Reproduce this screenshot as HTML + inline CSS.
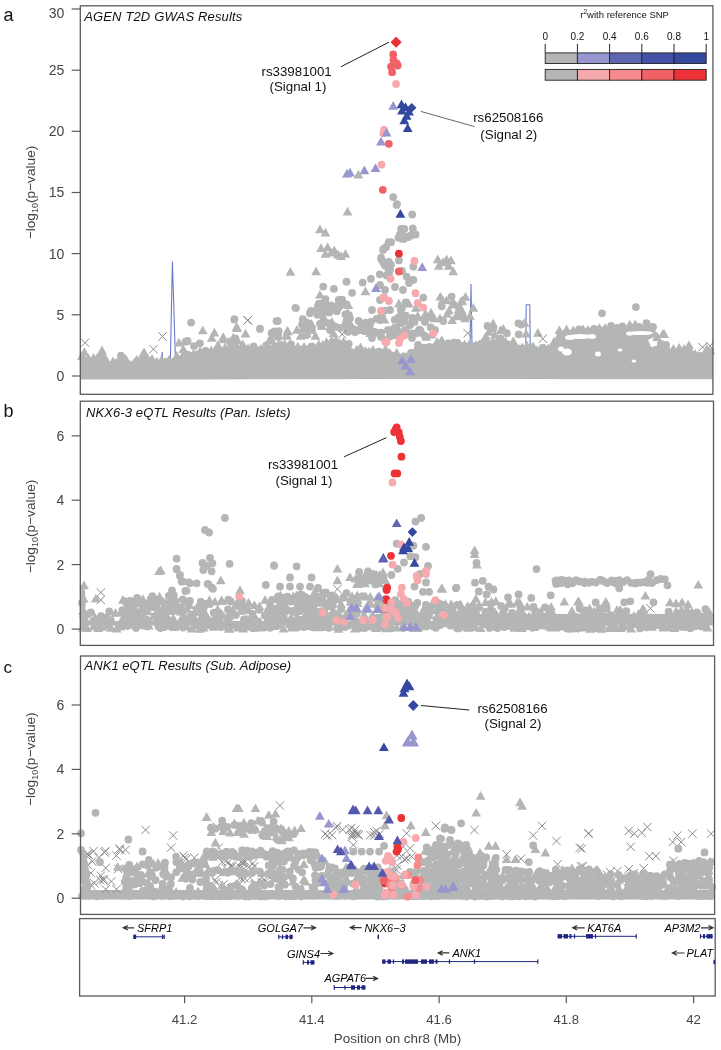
<!DOCTYPE html><html><head><meta charset="utf-8"><style>html,body{margin:0;padding:0;background:#fff;width:721px;height:1050px;overflow:hidden}svg{display:block;will-change:transform}text{font-family:"Liberation Sans",sans-serif}.tk{font-size:14px;fill:#444}.ti{font-size:13px;font-style:italic;fill:#111}.an{font-size:13.3px;fill:#111}.gn{font-size:11px;font-style:italic;fill:#000}</style></head><body><svg width="721" height="1050" viewBox="0 0 721 1050"><path d="M160.0 378.0L162.2 352.0L163.5 378.0M170.0 378.0L172.4 261.5L176.0 378.0M469.5 378.0L471.0 284.0L472.5 378.0M525.5 378.0L526.2 304.7L529.8 304.7L530.5 378.0" fill="none" stroke="#6b7bcc" stroke-width="1.1"/>
<path d="M80.8 357.0L84.4 355.0L88.0 360.0L91.0 360.5L97.0 358.0L102.0 355.0L107.7 362.0L113.3 360.5L119.0 357.0L124.4 359.6L131.0 363.0L134.4 358.0L139.0 359.0L144.4 355.0L151.0 357.4L157.7 360.0L165.0 358.0L172.0 358.5L183.0 355.5L194.4 351.0L207.7 348.8L216.6 349.5L238.8 345.5L261.0 346.5L283.0 344.5L305.3 345.5L318.8 344.5L341.0 340.5L354.0 349.5L363.0 348.5L385.0 349.5L402.0 354.5L440.0 341.0L470.0 343.0L500.0 339.0L520.0 345.0L540.0 348.0L552.5 344.5L558.0 331.5L581.6 328.7L606.6 326.2L640.0 325.9L648.3 324.5L656.0 331.5L660.0 335.5L652.0 338.0L648.0 340.0L651.2 347.0L658.3 345.5L666.6 345.0L672.5 350.5L679.5 348.0L685.4 347.0L697.2 354.0L707.8 350.0L712.5 348.0L712.5 379.2L600.0 379.2L500.0 379.0L400.0 379.0L300.0 379.2L200.0 379.4L80.8 379.6ZM327.0 307.5a3.9 3.9 0 1 1 7.8 0a3.9 3.9 0 1 1 -7.8 0M327.5 306.6a3.9 3.9 0 1 1 7.8 0a3.9 3.9 0 1 1 -7.8 0M318.2 306.7a3.9 3.9 0 1 1 7.8 0a3.9 3.9 0 1 1 -7.8 0M338.3 299.6a3.9 3.9 0 1 1 7.8 0a3.9 3.9 0 1 1 -7.8 0M315.1 311.8a3.9 3.9 0 1 1 7.8 0a3.9 3.9 0 1 1 -7.8 0M313.5 314.7a3.9 3.9 0 1 1 7.8 0a3.9 3.9 0 1 1 -7.8 0M333.7 308.5a3.9 3.9 0 1 1 7.8 0a3.9 3.9 0 1 1 -7.8 0M316.5 302.6l4.9 8.7h-9.8zM322.3 297.8l4.9 8.7h-9.8zM327.4 305.5a3.9 3.9 0 1 1 7.8 0a3.9 3.9 0 1 1 -7.8 0M329.2 308.9a3.9 3.9 0 1 1 7.8 0a3.9 3.9 0 1 1 -7.8 0M334.0 305.8a3.9 3.9 0 1 1 7.8 0a3.9 3.9 0 1 1 -7.8 0M345.0 314.9a3.9 3.9 0 1 1 7.8 0a3.9 3.9 0 1 1 -7.8 0M335.5 303.4a3.9 3.9 0 1 1 7.8 0a3.9 3.9 0 1 1 -7.8 0M321.6 299.2a3.9 3.9 0 1 1 7.8 0a3.9 3.9 0 1 1 -7.8 0M325.3 312.4a3.9 3.9 0 1 1 7.8 0a3.9 3.9 0 1 1 -7.8 0M347.6 308.1l4.9 8.7h-9.8zM319.0 313.5a3.9 3.9 0 1 1 7.8 0a3.9 3.9 0 1 1 -7.8 0M348.4 300.4l4.9 8.7h-9.8zM332.9 311.2a3.9 3.9 0 1 1 7.8 0a3.9 3.9 0 1 1 -7.8 0M315.0 303.7a3.9 3.9 0 1 1 7.8 0a3.9 3.9 0 1 1 -7.8 0M337.1 300.0a3.9 3.9 0 1 1 7.8 0a3.9 3.9 0 1 1 -7.8 0M298.9 319.1a3.9 3.9 0 1 1 7.8 0a3.9 3.9 0 1 1 -7.8 0M301.9 328.1a3.9 3.9 0 1 1 7.8 0a3.9 3.9 0 1 1 -7.8 0M306.2 326.8l4.9 8.7h-9.8zM319.6 320.1a3.9 3.9 0 1 1 7.8 0a3.9 3.9 0 1 1 -7.8 0M303.2 322.9a3.9 3.9 0 1 1 7.8 0a3.9 3.9 0 1 1 -7.8 0M325.6 323.5a3.9 3.9 0 1 1 7.8 0a3.9 3.9 0 1 1 -7.8 0M303.1 325.1a3.9 3.9 0 1 1 7.8 0a3.9 3.9 0 1 1 -7.8 0M319.5 319.8a3.9 3.9 0 1 1 7.8 0a3.9 3.9 0 1 1 -7.8 0M303.2 322.6a3.9 3.9 0 1 1 7.8 0a3.9 3.9 0 1 1 -7.8 0M311.5 319.0l4.9 8.7h-9.8zM302.4 324.1l4.9 8.7h-9.8zM317.9 324.7a3.9 3.9 0 1 1 7.8 0a3.9 3.9 0 1 1 -7.8 0M331.5 326.7a3.9 3.9 0 1 1 7.8 0a3.9 3.9 0 1 1 -7.8 0M331.9 316.9l4.9 8.7h-9.8zM333.5 328.4l4.9 8.7h-9.8zM302.3 331.3a3.9 3.9 0 1 1 7.8 0a3.9 3.9 0 1 1 -7.8 0M302.6 335.1a3.9 3.9 0 1 1 7.8 0a3.9 3.9 0 1 1 -7.8 0M321.9 321.2l4.9 8.7h-9.8zM300.5 331.0l4.9 8.7h-9.8zM321.9 322.6a3.9 3.9 0 1 1 7.8 0a3.9 3.9 0 1 1 -7.8 0M366.5 320.2l4.9 8.7h-9.8zM367.0 321.8a3.9 3.9 0 1 1 7.8 0a3.9 3.9 0 1 1 -7.8 0M361.2 331.2a3.9 3.9 0 1 1 7.8 0a3.9 3.9 0 1 1 -7.8 0M351.2 332.0a3.9 3.9 0 1 1 7.8 0a3.9 3.9 0 1 1 -7.8 0M341.7 324.2a3.9 3.9 0 1 1 7.8 0a3.9 3.9 0 1 1 -7.8 0M343.3 323.1a3.9 3.9 0 1 1 7.8 0a3.9 3.9 0 1 1 -7.8 0M361.7 322.6a3.9 3.9 0 1 1 7.8 0a3.9 3.9 0 1 1 -7.8 0M373.2 332.8a3.9 3.9 0 1 1 7.8 0a3.9 3.9 0 1 1 -7.8 0M369.9 323.7l4.9 8.7h-9.8zM342.4 321.2a3.9 3.9 0 1 1 7.8 0a3.9 3.9 0 1 1 -7.8 0M370.2 328.2l4.9 8.7h-9.8zM364.0 326.8a3.9 3.9 0 1 1 7.8 0a3.9 3.9 0 1 1 -7.8 0M388.1 331.6l4.9 8.7h-9.8zM393.5 330.5a3.9 3.9 0 1 1 7.8 0a3.9 3.9 0 1 1 -7.8 0M401.3 329.8a3.9 3.9 0 1 1 7.8 0a3.9 3.9 0 1 1 -7.8 0M408.6 322.4a3.9 3.9 0 1 1 7.8 0a3.9 3.9 0 1 1 -7.8 0M408.0 333.3a3.9 3.9 0 1 1 7.8 0a3.9 3.9 0 1 1 -7.8 0M403.5 333.1a3.9 3.9 0 1 1 7.8 0a3.9 3.9 0 1 1 -7.8 0M396.7 323.0a3.9 3.9 0 1 1 7.8 0a3.9 3.9 0 1 1 -7.8 0M396.1 316.7a3.9 3.9 0 1 1 7.8 0a3.9 3.9 0 1 1 -7.8 0M411.8 333.5a3.9 3.9 0 1 1 7.8 0a3.9 3.9 0 1 1 -7.8 0M387.0 330.4a3.9 3.9 0 1 1 7.8 0a3.9 3.9 0 1 1 -7.8 0M393.1 328.3l4.9 8.7h-9.8zM401.9 315.6a3.9 3.9 0 1 1 7.8 0a3.9 3.9 0 1 1 -7.8 0M390.8 319.8a3.9 3.9 0 1 1 7.8 0a3.9 3.9 0 1 1 -7.8 0M391.5 327.9a3.9 3.9 0 1 1 7.8 0a3.9 3.9 0 1 1 -7.8 0M415.9 303.0l4.9 8.7h-9.8zM425.6 308.9l4.9 8.7h-9.8zM426.9 327.5a3.9 3.9 0 1 1 7.8 0a3.9 3.9 0 1 1 -7.8 0M426.6 317.1a3.9 3.9 0 1 1 7.8 0a3.9 3.9 0 1 1 -7.8 0M410.7 320.4a3.9 3.9 0 1 1 7.8 0a3.9 3.9 0 1 1 -7.8 0M431.0 329.9l4.9 8.7h-9.8zM423.4 312.5l4.9 8.7h-9.8zM417.5 332.9a3.9 3.9 0 1 1 7.8 0a3.9 3.9 0 1 1 -7.8 0M426.4 332.1l4.9 8.7h-9.8zM413.9 316.6l4.9 8.7h-9.8zM437.9 306.3a3.9 3.9 0 1 1 7.8 0a3.9 3.9 0 1 1 -7.8 0M449.3 303.9a3.9 3.9 0 1 1 7.8 0a3.9 3.9 0 1 1 -7.8 0M473.3 303.0l4.9 8.7h-9.8zM434.3 313.5l4.9 8.7h-9.8zM462.1 305.9l4.9 8.7h-9.8zM465.5 292.1l4.9 8.7h-9.8zM447.7 296.6a3.9 3.9 0 1 1 7.8 0a3.9 3.9 0 1 1 -7.8 0M442.7 295.2l4.9 8.7h-9.8zM454.9 307.2a3.9 3.9 0 1 1 7.8 0a3.9 3.9 0 1 1 -7.8 0M456.0 316.2a3.9 3.9 0 1 1 7.8 0a3.9 3.9 0 1 1 -7.8 0M461.1 296.6l4.9 8.7h-9.8zM440.3 291.9l4.9 8.7h-9.8zM462.3 296.1l4.9 8.7h-9.8zM447.2 309.1l4.9 8.7h-9.8zM381.5 265.7a3.9 3.9 0 1 1 7.8 0a3.9 3.9 0 1 1 -7.8 0M388.5 266.5l4.9 8.7h-9.8zM387.0 264.6a3.9 3.9 0 1 1 7.8 0a3.9 3.9 0 1 1 -7.8 0M378.8 261.3a3.9 3.9 0 1 1 7.8 0a3.9 3.9 0 1 1 -7.8 0M377.5 259.3a3.9 3.9 0 1 1 7.8 0a3.9 3.9 0 1 1 -7.8 0M384.6 272.1a3.9 3.9 0 1 1 7.8 0a3.9 3.9 0 1 1 -7.8 0M382.2 247.0a3.9 3.9 0 1 1 7.8 0a3.9 3.9 0 1 1 -7.8 0M385.0 261.8a3.9 3.9 0 1 1 7.8 0a3.9 3.9 0 1 1 -7.8 0M397.9 238.8a3.9 3.9 0 1 1 7.8 0a3.9 3.9 0 1 1 -7.8 0M411.7 234.4a3.9 3.9 0 1 1 7.8 0a3.9 3.9 0 1 1 -7.8 0M399.9 238.9a3.9 3.9 0 1 1 7.8 0a3.9 3.9 0 1 1 -7.8 0M400.4 229.0a3.9 3.9 0 1 1 7.8 0a3.9 3.9 0 1 1 -7.8 0M404.0 237.2a3.9 3.9 0 1 1 7.8 0a3.9 3.9 0 1 1 -7.8 0M394.6 237.7a3.9 3.9 0 1 1 7.8 0a3.9 3.9 0 1 1 -7.8 0M288.0 326.6l4.9 8.7h-9.8zM287.3 326.0l4.9 8.7h-9.8zM267.1 340.3a3.9 3.9 0 1 1 7.8 0a3.9 3.9 0 1 1 -7.8 0M281.4 339.7l4.9 8.7h-9.8zM296.9 325.1l4.9 8.7h-9.8zM267.7 332.9a3.9 3.9 0 1 1 7.8 0a3.9 3.9 0 1 1 -7.8 0M274.4 336.9a3.9 3.9 0 1 1 7.8 0a3.9 3.9 0 1 1 -7.8 0M273.6 328.9l4.9 8.7h-9.8zM290.7 339.0l4.9 8.7h-9.8zM287.1 344.5a3.9 3.9 0 1 1 7.8 0a3.9 3.9 0 1 1 -7.8 0M270.5 331.4a3.9 3.9 0 1 1 7.8 0a3.9 3.9 0 1 1 -7.8 0M270.2 333.9l4.9 8.7h-9.8zM537.9 328.0l4.9 8.7h-9.8zM526.1 328.9l4.9 8.7h-9.8zM514.5 323.3a3.9 3.9 0 1 1 7.8 0a3.9 3.9 0 1 1 -7.8 0M495.1 341.1a3.9 3.9 0 1 1 7.8 0a3.9 3.9 0 1 1 -7.8 0M488.8 327.1l4.9 8.7h-9.8zM496.5 338.3a3.9 3.9 0 1 1 7.8 0a3.9 3.9 0 1 1 -7.8 0M503.4 324.0l4.9 8.7h-9.8zM513.3 336.2l4.9 8.7h-9.8zM524.6 318.1l4.9 8.7h-9.8zM485.9 331.4l4.9 8.7h-9.8zM494.9 330.0l4.9 8.7h-9.8zM517.3 324.5a3.9 3.9 0 1 1 7.8 0a3.9 3.9 0 1 1 -7.8 0M483.6 326.0a3.9 3.9 0 1 1 7.8 0a3.9 3.9 0 1 1 -7.8 0M500.6 325.2l4.9 8.7h-9.8zM211.8 333.0l4.9 8.7h-9.8zM217.9 340.2l4.9 8.7h-9.8zM227.2 344.2a3.9 3.9 0 1 1 7.8 0a3.9 3.9 0 1 1 -7.8 0M190.1 346.1a3.9 3.9 0 1 1 7.8 0a3.9 3.9 0 1 1 -7.8 0M234.2 335.4l4.9 8.7h-9.8zM231.5 338.3a3.9 3.9 0 1 1 7.8 0a3.9 3.9 0 1 1 -7.8 0M233.3 332.7l4.9 8.7h-9.8zM223.6 334.5l4.9 8.7h-9.8zM226.0 341.3a3.9 3.9 0 1 1 7.8 0a3.9 3.9 0 1 1 -7.8 0M183.7 341.0a3.9 3.9 0 1 1 7.8 0a3.9 3.9 0 1 1 -7.8 0M357.7 327.2a3.9 3.9 0 1 1 7.8 0a3.9 3.9 0 1 1 -7.8 0M346.1 318.2a3.9 3.9 0 1 1 7.8 0a3.9 3.9 0 1 1 -7.8 0M350.7 329.3a3.9 3.9 0 1 1 7.8 0a3.9 3.9 0 1 1 -7.8 0M362.2 325.8a3.9 3.9 0 1 1 7.8 0a3.9 3.9 0 1 1 -7.8 0M350.1 319.8l4.9 8.7h-9.8zM372.8 318.8a3.9 3.9 0 1 1 7.8 0a3.9 3.9 0 1 1 -7.8 0M343.7 327.6a3.9 3.9 0 1 1 7.8 0a3.9 3.9 0 1 1 -7.8 0M359.2 325.4l4.9 8.7h-9.8zM343.2 330.8a3.9 3.9 0 1 1 7.8 0a3.9 3.9 0 1 1 -7.8 0M344.3 331.8a3.9 3.9 0 1 1 7.8 0a3.9 3.9 0 1 1 -7.8 0M384.5 314.7l4.9 8.7h-9.8zM392.5 323.6l4.9 8.7h-9.8zM407.9 298.0l4.9 8.7h-9.8zM408.7 318.0a3.9 3.9 0 1 1 7.8 0a3.9 3.9 0 1 1 -7.8 0M399.9 321.5a3.9 3.9 0 1 1 7.8 0a3.9 3.9 0 1 1 -7.8 0M377.3 332.7a3.9 3.9 0 1 1 7.8 0a3.9 3.9 0 1 1 -7.8 0M415.2 329.9a3.9 3.9 0 1 1 7.8 0a3.9 3.9 0 1 1 -7.8 0M390.6 331.1a3.9 3.9 0 1 1 7.8 0a3.9 3.9 0 1 1 -7.8 0M380.7 310.6a3.9 3.9 0 1 1 7.8 0a3.9 3.9 0 1 1 -7.8 0M396.6 336.5a3.9 3.9 0 1 1 7.8 0a3.9 3.9 0 1 1 -7.8 0M377.2 337.0a3.9 3.9 0 1 1 7.8 0a3.9 3.9 0 1 1 -7.8 0M396.9 310.0a3.9 3.9 0 1 1 7.8 0a3.9 3.9 0 1 1 -7.8 0M395.5 330.4l4.9 8.7h-9.8zM398.1 308.0a3.9 3.9 0 1 1 7.8 0a3.9 3.9 0 1 1 -7.8 0M381.5 308.1l4.9 8.7h-9.8zM401.6 302.3a3.9 3.9 0 1 1 7.8 0a3.9 3.9 0 1 1 -7.8 0M80.8 621.0L712.8 621.0L712.8 625.5L80.8 625.5ZM440.0 614.0L712.8 614.0L712.8 622.0L440.0 622.0ZM80.8 585.0L85.0 590.0L86.0 628.0L80.8 628.0ZM80.8 890.0L714.0 890.0L714.0 899.6L80.8 899.6Z" fill="#b4b6b5"/>
<path d="M568.0 336.5a12 2.5 0 1 1 24.0 0a12 2.5 0 1 1 -24.0 0M565.0 337.5a5 2.5 0 1 1 10.0 0a5 2.5 0 1 1 -10.0 0M588.0 336.5a4 2.5 0 1 1 8.0 0a4 2.5 0 1 1 -8.0 0M629.0 333.0a12 2 0 1 1 24.0 0a12 2 0 1 1 -24.0 0M626.0 333.5a4 2 0 1 1 8.0 0a4 2 0 1 1 -8.0 0M562.0 352.0a5 3.5 0 1 1 10.0 0a5 3.5 0 1 1 -10.0 0M558.0 349.0a3 2.5 0 1 1 6.0 0a3 2.5 0 1 1 -6.0 0M595.0 354.0a3 2.5 0 1 1 6.0 0a3 2.5 0 1 1 -6.0 0M631.5 361.0a2.5 1.5 0 1 1 5.0 0a2.5 1.5 0 1 1 -5.0 0M617.5 350.0a2.5 1.5 0 1 1 5.0 0a2.5 1.5 0 1 1 -5.0 0" fill="#ffffff"/>
<path d="M80.8 338.5l8.4 8.4M80.8 346.9l8.4 -8.4M149.3 345.0l8.4 8.4M149.3 353.4l8.4 -8.4M158.3 332.3l8.4 8.4M158.3 340.7l8.4 -8.4M243.6 316.1l8.4 8.4M243.6 324.5l8.4 -8.4M243.4 316.2l8.4 8.4M243.4 324.6l8.4 -8.4M337.9 330.1l8.4 8.4M337.9 338.5l8.4 -8.4M463.5 329.0l8.4 8.4M463.5 337.4l8.4 -8.4M538.6 334.5l8.4 8.4M538.6 342.9l8.4 -8.4M698.3 343.0l8.4 8.4M698.3 351.4l8.4 -8.4M705.8 341.6l8.4 8.4M705.8 350.0l8.4 -8.4M96.6 588.3l8.4 8.4M96.6 596.7l8.4 -8.4M96.6 595.8l8.4 8.4M96.6 604.2l8.4 -8.4M333.2 584.9l8.4 8.4M333.2 593.3l8.4 -8.4M289.1 594.1l8.4 8.4M289.1 602.5l8.4 -8.4M225.8 620.8l8.4 8.4M225.8 629.2l8.4 -8.4M646.3 604.2l8.4 8.4M646.3 612.6l8.4 -8.4M569.8 624.3l8.4 8.4M569.8 632.7l8.4 -8.4M141.3 825.8l8.4 8.4M141.3 834.2l8.4 -8.4M169.0 831.3l8.4 8.4M169.0 839.7l8.4 -8.4M166.8 843.5l8.4 8.4M166.8 851.9l8.4 -8.4M121.3 845.7l8.4 8.4M121.3 854.1l8.4 -8.4M101.3 846.8l8.4 8.4M101.3 855.2l8.4 -8.4M94.7 853.5l8.4 8.4M94.7 861.9l8.4 -8.4M182.3 854.6l8.4 8.4M182.3 863.0l8.4 -8.4M190.1 853.5l8.4 8.4M190.1 861.9l8.4 -8.4M212.3 822.4l8.4 8.4M212.3 830.8l8.4 -8.4M214.5 843.5l8.4 8.4M214.5 851.9l8.4 -8.4M275.7 801.3l8.4 8.4M275.7 809.7l8.4 -8.4M431.6 821.6l8.4 8.4M431.6 830.0l8.4 -8.4M402.4 829.1l8.4 8.4M402.4 837.5l8.4 -8.4M349.1 840.8l8.4 8.4M349.1 849.2l8.4 -8.4M405.8 844.1l8.4 8.4M405.8 852.5l8.4 -8.4M402.4 854.1l8.4 8.4M402.4 862.5l8.4 -8.4M407.4 852.4l8.4 8.4M407.4 860.8l8.4 -8.4M392.4 865.8l8.4 8.4M392.4 874.2l8.4 -8.4M395.8 872.4l8.4 8.4M395.8 880.8l8.4 -8.4M444.1 867.4l8.4 8.4M444.1 875.8l8.4 -8.4M537.9 821.7l8.4 8.4M537.9 830.1l8.4 -8.4M529.0 831.3l8.4 8.4M529.0 839.7l8.4 -8.4M552.3 836.8l8.4 8.4M552.3 845.2l8.4 -8.4M584.5 829.0l8.4 8.4M584.5 837.4l8.4 -8.4M575.6 843.5l8.4 8.4M575.6 851.9l8.4 -8.4M553.4 860.1l8.4 8.4M553.4 868.5l8.4 -8.4M576.8 862.3l8.4 8.4M576.8 870.7l8.4 -8.4M489.1 861.2l8.4 8.4M489.1 869.6l8.4 -8.4M502.4 850.1l8.4 8.4M502.4 858.5l8.4 -8.4M516.8 854.6l8.4 8.4M516.8 863.0l8.4 -8.4M470.2 825.8l8.4 8.4M470.2 834.2l8.4 -8.4M584.2 829.5l8.4 8.4M584.2 837.9l8.4 -8.4M624.5 826.7l8.4 8.4M624.5 835.1l8.4 -8.4M630.1 829.5l8.4 8.4M630.1 837.9l8.4 -8.4M637.6 828.5l8.4 8.4M637.6 836.9l8.4 -8.4M643.2 822.9l8.4 8.4M643.2 831.3l8.4 -8.4M626.4 842.6l8.4 8.4M626.4 851.0l8.4 -8.4M577.7 844.5l8.4 8.4M577.7 852.9l8.4 -8.4M673.2 831.3l8.4 8.4M673.2 839.7l8.4 -8.4M668.5 837.9l8.4 8.4M668.5 846.3l8.4 -8.4M676.9 837.9l8.4 8.4M676.9 846.3l8.4 -8.4M688.2 829.5l8.4 8.4M688.2 837.9l8.4 -8.4M706.9 829.5l8.4 8.4M706.9 837.9l8.4 -8.4M645.1 851.9l8.4 8.4M645.1 860.3l8.4 -8.4M651.6 851.9l8.4 8.4M651.6 860.3l8.4 -8.4M669.4 856.6l8.4 8.4M669.4 865.0l8.4 -8.4M683.5 859.4l8.4 8.4M683.5 867.8l8.4 -8.4M578.6 862.2l8.4 8.4M578.6 870.6l8.4 -8.4M605.8 867.9l8.4 8.4M605.8 876.3l8.4 -8.4M613.3 866.9l8.4 8.4M613.3 875.3l8.4 -8.4M624.5 865.1l8.4 8.4M624.5 873.5l8.4 -8.4M639.5 864.1l8.4 8.4M639.5 872.5l8.4 -8.4M113.9 864.8l8.4 8.4M113.9 873.2l8.4 -8.4M101.5 885.1l8.4 8.4M101.5 893.5l8.4 -8.4M90.1 879.0l8.4 8.4M90.1 887.4l8.4 -8.4M83.5 849.8l8.4 8.4M83.5 858.2l8.4 -8.4M88.1 857.2l8.4 8.4M88.1 865.6l8.4 -8.4M86.7 868.8l8.4 8.4M86.7 877.2l8.4 -8.4M112.3 885.0l8.4 8.4M112.3 893.4l8.4 -8.4M100.3 848.2l8.4 8.4M100.3 856.6l8.4 -8.4M112.2 851.4l8.4 8.4M112.2 859.8l8.4 -8.4M101.5 863.8l8.4 8.4M101.5 872.2l8.4 -8.4M96.2 876.0l8.4 8.4M96.2 884.4l8.4 -8.4M83.4 860.7l8.4 8.4M83.4 869.1l8.4 -8.4M116.0 845.7l8.4 8.4M116.0 854.1l8.4 -8.4M96.7 871.5l8.4 8.4M96.7 879.9l8.4 -8.4M115.4 844.4l8.4 8.4M115.4 852.8l8.4 -8.4M99.2 876.2l8.4 8.4M99.2 884.6l8.4 -8.4M99.3 874.8l8.4 8.4M99.3 883.2l8.4 -8.4M83.1 850.0l8.4 8.4M83.1 858.4l8.4 -8.4M86.5 881.0l8.4 8.4M86.5 889.4l8.4 -8.4M107.0 877.3l8.4 8.4M107.0 885.7l8.4 -8.4M84.8 850.9l8.4 8.4M84.8 859.3l8.4 -8.4M89.4 846.9l8.4 8.4M89.4 855.3l8.4 -8.4M232.9 863.6l8.4 8.4M232.9 872.0l8.4 -8.4M237.2 857.4l8.4 8.4M237.2 865.8l8.4 -8.4M236.5 863.4l8.4 8.4M236.5 871.8l8.4 -8.4M238.7 856.4l8.4 8.4M238.7 864.8l8.4 -8.4M250.0 862.2l8.4 8.4M250.0 870.6l8.4 -8.4M226.5 861.6l8.4 8.4M226.5 870.0l8.4 -8.4M224.3 857.9l8.4 8.4M224.3 866.3l8.4 -8.4M244.5 863.1l8.4 8.4M244.5 871.5l8.4 -8.4M217.9 857.9l8.4 8.4M217.9 866.3l8.4 -8.4M248.7 859.2l8.4 8.4M248.7 867.6l8.4 -8.4M239.8 864.5l8.4 8.4M239.8 872.9l8.4 -8.4M221.4 857.1l8.4 8.4M221.4 865.5l8.4 -8.4M241.0 857.1l8.4 8.4M241.0 865.5l8.4 -8.4M228.1 862.0l8.4 8.4M228.1 870.4l8.4 -8.4M238.3 859.0l8.4 8.4M238.3 867.4l8.4 -8.4M223.2 865.5l8.4 8.4M223.2 873.9l8.4 -8.4M259.8 878.6l8.4 8.4M259.8 887.0l8.4 -8.4M251.3 880.0l8.4 8.4M251.3 888.4l8.4 -8.4M219.3 880.3l8.4 8.4M219.3 888.7l8.4 -8.4M235.3 879.8l8.4 8.4M235.3 888.2l8.4 -8.4M257.5 878.4l8.4 8.4M257.5 886.8l8.4 -8.4M257.5 872.9l8.4 8.4M257.5 881.3l8.4 -8.4M240.7 874.2l8.4 8.4M240.7 882.6l8.4 -8.4M236.2 873.5l8.4 8.4M236.2 881.9l8.4 -8.4M211.0 875.8l8.4 8.4M211.0 884.2l8.4 -8.4M211.8 878.1l8.4 8.4M211.8 886.5l8.4 -8.4M245.9 873.4l8.4 8.4M245.9 881.8l8.4 -8.4M259.8 875.6l8.4 8.4M259.8 884.0l8.4 -8.4M250.1 880.6l8.4 8.4M250.1 889.0l8.4 -8.4M237.6 875.0l8.4 8.4M237.6 883.4l8.4 -8.4M327.9 831.0l8.4 8.4M327.9 839.4l8.4 -8.4M345.5 825.5l8.4 8.4M345.5 833.9l8.4 -8.4M347.6 832.7l8.4 8.4M347.6 841.1l8.4 -8.4M320.9 829.7l8.4 8.4M320.9 838.1l8.4 -8.4M332.9 821.9l8.4 8.4M332.9 830.3l8.4 -8.4M347.2 823.7l8.4 8.4M347.2 832.1l8.4 -8.4M338.6 825.4l8.4 8.4M338.6 833.8l8.4 -8.4M323.2 831.5l8.4 8.4M323.2 839.9l8.4 -8.4M331.8 823.5l8.4 8.4M331.8 831.9l8.4 -8.4M352.3 829.9l8.4 8.4M352.3 838.3l8.4 -8.4M372.4 826.7l8.4 8.4M372.4 835.1l8.4 -8.4M370.1 828.1l8.4 8.4M370.1 836.5l8.4 -8.4M347.6 830.3l8.4 8.4M347.6 838.7l8.4 -8.4M375.5 829.7l8.4 8.4M375.5 838.1l8.4 -8.4M369.8 831.4l8.4 8.4M369.8 839.8l8.4 -8.4M349.2 829.8l8.4 8.4M349.2 838.2l8.4 -8.4M353.3 829.9l8.4 8.4M353.3 838.3l8.4 -8.4M366.2 830.8l8.4 8.4M366.2 839.2l8.4 -8.4M354.6 831.0l8.4 8.4M354.6 839.4l8.4 -8.4M350.9 825.6l8.4 8.4M350.9 834.0l8.4 -8.4M607.0 877.2l8.4 8.4M607.0 885.6l8.4 -8.4M602.6 870.3l8.4 8.4M602.6 878.7l8.4 -8.4M572.2 872.4l8.4 8.4M572.2 880.8l8.4 -8.4M585.6 873.3l8.4 8.4M585.6 881.7l8.4 -8.4M556.1 878.8l8.4 8.4M556.1 887.2l8.4 -8.4M566.2 880.2l8.4 8.4M566.2 888.6l8.4 -8.4M582.9 877.7l8.4 8.4M582.9 886.1l8.4 -8.4M602.8 876.1l8.4 8.4M602.8 884.5l8.4 -8.4M675.3 869.8l8.4 8.4M675.3 878.2l8.4 -8.4M636.5 874.0l8.4 8.4M636.5 882.4l8.4 -8.4M648.7 874.7l8.4 8.4M648.7 883.1l8.4 -8.4M680.2 868.1l8.4 8.4M680.2 876.5l8.4 -8.4M691.5 871.3l8.4 8.4M691.5 879.7l8.4 -8.4M643.3 874.9l8.4 8.4M643.3 883.3l8.4 -8.4M651.9 874.6l8.4 8.4M651.9 883.0l8.4 -8.4M629.5 869.0l8.4 8.4M629.5 877.4l8.4 -8.4M399.0 842.4l8.4 8.4M399.0 850.8l8.4 -8.4M392.8 851.3l8.4 8.4M392.8 859.7l8.4 -8.4M393.4 861.5l8.4 8.4M393.4 869.9l8.4 -8.4M388.1 859.9l8.4 8.4M388.1 868.3l8.4 -8.4M400.2 855.2l8.4 8.4M400.2 863.6l8.4 -8.4M397.3 852.1l8.4 8.4M397.3 860.5l8.4 -8.4M181.7 863.0l8.4 8.4M181.7 871.4l8.4 -8.4M183.1 864.8l8.4 8.4M183.1 873.2l8.4 -8.4M179.2 851.5l8.4 8.4M179.2 859.9l8.4 -8.4M180.6 853.5l8.4 8.4M180.6 861.9l8.4 -8.4M191.8 864.4l8.4 8.4M191.8 872.8l8.4 -8.4" fill="none" stroke="#858585" stroke-width="0.95"/>
<path d="M82.0 351.1l4.9 8.7h-9.8zM88.4 353.6l4.9 8.7h-9.8zM93.6 352.9l4.9 8.7h-9.8zM97.2 353.2l4.9 8.7h-9.8zM97.3 355.1a3.9 3.9 0 1 1 7.8 0a3.9 3.9 0 1 1 -7.8 0M105.2 353.2l4.9 8.7h-9.8zM113.0 356.6l4.9 8.7h-9.8zM117.0 355.6a3.9 3.9 0 1 1 7.8 0a3.9 3.9 0 1 1 -7.8 0M125.7 354.1l4.9 8.7h-9.8zM130.6 360.0l4.9 8.7h-9.8zM136.7 354.8l4.9 8.7h-9.8zM142.6 349.8l4.9 8.7h-9.8zM147.1 352.5l4.9 8.7h-9.8zM152.0 353.9l4.9 8.7h-9.8zM156.8 356.8l4.9 8.7h-9.8zM161.4 355.0l4.9 8.7h-9.8zM168.9 355.1l4.9 8.7h-9.8zM176.8 350.9l4.9 8.7h-9.8zM183.7 349.1l4.9 8.7h-9.8zM183.5 354.6a3.9 3.9 0 1 1 7.8 0a3.9 3.9 0 1 1 -7.8 0M193.4 348.9l4.9 8.7h-9.8zM200.1 346.2l4.9 8.7h-9.8zM201.7 350.8a3.9 3.9 0 1 1 7.8 0a3.9 3.9 0 1 1 -7.8 0M211.3 345.6l4.9 8.7h-9.8zM214.0 350.0a3.9 3.9 0 1 1 7.8 0a3.9 3.9 0 1 1 -7.8 0M225.1 342.5l4.9 8.7h-9.8zM231.6 340.1l4.9 8.7h-9.8zM235.9 339.8l4.9 8.7h-9.8zM242.8 339.5l4.9 8.7h-9.8zM248.1 343.4l4.9 8.7h-9.8zM249.7 346.4a3.9 3.9 0 1 1 7.8 0a3.9 3.9 0 1 1 -7.8 0M260.8 344.0l4.9 8.7h-9.8zM262.3 345.3a3.9 3.9 0 1 1 7.8 0a3.9 3.9 0 1 1 -7.8 0M274.0 339.2l4.9 8.7h-9.8zM278.5 339.2l4.9 8.7h-9.8zM284.7 339.0l4.9 8.7h-9.8zM290.1 339.8l4.9 8.7h-9.8zM297.8 341.8l4.9 8.7h-9.8zM304.1 342.0l4.9 8.7h-9.8zM307.8 346.4a3.9 3.9 0 1 1 7.8 0a3.9 3.9 0 1 1 -7.8 0M318.8 339.6l4.9 8.7h-9.8zM322.7 340.1l4.9 8.7h-9.8zM326.5 337.3l4.9 8.7h-9.8zM331.6 335.6l4.9 8.7h-9.8zM335.7 335.1l4.9 8.7h-9.8zM339.4 338.3l4.9 8.7h-9.8zM343.5 336.7l4.9 8.7h-9.8zM344.8 343.9a3.9 3.9 0 1 1 7.8 0a3.9 3.9 0 1 1 -7.8 0M356.6 344.7l4.9 8.7h-9.8zM360.5 342.4l4.9 8.7h-9.8zM365.2 345.9l4.9 8.7h-9.8zM368.8 346.7l4.9 8.7h-9.8zM373.0 344.8l4.9 8.7h-9.8zM375.0 351.6a3.9 3.9 0 1 1 7.8 0a3.9 3.9 0 1 1 -7.8 0M385.5 344.1l4.9 8.7h-9.8zM389.7 347.9l4.9 8.7h-9.8zM396.7 347.8l4.9 8.7h-9.8zM400.0 356.3a3.9 3.9 0 1 1 7.8 0a3.9 3.9 0 1 1 -7.8 0M407.1 352.9a3.9 3.9 0 1 1 7.8 0a3.9 3.9 0 1 1 -7.8 0M415.5 345.4l4.9 8.7h-9.8zM419.2 341.7l4.9 8.7h-9.8zM419.9 347.7a3.9 3.9 0 1 1 7.8 0a3.9 3.9 0 1 1 -7.8 0M425.5 347.0a3.9 3.9 0 1 1 7.8 0a3.9 3.9 0 1 1 -7.8 0M437.1 337.0l4.9 8.7h-9.8zM441.7 335.2l4.9 8.7h-9.8zM444.1 343.5a3.9 3.9 0 1 1 7.8 0a3.9 3.9 0 1 1 -7.8 0M449.7 342.7a3.9 3.9 0 1 1 7.8 0a3.9 3.9 0 1 1 -7.8 0M453.6 343.0a3.9 3.9 0 1 1 7.8 0a3.9 3.9 0 1 1 -7.8 0M464.5 339.5l4.9 8.7h-9.8zM468.8 340.0l4.9 8.7h-9.8zM475.9 340.2l4.9 8.7h-9.8zM477.4 343.7a3.9 3.9 0 1 1 7.8 0a3.9 3.9 0 1 1 -7.8 0M485.5 334.7l4.9 8.7h-9.8zM493.1 337.1l4.9 8.7h-9.8zM500.3 337.1l4.9 8.7h-9.8zM505.4 336.5l4.9 8.7h-9.8zM508.9 339.7l4.9 8.7h-9.8zM514.8 341.3l4.9 8.7h-9.8zM522.2 342.6l4.9 8.7h-9.8zM526.9 340.6l4.9 8.7h-9.8zM533.0 341.4l4.9 8.7h-9.8zM537.1 345.3l4.9 8.7h-9.8zM538.8 347.7a3.9 3.9 0 1 1 7.8 0a3.9 3.9 0 1 1 -7.8 0M548.1 343.5l4.9 8.7h-9.8zM554.0 336.8l4.9 8.7h-9.8zM559.4 325.4l4.9 8.7h-9.8zM566.5 324.5l4.9 8.7h-9.8zM573.3 325.6l4.9 8.7h-9.8zM575.2 329.3a3.9 3.9 0 1 1 7.8 0a3.9 3.9 0 1 1 -7.8 0M583.1 324.5l4.9 8.7h-9.8zM587.8 325.1l4.9 8.7h-9.8zM590.0 328.8a3.9 3.9 0 1 1 7.8 0a3.9 3.9 0 1 1 -7.8 0M599.4 323.1l4.9 8.7h-9.8zM605.2 323.0l4.9 8.7h-9.8zM607.2 326.0a3.9 3.9 0 1 1 7.8 0a3.9 3.9 0 1 1 -7.8 0M613.8 328.0a3.9 3.9 0 1 1 7.8 0a3.9 3.9 0 1 1 -7.8 0M618.5 326.4a3.9 3.9 0 1 1 7.8 0a3.9 3.9 0 1 1 -7.8 0M629.7 319.8l4.9 8.7h-9.8zM635.2 319.5l4.9 8.7h-9.8zM635.1 326.8a3.9 3.9 0 1 1 7.8 0a3.9 3.9 0 1 1 -7.8 0M642.6 323.1a3.9 3.9 0 1 1 7.8 0a3.9 3.9 0 1 1 -7.8 0M649.1 327.0a3.9 3.9 0 1 1 7.8 0a3.9 3.9 0 1 1 -7.8 0M656.9 343.9a3.9 3.9 0 1 1 7.8 0a3.9 3.9 0 1 1 -7.8 0M662.2 345.0a3.9 3.9 0 1 1 7.8 0a3.9 3.9 0 1 1 -7.8 0M673.4 344.1l4.9 8.7h-9.8zM679.2 342.9l4.9 8.7h-9.8zM684.1 344.0l4.9 8.7h-9.8zM690.1 345.2l4.9 8.7h-9.8zM695.1 349.0l4.9 8.7h-9.8zM695.0 355.8a3.9 3.9 0 1 1 7.8 0a3.9 3.9 0 1 1 -7.8 0M706.8 344.1l4.9 8.7h-9.8zM710.5 345.9l4.9 8.7h-9.8zM347.6 206.8l4.9 8.7h-9.8zM319.9 224.6l4.9 8.7h-9.8zM325.4 227.8l4.9 8.7h-9.8zM321.0 243.3l4.9 8.7h-9.8zM327.6 242.2l4.9 8.7h-9.8zM334.3 245.6l4.9 8.7h-9.8zM341.0 251.2l4.9 8.7h-9.8zM345.4 249.0l4.9 8.7h-9.8zM325.4 249.0l4.9 8.7h-9.8zM331.0 247.7l4.9 8.7h-9.8zM338.0 249.7l4.9 8.7h-9.8zM290.4 267.1l4.9 8.7h-9.8zM316.1 266.6l4.9 8.7h-9.8zM319.9 289.9l4.9 8.7h-9.8zM365.4 286.6l4.9 8.7h-9.8zM236.7 322.1l4.9 8.7h-9.8zM245.5 328.8l4.9 8.7h-9.8zM286.6 329.9l4.9 8.7h-9.8zM306.6 328.8l4.9 8.7h-9.8zM315.4 331.0l4.9 8.7h-9.8zM437.7 254.5l4.9 8.7h-9.8zM446.6 254.5l4.9 8.7h-9.8zM451.0 255.5l4.9 8.7h-9.8zM438.8 261.1l4.9 8.7h-9.8zM453.2 266.6l4.9 8.7h-9.8zM448.8 261.1l4.9 8.7h-9.8zM443.0 257.6l4.9 8.7h-9.8zM398.9 298.8l4.9 8.7h-9.8zM408.9 298.8l4.9 8.7h-9.8zM431.0 307.8l4.9 8.7h-9.8zM446.6 295.5l4.9 8.7h-9.8zM453.2 299.9l4.9 8.7h-9.8zM458.8 304.3l4.9 8.7h-9.8zM469.9 311.0l4.9 8.7h-9.8zM452.1 315.4l4.9 8.7h-9.8zM493.2 318.8l4.9 8.7h-9.8zM462.0 307.6l4.9 8.7h-9.8zM449.0 305.6l4.9 8.7h-9.8zM456.0 311.6l4.9 8.7h-9.8zM440.0 313.6l4.9 8.7h-9.8zM465.0 313.6l4.9 8.7h-9.8zM404.4 312.1l4.9 8.7h-9.8zM417.7 311.0l4.9 8.7h-9.8zM202.8 325.6l4.9 8.7h-9.8zM214.4 327.8l4.9 8.7h-9.8zM223.2 332.2l4.9 8.7h-9.8zM237.0 323.3l4.9 8.7h-9.8zM245.4 328.9l4.9 8.7h-9.8zM237.7 335.6l4.9 8.7h-9.8zM178.9 337.8l4.9 8.7h-9.8zM183.3 344.4l4.9 8.7h-9.8zM286.5 331.1l4.9 8.7h-9.8zM305.3 328.9l4.9 8.7h-9.8zM662.7 329.2l4.9 8.7h-9.8zM664.2 329.2l4.9 8.7h-9.8zM657.1 332.2l4.9 8.7h-9.8zM689.0 340.4l4.9 8.7h-9.8zM84.4 347.2l4.9 8.7h-9.8zM102.0 345.6l4.9 8.7h-9.8zM144.0 347.6l4.9 8.7h-9.8zM319.3 286.6a3.9 3.9 0 1 1 7.8 0a3.9 3.9 0 1 1 -7.8 0M330.0 288.8a3.9 3.9 0 1 1 7.8 0a3.9 3.9 0 1 1 -7.8 0M342.6 281.7a3.9 3.9 0 1 1 7.8 0a3.9 3.9 0 1 1 -7.8 0M348.2 292.8a3.9 3.9 0 1 1 7.8 0a3.9 3.9 0 1 1 -7.8 0M358.8 282.6a3.9 3.9 0 1 1 7.8 0a3.9 3.9 0 1 1 -7.8 0M367.0 278.8a3.9 3.9 0 1 1 7.8 0a3.9 3.9 0 1 1 -7.8 0M375.9 274.3a3.9 3.9 0 1 1 7.8 0a3.9 3.9 0 1 1 -7.8 0M379.2 249.9a3.9 3.9 0 1 1 7.8 0a3.9 3.9 0 1 1 -7.8 0M384.8 242.2a3.9 3.9 0 1 1 7.8 0a3.9 3.9 0 1 1 -7.8 0M321.5 304.3a3.9 3.9 0 1 1 7.8 0a3.9 3.9 0 1 1 -7.8 0M334.8 299.9a3.9 3.9 0 1 1 7.8 0a3.9 3.9 0 1 1 -7.8 0M342.6 304.3a3.9 3.9 0 1 1 7.8 0a3.9 3.9 0 1 1 -7.8 0M307.1 311.0a3.9 3.9 0 1 1 7.8 0a3.9 3.9 0 1 1 -7.8 0M318.2 308.7a3.9 3.9 0 1 1 7.8 0a3.9 3.9 0 1 1 -7.8 0M330.4 308.7a3.9 3.9 0 1 1 7.8 0a3.9 3.9 0 1 1 -7.8 0M341.5 314.3a3.9 3.9 0 1 1 7.8 0a3.9 3.9 0 1 1 -7.8 0M292.0 308.1a3.9 3.9 0 1 1 7.8 0a3.9 3.9 0 1 1 -7.8 0M326.1 306.0a3.9 3.9 0 1 1 7.8 0a3.9 3.9 0 1 1 -7.8 0M314.1 306.0a3.9 3.9 0 1 1 7.8 0a3.9 3.9 0 1 1 -7.8 0M336.1 306.0a3.9 3.9 0 1 1 7.8 0a3.9 3.9 0 1 1 -7.8 0M324.1 311.0a3.9 3.9 0 1 1 7.8 0a3.9 3.9 0 1 1 -7.8 0M230.5 319.2a3.9 3.9 0 1 1 7.8 0a3.9 3.9 0 1 1 -7.8 0M273.8 321.0a3.9 3.9 0 1 1 7.8 0a3.9 3.9 0 1 1 -7.8 0M256.1 328.7a3.9 3.9 0 1 1 7.8 0a3.9 3.9 0 1 1 -7.8 0M298.2 324.3a3.9 3.9 0 1 1 7.8 0a3.9 3.9 0 1 1 -7.8 0M306.0 313.2a3.9 3.9 0 1 1 7.8 0a3.9 3.9 0 1 1 -7.8 0M354.8 321.0a3.9 3.9 0 1 1 7.8 0a3.9 3.9 0 1 1 -7.8 0M365.9 326.5a3.9 3.9 0 1 1 7.8 0a3.9 3.9 0 1 1 -7.8 0M346.1 326.0a3.9 3.9 0 1 1 7.8 0a3.9 3.9 0 1 1 -7.8 0M359.1 330.0a3.9 3.9 0 1 1 7.8 0a3.9 3.9 0 1 1 -7.8 0M371.1 332.0a3.9 3.9 0 1 1 7.8 0a3.9 3.9 0 1 1 -7.8 0M336.1 328.0a3.9 3.9 0 1 1 7.8 0a3.9 3.9 0 1 1 -7.8 0M316.1 324.0a3.9 3.9 0 1 1 7.8 0a3.9 3.9 0 1 1 -7.8 0M326.1 330.0a3.9 3.9 0 1 1 7.8 0a3.9 3.9 0 1 1 -7.8 0M308.1 330.0a3.9 3.9 0 1 1 7.8 0a3.9 3.9 0 1 1 -7.8 0M392.7 204.9a3.9 3.9 0 1 1 7.8 0a3.9 3.9 0 1 1 -7.8 0M408.3 214.4a3.9 3.9 0 1 1 7.8 0a3.9 3.9 0 1 1 -7.8 0M397.2 228.9a3.9 3.9 0 1 1 7.8 0a3.9 3.9 0 1 1 -7.8 0M408.9 228.4a3.9 3.9 0 1 1 7.8 0a3.9 3.9 0 1 1 -7.8 0M402.7 236.6a3.9 3.9 0 1 1 7.8 0a3.9 3.9 0 1 1 -7.8 0M396.1 234.4a3.9 3.9 0 1 1 7.8 0a3.9 3.9 0 1 1 -7.8 0M407.1 235.5a3.9 3.9 0 1 1 7.8 0a3.9 3.9 0 1 1 -7.8 0M387.2 242.2a3.9 3.9 0 1 1 7.8 0a3.9 3.9 0 1 1 -7.8 0M379.4 248.8a3.9 3.9 0 1 1 7.8 0a3.9 3.9 0 1 1 -7.8 0M377.2 257.7a3.9 3.9 0 1 1 7.8 0a3.9 3.9 0 1 1 -7.8 0M395.0 260.4a3.9 3.9 0 1 1 7.8 0a3.9 3.9 0 1 1 -7.8 0M409.4 266.6a3.9 3.9 0 1 1 7.8 0a3.9 3.9 0 1 1 -7.8 0M380.5 264.4a3.9 3.9 0 1 1 7.8 0a3.9 3.9 0 1 1 -7.8 0M382.8 275.5a3.9 3.9 0 1 1 7.8 0a3.9 3.9 0 1 1 -7.8 0M402.7 276.6a3.9 3.9 0 1 1 7.8 0a3.9 3.9 0 1 1 -7.8 0M409.4 279.9a3.9 3.9 0 1 1 7.8 0a3.9 3.9 0 1 1 -7.8 0M386.1 270.0a3.9 3.9 0 1 1 7.8 0a3.9 3.9 0 1 1 -7.8 0M398.1 271.0a3.9 3.9 0 1 1 7.8 0a3.9 3.9 0 1 1 -7.8 0M405.1 283.0a3.9 3.9 0 1 1 7.8 0a3.9 3.9 0 1 1 -7.8 0M376.1 285.0a3.9 3.9 0 1 1 7.8 0a3.9 3.9 0 1 1 -7.8 0M381.1 290.0a3.9 3.9 0 1 1 7.8 0a3.9 3.9 0 1 1 -7.8 0M391.1 287.0a3.9 3.9 0 1 1 7.8 0a3.9 3.9 0 1 1 -7.8 0M399.1 290.0a3.9 3.9 0 1 1 7.8 0a3.9 3.9 0 1 1 -7.8 0M419.4 297.6a3.9 3.9 0 1 1 7.8 0a3.9 3.9 0 1 1 -7.8 0M439.3 321.0a3.9 3.9 0 1 1 7.8 0a3.9 3.9 0 1 1 -7.8 0M489.3 328.7a3.9 3.9 0 1 1 7.8 0a3.9 3.9 0 1 1 -7.8 0M503.0 333.2a3.9 3.9 0 1 1 7.8 0a3.9 3.9 0 1 1 -7.8 0M514.8 334.3a3.9 3.9 0 1 1 7.8 0a3.9 3.9 0 1 1 -7.8 0M187.2 322.6a3.9 3.9 0 1 1 7.8 0a3.9 3.9 0 1 1 -7.8 0M181.6 341.7a3.9 3.9 0 1 1 7.8 0a3.9 3.9 0 1 1 -7.8 0M196.0 343.3a3.9 3.9 0 1 1 7.8 0a3.9 3.9 0 1 1 -7.8 0M230.4 319.5a3.9 3.9 0 1 1 7.8 0a3.9 3.9 0 1 1 -7.8 0M256.0 328.9a3.9 3.9 0 1 1 7.8 0a3.9 3.9 0 1 1 -7.8 0M291.5 307.8a3.9 3.9 0 1 1 7.8 0a3.9 3.9 0 1 1 -7.8 0M272.6 321.1a3.9 3.9 0 1 1 7.8 0a3.9 3.9 0 1 1 -7.8 0M274.8 331.1a3.9 3.9 0 1 1 7.8 0a3.9 3.9 0 1 1 -7.8 0M298.1 324.4a3.9 3.9 0 1 1 7.8 0a3.9 3.9 0 1 1 -7.8 0M598.1 313.3a3.9 3.9 0 1 1 7.8 0a3.9 3.9 0 1 1 -7.8 0M632.0 307.1a3.9 3.9 0 1 1 7.8 0a3.9 3.9 0 1 1 -7.8 0M389.3 197.1a3.9 3.9 0 1 1 7.8 0a3.9 3.9 0 1 1 -7.8 0M393.1 204.2a3.9 3.9 0 1 1 7.8 0a3.9 3.9 0 1 1 -7.8 0M386.1 310.0a3.9 3.9 0 1 1 7.8 0a3.9 3.9 0 1 1 -7.8 0M394.1 318.0a3.9 3.9 0 1 1 7.8 0a3.9 3.9 0 1 1 -7.8 0M406.1 325.0a3.9 3.9 0 1 1 7.8 0a3.9 3.9 0 1 1 -7.8 0M416.1 330.0a3.9 3.9 0 1 1 7.8 0a3.9 3.9 0 1 1 -7.8 0M376.1 320.0a3.9 3.9 0 1 1 7.8 0a3.9 3.9 0 1 1 -7.8 0M384.1 330.0a3.9 3.9 0 1 1 7.8 0a3.9 3.9 0 1 1 -7.8 0M396.1 334.0a3.9 3.9 0 1 1 7.8 0a3.9 3.9 0 1 1 -7.8 0M408.1 338.0a3.9 3.9 0 1 1 7.8 0a3.9 3.9 0 1 1 -7.8 0M421.1 336.0a3.9 3.9 0 1 1 7.8 0a3.9 3.9 0 1 1 -7.8 0M431.1 330.0a3.9 3.9 0 1 1 7.8 0a3.9 3.9 0 1 1 -7.8 0M421.1 322.0a3.9 3.9 0 1 1 7.8 0a3.9 3.9 0 1 1 -7.8 0M414.1 345.0a3.9 3.9 0 1 1 7.8 0a3.9 3.9 0 1 1 -7.8 0M368.1 338.0a3.9 3.9 0 1 1 7.8 0a3.9 3.9 0 1 1 -7.8 0M376.1 300.0a3.9 3.9 0 1 1 7.8 0a3.9 3.9 0 1 1 -7.8 0M368.1 310.0a3.9 3.9 0 1 1 7.8 0a3.9 3.9 0 1 1 -7.8 0M82.8 622.7l4.9 8.7h-9.8zM85.9 622.2l4.9 8.7h-9.8zM87.1 623.3l4.9 8.7h-9.8zM93.5 621.5l4.9 8.7h-9.8zM98.2 623.4l4.9 8.7h-9.8zM102.3 622.1l4.9 8.7h-9.8zM104.3 625.3a3.9 3.9 0 1 1 7.8 0a3.9 3.9 0 1 1 -7.8 0M111.1 623.1l4.9 8.7h-9.8zM116.5 623.7l4.9 8.7h-9.8zM120.1 621.7l4.9 8.7h-9.8zM122.2 625.4a3.9 3.9 0 1 1 7.8 0a3.9 3.9 0 1 1 -7.8 0M123.2 625.9a3.9 3.9 0 1 1 7.8 0a3.9 3.9 0 1 1 -7.8 0M126.4 624.8a3.9 3.9 0 1 1 7.8 0a3.9 3.9 0 1 1 -7.8 0M132.1 628.1a3.9 3.9 0 1 1 7.8 0a3.9 3.9 0 1 1 -7.8 0M139.0 625.5a3.9 3.9 0 1 1 7.8 0a3.9 3.9 0 1 1 -7.8 0M143.4 626.4a3.9 3.9 0 1 1 7.8 0a3.9 3.9 0 1 1 -7.8 0M148.7 620.8l4.9 8.7h-9.8zM154.5 626.6a3.9 3.9 0 1 1 7.8 0a3.9 3.9 0 1 1 -7.8 0M156.6 628.0a3.9 3.9 0 1 1 7.8 0a3.9 3.9 0 1 1 -7.8 0M161.9 622.3l4.9 8.7h-9.8zM163.4 624.6a3.9 3.9 0 1 1 7.8 0a3.9 3.9 0 1 1 -7.8 0M164.3 626.1a3.9 3.9 0 1 1 7.8 0a3.9 3.9 0 1 1 -7.8 0M170.2 620.3l4.9 8.7h-9.8zM174.3 622.3l4.9 8.7h-9.8zM173.5 626.0a3.9 3.9 0 1 1 7.8 0a3.9 3.9 0 1 1 -7.8 0M179.2 627.6a3.9 3.9 0 1 1 7.8 0a3.9 3.9 0 1 1 -7.8 0M182.0 625.2a3.9 3.9 0 1 1 7.8 0a3.9 3.9 0 1 1 -7.8 0M186.4 621.7l4.9 8.7h-9.8zM191.7 623.9l4.9 8.7h-9.8zM193.0 625.7a3.9 3.9 0 1 1 7.8 0a3.9 3.9 0 1 1 -7.8 0M199.7 624.1l4.9 8.7h-9.8zM196.7 624.8a3.9 3.9 0 1 1 7.8 0a3.9 3.9 0 1 1 -7.8 0M203.6 622.7l4.9 8.7h-9.8zM207.7 620.3l4.9 8.7h-9.8zM213.6 622.0l4.9 8.7h-9.8zM218.0 620.5l4.9 8.7h-9.8zM217.0 627.0a3.9 3.9 0 1 1 7.8 0a3.9 3.9 0 1 1 -7.8 0M220.5 625.5a3.9 3.9 0 1 1 7.8 0a3.9 3.9 0 1 1 -7.8 0M229.2 624.1l4.9 8.7h-9.8zM228.7 622.4l4.9 8.7h-9.8zM230.3 624.9a3.9 3.9 0 1 1 7.8 0a3.9 3.9 0 1 1 -7.8 0M237.8 622.9l4.9 8.7h-9.8zM237.9 625.1a3.9 3.9 0 1 1 7.8 0a3.9 3.9 0 1 1 -7.8 0M243.3 623.9l4.9 8.7h-9.8zM245.9 621.7l4.9 8.7h-9.8zM249.0 628.2a3.9 3.9 0 1 1 7.8 0a3.9 3.9 0 1 1 -7.8 0M255.3 623.0l4.9 8.7h-9.8zM253.5 626.3a3.9 3.9 0 1 1 7.8 0a3.9 3.9 0 1 1 -7.8 0M262.4 622.3l4.9 8.7h-9.8zM259.1 627.7a3.9 3.9 0 1 1 7.8 0a3.9 3.9 0 1 1 -7.8 0M264.7 624.8a3.9 3.9 0 1 1 7.8 0a3.9 3.9 0 1 1 -7.8 0M266.2 627.8a3.9 3.9 0 1 1 7.8 0a3.9 3.9 0 1 1 -7.8 0M274.6 621.2l4.9 8.7h-9.8zM277.0 620.4l4.9 8.7h-9.8zM279.8 620.3l4.9 8.7h-9.8zM283.6 623.9l4.9 8.7h-9.8zM285.3 624.8a3.9 3.9 0 1 1 7.8 0a3.9 3.9 0 1 1 -7.8 0M291.8 622.7l4.9 8.7h-9.8zM292.6 627.7a3.9 3.9 0 1 1 7.8 0a3.9 3.9 0 1 1 -7.8 0M295.7 626.6a3.9 3.9 0 1 1 7.8 0a3.9 3.9 0 1 1 -7.8 0M300.3 627.0a3.9 3.9 0 1 1 7.8 0a3.9 3.9 0 1 1 -7.8 0M306.5 626.6a3.9 3.9 0 1 1 7.8 0a3.9 3.9 0 1 1 -7.8 0M310.0 627.5a3.9 3.9 0 1 1 7.8 0a3.9 3.9 0 1 1 -7.8 0M310.0 626.7a3.9 3.9 0 1 1 7.8 0a3.9 3.9 0 1 1 -7.8 0M317.8 622.5l4.9 8.7h-9.8zM319.0 626.6a3.9 3.9 0 1 1 7.8 0a3.9 3.9 0 1 1 -7.8 0M319.5 627.1a3.9 3.9 0 1 1 7.8 0a3.9 3.9 0 1 1 -7.8 0M327.0 621.7l4.9 8.7h-9.8zM324.8 627.8a3.9 3.9 0 1 1 7.8 0a3.9 3.9 0 1 1 -7.8 0M336.7 621.7l4.9 8.7h-9.8zM338.5 624.1l4.9 8.7h-9.8zM341.8 620.4l4.9 8.7h-9.8zM340.9 627.0a3.9 3.9 0 1 1 7.8 0a3.9 3.9 0 1 1 -7.8 0M344.8 625.5a3.9 3.9 0 1 1 7.8 0a3.9 3.9 0 1 1 -7.8 0M354.8 623.7l4.9 8.7h-9.8zM354.4 625.6a3.9 3.9 0 1 1 7.8 0a3.9 3.9 0 1 1 -7.8 0M359.8 623.0l4.9 8.7h-9.8zM362.3 620.9l4.9 8.7h-9.8zM361.0 628.0a3.9 3.9 0 1 1 7.8 0a3.9 3.9 0 1 1 -7.8 0M366.1 626.5a3.9 3.9 0 1 1 7.8 0a3.9 3.9 0 1 1 -7.8 0M369.4 625.9a3.9 3.9 0 1 1 7.8 0a3.9 3.9 0 1 1 -7.8 0M375.9 623.3l4.9 8.7h-9.8zM380.8 622.5l4.9 8.7h-9.8zM382.5 621.5l4.9 8.7h-9.8zM386.6 623.5l4.9 8.7h-9.8zM389.1 623.2l4.9 8.7h-9.8zM391.8 622.5l4.9 8.7h-9.8zM396.5 622.8l4.9 8.7h-9.8zM399.4 628.1a3.9 3.9 0 1 1 7.8 0a3.9 3.9 0 1 1 -7.8 0M411.2 622.3l4.9 8.7h-9.8zM413.4 623.4l4.9 8.7h-9.8zM417.9 623.2l4.9 8.7h-9.8zM419.0 621.1l4.9 8.7h-9.8zM419.2 626.4a3.9 3.9 0 1 1 7.8 0a3.9 3.9 0 1 1 -7.8 0M424.5 621.5l4.9 8.7h-9.8zM422.6 625.4a3.9 3.9 0 1 1 7.8 0a3.9 3.9 0 1 1 -7.8 0M429.0 626.3a3.9 3.9 0 1 1 7.8 0a3.9 3.9 0 1 1 -7.8 0M431.9 627.8a3.9 3.9 0 1 1 7.8 0a3.9 3.9 0 1 1 -7.8 0M436.1 625.1a3.9 3.9 0 1 1 7.8 0a3.9 3.9 0 1 1 -7.8 0M446.5 625.6a3.9 3.9 0 1 1 7.8 0a3.9 3.9 0 1 1 -7.8 0M452.9 628.1a3.9 3.9 0 1 1 7.8 0a3.9 3.9 0 1 1 -7.8 0M454.7 628.4a3.9 3.9 0 1 1 7.8 0a3.9 3.9 0 1 1 -7.8 0M460.5 621.7l4.9 8.7h-9.8zM462.1 624.7a3.9 3.9 0 1 1 7.8 0a3.9 3.9 0 1 1 -7.8 0M468.0 623.0l4.9 8.7h-9.8zM467.4 627.3a3.9 3.9 0 1 1 7.8 0a3.9 3.9 0 1 1 -7.8 0M470.2 627.3a3.9 3.9 0 1 1 7.8 0a3.9 3.9 0 1 1 -7.8 0M480.6 623.3l4.9 8.7h-9.8zM479.2 624.6a3.9 3.9 0 1 1 7.8 0a3.9 3.9 0 1 1 -7.8 0M485.5 627.9a3.9 3.9 0 1 1 7.8 0a3.9 3.9 0 1 1 -7.8 0M493.6 621.4l4.9 8.7h-9.8zM492.5 627.5a3.9 3.9 0 1 1 7.8 0a3.9 3.9 0 1 1 -7.8 0M493.7 628.0a3.9 3.9 0 1 1 7.8 0a3.9 3.9 0 1 1 -7.8 0M500.5 627.0a3.9 3.9 0 1 1 7.8 0a3.9 3.9 0 1 1 -7.8 0M506.8 626.4a3.9 3.9 0 1 1 7.8 0a3.9 3.9 0 1 1 -7.8 0M514.6 623.0l4.9 8.7h-9.8zM512.7 624.8a3.9 3.9 0 1 1 7.8 0a3.9 3.9 0 1 1 -7.8 0M518.7 622.6l4.9 8.7h-9.8zM522.1 623.2l4.9 8.7h-9.8zM526.7 621.4l4.9 8.7h-9.8zM530.7 620.4l4.9 8.7h-9.8zM528.6 627.8a3.9 3.9 0 1 1 7.8 0a3.9 3.9 0 1 1 -7.8 0M532.5 627.0a3.9 3.9 0 1 1 7.8 0a3.9 3.9 0 1 1 -7.8 0M539.0 625.6a3.9 3.9 0 1 1 7.8 0a3.9 3.9 0 1 1 -7.8 0M549.3 621.8l4.9 8.7h-9.8zM551.8 622.7l4.9 8.7h-9.8zM555.4 622.9l4.9 8.7h-9.8zM558.3 621.9l4.9 8.7h-9.8zM563.9 621.9l4.9 8.7h-9.8zM563.1 628.5a3.9 3.9 0 1 1 7.8 0a3.9 3.9 0 1 1 -7.8 0M570.6 623.7l4.9 8.7h-9.8zM569.1 624.7a3.9 3.9 0 1 1 7.8 0a3.9 3.9 0 1 1 -7.8 0M575.5 623.3l4.9 8.7h-9.8zM580.0 622.8l4.9 8.7h-9.8zM584.6 622.6l4.9 8.7h-9.8zM584.9 620.8l4.9 8.7h-9.8zM590.1 624.0l4.9 8.7h-9.8zM592.0 620.6l4.9 8.7h-9.8zM596.7 623.3l4.9 8.7h-9.8zM601.4 624.1l4.9 8.7h-9.8zM602.6 620.6l4.9 8.7h-9.8zM609.0 623.4l4.9 8.7h-9.8zM610.8 621.2l4.9 8.7h-9.8zM611.1 628.2a3.9 3.9 0 1 1 7.8 0a3.9 3.9 0 1 1 -7.8 0M621.0 623.2l4.9 8.7h-9.8zM618.9 627.2a3.9 3.9 0 1 1 7.8 0a3.9 3.9 0 1 1 -7.8 0M629.2 621.5l4.9 8.7h-9.8zM631.2 623.9l4.9 8.7h-9.8zM636.1 628.4a3.9 3.9 0 1 1 7.8 0a3.9 3.9 0 1 1 -7.8 0M642.7 621.0l4.9 8.7h-9.8zM642.8 627.4a3.9 3.9 0 1 1 7.8 0a3.9 3.9 0 1 1 -7.8 0M645.8 625.6a3.9 3.9 0 1 1 7.8 0a3.9 3.9 0 1 1 -7.8 0M651.9 622.1l4.9 8.7h-9.8zM656.8 620.3l4.9 8.7h-9.8zM656.8 625.8a3.9 3.9 0 1 1 7.8 0a3.9 3.9 0 1 1 -7.8 0M663.3 622.7l4.9 8.7h-9.8zM665.7 622.5l4.9 8.7h-9.8zM665.9 626.6a3.9 3.9 0 1 1 7.8 0a3.9 3.9 0 1 1 -7.8 0M674.5 623.3l4.9 8.7h-9.8zM673.1 627.0a3.9 3.9 0 1 1 7.8 0a3.9 3.9 0 1 1 -7.8 0M675.3 626.4a3.9 3.9 0 1 1 7.8 0a3.9 3.9 0 1 1 -7.8 0M685.0 622.1l4.9 8.7h-9.8zM681.7 627.1a3.9 3.9 0 1 1 7.8 0a3.9 3.9 0 1 1 -7.8 0M686.5 628.3a3.9 3.9 0 1 1 7.8 0a3.9 3.9 0 1 1 -7.8 0M691.1 626.2a3.9 3.9 0 1 1 7.8 0a3.9 3.9 0 1 1 -7.8 0M696.3 625.2a3.9 3.9 0 1 1 7.8 0a3.9 3.9 0 1 1 -7.8 0M697.4 626.6a3.9 3.9 0 1 1 7.8 0a3.9 3.9 0 1 1 -7.8 0M704.7 620.8l4.9 8.7h-9.8zM707.5 622.8l4.9 8.7h-9.8zM83.7 593.7l4.9 8.7h-9.8zM78.1 602.8a3.9 3.9 0 1 1 7.8 0a3.9 3.9 0 1 1 -7.8 0M83.0 606.0l4.9 8.7h-9.8zM83.9 608.6l4.9 8.7h-9.8zM81.0 620.7a3.9 3.9 0 1 1 7.8 0a3.9 3.9 0 1 1 -7.8 0M87.0 612.3a3.9 3.9 0 1 1 7.8 0a3.9 3.9 0 1 1 -7.8 0M84.4 614.0a3.9 3.9 0 1 1 7.8 0a3.9 3.9 0 1 1 -7.8 0M89.5 620.7a3.9 3.9 0 1 1 7.8 0a3.9 3.9 0 1 1 -7.8 0M94.9 612.6l4.9 8.7h-9.8zM94.2 619.2a3.9 3.9 0 1 1 7.8 0a3.9 3.9 0 1 1 -7.8 0M97.1 616.2a3.9 3.9 0 1 1 7.8 0a3.9 3.9 0 1 1 -7.8 0M98.7 617.6l4.9 8.7h-9.8zM101.3 617.9a3.9 3.9 0 1 1 7.8 0a3.9 3.9 0 1 1 -7.8 0M105.3 611.5a3.9 3.9 0 1 1 7.8 0a3.9 3.9 0 1 1 -7.8 0M107.2 611.4l4.9 8.7h-9.8zM108.9 616.9l4.9 8.7h-9.8zM106.9 620.5a3.9 3.9 0 1 1 7.8 0a3.9 3.9 0 1 1 -7.8 0M115.5 608.1l4.9 8.7h-9.8zM118.5 610.2a3.9 3.9 0 1 1 7.8 0a3.9 3.9 0 1 1 -7.8 0M121.9 615.0l4.9 8.7h-9.8zM128.6 596.8l4.9 8.7h-9.8zM123.2 603.2a3.9 3.9 0 1 1 7.8 0a3.9 3.9 0 1 1 -7.8 0M125.9 604.1l4.9 8.7h-9.8zM126.2 610.5l4.9 8.7h-9.8zM124.9 613.6l4.9 8.7h-9.8zM126.4 620.2l4.9 8.7h-9.8zM126.6 600.8a3.9 3.9 0 1 1 7.8 0a3.9 3.9 0 1 1 -7.8 0M126.2 615.9a3.9 3.9 0 1 1 7.8 0a3.9 3.9 0 1 1 -7.8 0M124.8 618.3a3.9 3.9 0 1 1 7.8 0a3.9 3.9 0 1 1 -7.8 0M135.8 594.7l4.9 8.7h-9.8zM131.1 604.4a3.9 3.9 0 1 1 7.8 0a3.9 3.9 0 1 1 -7.8 0M128.4 611.0a3.9 3.9 0 1 1 7.8 0a3.9 3.9 0 1 1 -7.8 0M130.2 616.2a3.9 3.9 0 1 1 7.8 0a3.9 3.9 0 1 1 -7.8 0M131.1 622.9a3.9 3.9 0 1 1 7.8 0a3.9 3.9 0 1 1 -7.8 0M133.2 597.8a3.9 3.9 0 1 1 7.8 0a3.9 3.9 0 1 1 -7.8 0M136.9 603.8a3.9 3.9 0 1 1 7.8 0a3.9 3.9 0 1 1 -7.8 0M139.0 610.8l4.9 8.7h-9.8zM138.1 614.2l4.9 8.7h-9.8zM142.9 594.2l4.9 8.7h-9.8zM138.5 610.8a3.9 3.9 0 1 1 7.8 0a3.9 3.9 0 1 1 -7.8 0M142.3 614.4l4.9 8.7h-9.8zM146.8 602.1l4.9 8.7h-9.8zM146.5 606.5l4.9 8.7h-9.8zM145.0 613.1l4.9 8.7h-9.8zM143.1 619.9a3.9 3.9 0 1 1 7.8 0a3.9 3.9 0 1 1 -7.8 0M148.5 596.2a3.9 3.9 0 1 1 7.8 0a3.9 3.9 0 1 1 -7.8 0M150.7 598.5l4.9 8.7h-9.8zM145.5 605.0a3.9 3.9 0 1 1 7.8 0a3.9 3.9 0 1 1 -7.8 0M150.3 616.6l4.9 8.7h-9.8zM152.9 599.8a3.9 3.9 0 1 1 7.8 0a3.9 3.9 0 1 1 -7.8 0M148.9 607.0a3.9 3.9 0 1 1 7.8 0a3.9 3.9 0 1 1 -7.8 0M155.1 610.1l4.9 8.7h-9.8zM155.4 616.4l4.9 8.7h-9.8zM152.6 607.5a3.9 3.9 0 1 1 7.8 0a3.9 3.9 0 1 1 -7.8 0M155.8 613.3a3.9 3.9 0 1 1 7.8 0a3.9 3.9 0 1 1 -7.8 0M153.2 617.3a3.9 3.9 0 1 1 7.8 0a3.9 3.9 0 1 1 -7.8 0M159.5 591.7l4.9 8.7h-9.8zM157.2 615.0a3.9 3.9 0 1 1 7.8 0a3.9 3.9 0 1 1 -7.8 0M158.9 616.3a3.9 3.9 0 1 1 7.8 0a3.9 3.9 0 1 1 -7.8 0M165.5 598.5l4.9 8.7h-9.8zM164.0 612.8l4.9 8.7h-9.8zM165.5 617.5l4.9 8.7h-9.8zM166.6 619.1l4.9 8.7h-9.8zM164.9 595.9a3.9 3.9 0 1 1 7.8 0a3.9 3.9 0 1 1 -7.8 0M171.3 596.7l4.9 8.7h-9.8zM168.9 597.7l4.9 8.7h-9.8zM170.6 606.3l4.9 8.7h-9.8zM167.0 620.6a3.9 3.9 0 1 1 7.8 0a3.9 3.9 0 1 1 -7.8 0M170.0 595.3a3.9 3.9 0 1 1 7.8 0a3.9 3.9 0 1 1 -7.8 0M171.6 601.2a3.9 3.9 0 1 1 7.8 0a3.9 3.9 0 1 1 -7.8 0M174.9 601.0l4.9 8.7h-9.8zM171.8 610.2a3.9 3.9 0 1 1 7.8 0a3.9 3.9 0 1 1 -7.8 0M177.2 600.5l4.9 8.7h-9.8zM177.1 607.2a3.9 3.9 0 1 1 7.8 0a3.9 3.9 0 1 1 -7.8 0M181.0 615.1l4.9 8.7h-9.8zM178.8 599.5a3.9 3.9 0 1 1 7.8 0a3.9 3.9 0 1 1 -7.8 0M182.8 605.6l4.9 8.7h-9.8zM182.4 611.9l4.9 8.7h-9.8zM179.5 617.9a3.9 3.9 0 1 1 7.8 0a3.9 3.9 0 1 1 -7.8 0M187.2 597.2l4.9 8.7h-9.8zM187.0 603.9l4.9 8.7h-9.8zM189.6 610.2l4.9 8.7h-9.8zM186.0 600.9a3.9 3.9 0 1 1 7.8 0a3.9 3.9 0 1 1 -7.8 0M189.7 600.3l4.9 8.7h-9.8zM191.3 612.5l4.9 8.7h-9.8zM192.9 609.1a3.9 3.9 0 1 1 7.8 0a3.9 3.9 0 1 1 -7.8 0M189.5 614.2a3.9 3.9 0 1 1 7.8 0a3.9 3.9 0 1 1 -7.8 0M189.9 620.0a3.9 3.9 0 1 1 7.8 0a3.9 3.9 0 1 1 -7.8 0M196.9 601.7a3.9 3.9 0 1 1 7.8 0a3.9 3.9 0 1 1 -7.8 0M195.3 606.4a3.9 3.9 0 1 1 7.8 0a3.9 3.9 0 1 1 -7.8 0M201.0 612.3l4.9 8.7h-9.8zM199.8 608.3a3.9 3.9 0 1 1 7.8 0a3.9 3.9 0 1 1 -7.8 0M196.8 613.1a3.9 3.9 0 1 1 7.8 0a3.9 3.9 0 1 1 -7.8 0M200.2 603.6a3.9 3.9 0 1 1 7.8 0a3.9 3.9 0 1 1 -7.8 0M204.0 606.3l4.9 8.7h-9.8zM206.2 610.1l4.9 8.7h-9.8zM203.7 619.4a3.9 3.9 0 1 1 7.8 0a3.9 3.9 0 1 1 -7.8 0M209.4 595.3l4.9 8.7h-9.8zM206.0 604.0a3.9 3.9 0 1 1 7.8 0a3.9 3.9 0 1 1 -7.8 0M211.5 617.4l4.9 8.7h-9.8zM214.9 596.8l4.9 8.7h-9.8zM209.9 612.7a3.9 3.9 0 1 1 7.8 0a3.9 3.9 0 1 1 -7.8 0M211.9 618.6a3.9 3.9 0 1 1 7.8 0a3.9 3.9 0 1 1 -7.8 0M212.4 618.9l4.9 8.7h-9.8zM217.6 604.5l4.9 8.7h-9.8zM219.8 607.8l4.9 8.7h-9.8zM215.3 615.5a3.9 3.9 0 1 1 7.8 0a3.9 3.9 0 1 1 -7.8 0M216.5 622.4a3.9 3.9 0 1 1 7.8 0a3.9 3.9 0 1 1 -7.8 0M221.5 595.4l4.9 8.7h-9.8zM222.2 596.4l4.9 8.7h-9.8zM221.7 609.1l4.9 8.7h-9.8zM217.5 615.4a3.9 3.9 0 1 1 7.8 0a3.9 3.9 0 1 1 -7.8 0M224.5 599.7a3.9 3.9 0 1 1 7.8 0a3.9 3.9 0 1 1 -7.8 0M224.1 609.5a3.9 3.9 0 1 1 7.8 0a3.9 3.9 0 1 1 -7.8 0M228.6 609.2l4.9 8.7h-9.8zM229.3 611.6l4.9 8.7h-9.8zM223.9 619.3a3.9 3.9 0 1 1 7.8 0a3.9 3.9 0 1 1 -7.8 0M226.8 601.5a3.9 3.9 0 1 1 7.8 0a3.9 3.9 0 1 1 -7.8 0M233.6 606.5l4.9 8.7h-9.8zM229.1 614.1a3.9 3.9 0 1 1 7.8 0a3.9 3.9 0 1 1 -7.8 0M235.3 600.7l4.9 8.7h-9.8zM232.0 615.1a3.9 3.9 0 1 1 7.8 0a3.9 3.9 0 1 1 -7.8 0M235.1 602.7a3.9 3.9 0 1 1 7.8 0a3.9 3.9 0 1 1 -7.8 0M241.4 601.7l4.9 8.7h-9.8zM238.0 601.0a3.9 3.9 0 1 1 7.8 0a3.9 3.9 0 1 1 -7.8 0M239.4 607.6a3.9 3.9 0 1 1 7.8 0a3.9 3.9 0 1 1 -7.8 0M241.3 606.0l4.9 8.7h-9.8zM240.1 619.5a3.9 3.9 0 1 1 7.8 0a3.9 3.9 0 1 1 -7.8 0M248.5 597.7l4.9 8.7h-9.8zM246.8 614.3l4.9 8.7h-9.8zM248.6 605.1l4.9 8.7h-9.8zM248.5 613.8a3.9 3.9 0 1 1 7.8 0a3.9 3.9 0 1 1 -7.8 0M248.0 619.8a3.9 3.9 0 1 1 7.8 0a3.9 3.9 0 1 1 -7.8 0M250.7 619.7l4.9 8.7h-9.8zM254.4 600.2l4.9 8.7h-9.8zM255.8 613.4l4.9 8.7h-9.8zM248.1 618.3a3.9 3.9 0 1 1 7.8 0a3.9 3.9 0 1 1 -7.8 0M248.9 624.6a3.9 3.9 0 1 1 7.8 0a3.9 3.9 0 1 1 -7.8 0M259.5 601.5l4.9 8.7h-9.8zM255.3 609.7a3.9 3.9 0 1 1 7.8 0a3.9 3.9 0 1 1 -7.8 0M257.0 615.4l4.9 8.7h-9.8zM257.5 620.7l4.9 8.7h-9.8zM260.0 616.7l4.9 8.7h-9.8zM265.1 595.0l4.9 8.7h-9.8zM264.1 611.2a3.9 3.9 0 1 1 7.8 0a3.9 3.9 0 1 1 -7.8 0M261.0 615.4a3.9 3.9 0 1 1 7.8 0a3.9 3.9 0 1 1 -7.8 0M263.7 618.0a3.9 3.9 0 1 1 7.8 0a3.9 3.9 0 1 1 -7.8 0M268.1 599.9a3.9 3.9 0 1 1 7.8 0a3.9 3.9 0 1 1 -7.8 0M272.7 602.5l4.9 8.7h-9.8zM271.5 608.4l4.9 8.7h-9.8zM268.7 618.9a3.9 3.9 0 1 1 7.8 0a3.9 3.9 0 1 1 -7.8 0M268.7 624.2a3.9 3.9 0 1 1 7.8 0a3.9 3.9 0 1 1 -7.8 0M278.3 594.2l4.9 8.7h-9.8zM275.6 604.2l4.9 8.7h-9.8zM272.6 617.7a3.9 3.9 0 1 1 7.8 0a3.9 3.9 0 1 1 -7.8 0M274.3 623.2a3.9 3.9 0 1 1 7.8 0a3.9 3.9 0 1 1 -7.8 0M276.3 599.6a3.9 3.9 0 1 1 7.8 0a3.9 3.9 0 1 1 -7.8 0M279.1 604.9a3.9 3.9 0 1 1 7.8 0a3.9 3.9 0 1 1 -7.8 0M275.4 609.8a3.9 3.9 0 1 1 7.8 0a3.9 3.9 0 1 1 -7.8 0M279.3 612.6a3.9 3.9 0 1 1 7.8 0a3.9 3.9 0 1 1 -7.8 0M279.8 603.6a3.9 3.9 0 1 1 7.8 0a3.9 3.9 0 1 1 -7.8 0M285.1 601.0l4.9 8.7h-9.8zM283.5 606.6l4.9 8.7h-9.8zM285.1 612.9l4.9 8.7h-9.8zM293.2 591.5l4.9 8.7h-9.8zM290.9 596.6l4.9 8.7h-9.8zM289.1 610.8a3.9 3.9 0 1 1 7.8 0a3.9 3.9 0 1 1 -7.8 0M292.2 616.1l4.9 8.7h-9.8zM296.5 590.5l4.9 8.7h-9.8zM296.7 601.5l4.9 8.7h-9.8zM292.1 612.7a3.9 3.9 0 1 1 7.8 0a3.9 3.9 0 1 1 -7.8 0M297.9 613.5l4.9 8.7h-9.8zM293.9 619.7a3.9 3.9 0 1 1 7.8 0a3.9 3.9 0 1 1 -7.8 0M297.1 594.4a3.9 3.9 0 1 1 7.8 0a3.9 3.9 0 1 1 -7.8 0M299.1 596.9l4.9 8.7h-9.8zM295.7 611.2a3.9 3.9 0 1 1 7.8 0a3.9 3.9 0 1 1 -7.8 0M299.0 598.9a3.9 3.9 0 1 1 7.8 0a3.9 3.9 0 1 1 -7.8 0M303.2 599.7l4.9 8.7h-9.8zM301.3 609.3a3.9 3.9 0 1 1 7.8 0a3.9 3.9 0 1 1 -7.8 0M305.7 609.3l4.9 8.7h-9.8zM298.9 619.4a3.9 3.9 0 1 1 7.8 0a3.9 3.9 0 1 1 -7.8 0M298.9 623.9a3.9 3.9 0 1 1 7.8 0a3.9 3.9 0 1 1 -7.8 0M307.1 593.4l4.9 8.7h-9.8zM305.7 604.2a3.9 3.9 0 1 1 7.8 0a3.9 3.9 0 1 1 -7.8 0M305.1 607.4a3.9 3.9 0 1 1 7.8 0a3.9 3.9 0 1 1 -7.8 0M304.2 609.6a3.9 3.9 0 1 1 7.8 0a3.9 3.9 0 1 1 -7.8 0M305.9 617.5a3.9 3.9 0 1 1 7.8 0a3.9 3.9 0 1 1 -7.8 0M308.2 616.7l4.9 8.7h-9.8zM314.3 587.7l4.9 8.7h-9.8zM309.6 605.0a3.9 3.9 0 1 1 7.8 0a3.9 3.9 0 1 1 -7.8 0M306.7 615.6a3.9 3.9 0 1 1 7.8 0a3.9 3.9 0 1 1 -7.8 0M310.9 620.8a3.9 3.9 0 1 1 7.8 0a3.9 3.9 0 1 1 -7.8 0M311.9 599.1a3.9 3.9 0 1 1 7.8 0a3.9 3.9 0 1 1 -7.8 0M312.0 602.8a3.9 3.9 0 1 1 7.8 0a3.9 3.9 0 1 1 -7.8 0M314.3 615.9a3.9 3.9 0 1 1 7.8 0a3.9 3.9 0 1 1 -7.8 0M318.9 594.8a3.9 3.9 0 1 1 7.8 0a3.9 3.9 0 1 1 -7.8 0M319.7 592.6l4.9 8.7h-9.8zM315.6 601.9a3.9 3.9 0 1 1 7.8 0a3.9 3.9 0 1 1 -7.8 0M317.7 611.2a3.9 3.9 0 1 1 7.8 0a3.9 3.9 0 1 1 -7.8 0M317.3 614.0a3.9 3.9 0 1 1 7.8 0a3.9 3.9 0 1 1 -7.8 0M319.2 613.0l4.9 8.7h-9.8zM319.6 592.9a3.9 3.9 0 1 1 7.8 0a3.9 3.9 0 1 1 -7.8 0M324.9 596.7l4.9 8.7h-9.8zM323.4 598.0l4.9 8.7h-9.8zM320.6 612.2a3.9 3.9 0 1 1 7.8 0a3.9 3.9 0 1 1 -7.8 0M319.8 618.4a3.9 3.9 0 1 1 7.8 0a3.9 3.9 0 1 1 -7.8 0M323.5 617.7l4.9 8.7h-9.8zM322.0 592.3a3.9 3.9 0 1 1 7.8 0a3.9 3.9 0 1 1 -7.8 0M325.8 602.3a3.9 3.9 0 1 1 7.8 0a3.9 3.9 0 1 1 -7.8 0M322.7 605.8a3.9 3.9 0 1 1 7.8 0a3.9 3.9 0 1 1 -7.8 0M328.3 618.7l4.9 8.7h-9.8zM329.5 596.0a3.9 3.9 0 1 1 7.8 0a3.9 3.9 0 1 1 -7.8 0M328.2 600.9a3.9 3.9 0 1 1 7.8 0a3.9 3.9 0 1 1 -7.8 0M329.0 604.8a3.9 3.9 0 1 1 7.8 0a3.9 3.9 0 1 1 -7.8 0M333.0 606.1l4.9 8.7h-9.8zM333.2 610.2l4.9 8.7h-9.8zM331.1 615.2l4.9 8.7h-9.8zM337.7 594.3l4.9 8.7h-9.8zM336.0 609.0l4.9 8.7h-9.8zM332.5 616.3a3.9 3.9 0 1 1 7.8 0a3.9 3.9 0 1 1 -7.8 0M333.6 623.4a3.9 3.9 0 1 1 7.8 0a3.9 3.9 0 1 1 -7.8 0M342.8 592.6l4.9 8.7h-9.8zM341.0 599.3l4.9 8.7h-9.8zM337.3 608.9a3.9 3.9 0 1 1 7.8 0a3.9 3.9 0 1 1 -7.8 0M340.5 612.2l4.9 8.7h-9.8zM336.5 620.3a3.9 3.9 0 1 1 7.8 0a3.9 3.9 0 1 1 -7.8 0M342.6 593.1a3.9 3.9 0 1 1 7.8 0a3.9 3.9 0 1 1 -7.8 0M345.9 609.5l4.9 8.7h-9.8zM346.6 601.1a3.9 3.9 0 1 1 7.8 0a3.9 3.9 0 1 1 -7.8 0M350.5 597.0l4.9 8.7h-9.8zM350.3 611.2l4.9 8.7h-9.8zM352.1 591.4l4.9 8.7h-9.8zM351.5 593.4l4.9 8.7h-9.8zM348.8 607.5a3.9 3.9 0 1 1 7.8 0a3.9 3.9 0 1 1 -7.8 0M350.5 618.0a3.9 3.9 0 1 1 7.8 0a3.9 3.9 0 1 1 -7.8 0M354.7 619.4l4.9 8.7h-9.8zM357.3 590.4l4.9 8.7h-9.8zM357.7 594.9l4.9 8.7h-9.8zM357.7 598.4l4.9 8.7h-9.8zM352.9 613.5a3.9 3.9 0 1 1 7.8 0a3.9 3.9 0 1 1 -7.8 0M353.6 622.4a3.9 3.9 0 1 1 7.8 0a3.9 3.9 0 1 1 -7.8 0M358.6 596.1a3.9 3.9 0 1 1 7.8 0a3.9 3.9 0 1 1 -7.8 0M365.1 604.5l4.9 8.7h-9.8zM364.0 609.9l4.9 8.7h-9.8zM362.6 614.1l4.9 8.7h-9.8zM365.9 591.7l4.9 8.7h-9.8zM369.1 597.7l4.9 8.7h-9.8zM366.7 602.8l4.9 8.7h-9.8zM367.1 616.8l4.9 8.7h-9.8zM370.2 591.9l4.9 8.7h-9.8zM370.8 599.0l4.9 8.7h-9.8zM372.5 610.1l4.9 8.7h-9.8zM369.2 621.6a3.9 3.9 0 1 1 7.8 0a3.9 3.9 0 1 1 -7.8 0M376.9 593.3l4.9 8.7h-9.8zM373.5 617.6a3.9 3.9 0 1 1 7.8 0a3.9 3.9 0 1 1 -7.8 0M379.8 592.9l4.9 8.7h-9.8zM377.0 598.6l4.9 8.7h-9.8zM374.2 608.0a3.9 3.9 0 1 1 7.8 0a3.9 3.9 0 1 1 -7.8 0M380.4 612.7l4.9 8.7h-9.8zM378.3 618.5l4.9 8.7h-9.8zM383.1 595.2l4.9 8.7h-9.8zM382.5 602.1l4.9 8.7h-9.8zM380.0 613.2a3.9 3.9 0 1 1 7.8 0a3.9 3.9 0 1 1 -7.8 0M377.4 621.5a3.9 3.9 0 1 1 7.8 0a3.9 3.9 0 1 1 -7.8 0M384.0 602.0a3.9 3.9 0 1 1 7.8 0a3.9 3.9 0 1 1 -7.8 0M387.8 601.3l4.9 8.7h-9.8zM389.3 616.1l4.9 8.7h-9.8zM385.4 622.2a3.9 3.9 0 1 1 7.8 0a3.9 3.9 0 1 1 -7.8 0M389.8 605.5l4.9 8.7h-9.8zM387.1 616.8a3.9 3.9 0 1 1 7.8 0a3.9 3.9 0 1 1 -7.8 0M390.1 614.5l4.9 8.7h-9.8zM391.3 600.2a3.9 3.9 0 1 1 7.8 0a3.9 3.9 0 1 1 -7.8 0M391.9 615.6a3.9 3.9 0 1 1 7.8 0a3.9 3.9 0 1 1 -7.8 0M396.0 614.6l4.9 8.7h-9.8zM400.9 597.8l4.9 8.7h-9.8zM399.3 601.3l4.9 8.7h-9.8zM397.0 612.2a3.9 3.9 0 1 1 7.8 0a3.9 3.9 0 1 1 -7.8 0M397.9 621.0a3.9 3.9 0 1 1 7.8 0a3.9 3.9 0 1 1 -7.8 0M405.1 605.0l4.9 8.7h-9.8zM401.8 620.7a3.9 3.9 0 1 1 7.8 0a3.9 3.9 0 1 1 -7.8 0M404.4 601.7a3.9 3.9 0 1 1 7.8 0a3.9 3.9 0 1 1 -7.8 0M410.0 602.9l4.9 8.7h-9.8zM407.8 606.3l4.9 8.7h-9.8zM410.7 613.4l4.9 8.7h-9.8zM410.8 614.1l4.9 8.7h-9.8zM412.2 606.5l4.9 8.7h-9.8zM414.5 611.6l4.9 8.7h-9.8zM413.4 602.8a3.9 3.9 0 1 1 7.8 0a3.9 3.9 0 1 1 -7.8 0M410.0 607.1a3.9 3.9 0 1 1 7.8 0a3.9 3.9 0 1 1 -7.8 0M416.8 608.2l4.9 8.7h-9.8zM418.1 617.3l4.9 8.7h-9.8zM424.6 602.6l4.9 8.7h-9.8zM421.6 609.3l4.9 8.7h-9.8zM418.8 617.2a3.9 3.9 0 1 1 7.8 0a3.9 3.9 0 1 1 -7.8 0M418.9 622.9a3.9 3.9 0 1 1 7.8 0a3.9 3.9 0 1 1 -7.8 0M426.9 604.9l4.9 8.7h-9.8zM428.9 610.2l4.9 8.7h-9.8zM423.5 622.1a3.9 3.9 0 1 1 7.8 0a3.9 3.9 0 1 1 -7.8 0M433.0 597.6l4.9 8.7h-9.8zM426.5 611.0a3.9 3.9 0 1 1 7.8 0a3.9 3.9 0 1 1 -7.8 0M430.2 619.9l4.9 8.7h-9.8zM433.9 602.9a3.9 3.9 0 1 1 7.8 0a3.9 3.9 0 1 1 -7.8 0M437.4 611.0l4.9 8.7h-9.8zM432.5 619.1a3.9 3.9 0 1 1 7.8 0a3.9 3.9 0 1 1 -7.8 0M437.2 604.4a3.9 3.9 0 1 1 7.8 0a3.9 3.9 0 1 1 -7.8 0M439.5 603.8l4.9 8.7h-9.8zM440.1 615.2l4.9 8.7h-9.8zM442.1 618.5l4.9 8.7h-9.8zM443.3 603.5l4.9 8.7h-9.8zM444.5 616.2l4.9 8.7h-9.8zM448.9 609.2l4.9 8.7h-9.8zM445.4 622.1a3.9 3.9 0 1 1 7.8 0a3.9 3.9 0 1 1 -7.8 0M448.2 609.4a3.9 3.9 0 1 1 7.8 0a3.9 3.9 0 1 1 -7.8 0M454.4 606.2l4.9 8.7h-9.8zM452.6 615.9a3.9 3.9 0 1 1 7.8 0a3.9 3.9 0 1 1 -7.8 0M455.2 612.7l4.9 8.7h-9.8zM451.5 622.2a3.9 3.9 0 1 1 7.8 0a3.9 3.9 0 1 1 -7.8 0M460.5 599.5l4.9 8.7h-9.8zM457.6 609.4a3.9 3.9 0 1 1 7.8 0a3.9 3.9 0 1 1 -7.8 0M462.7 610.9a3.9 3.9 0 1 1 7.8 0a3.9 3.9 0 1 1 -7.8 0M467.6 601.3l4.9 8.7h-9.8zM469.6 604.9l4.9 8.7h-9.8zM470.7 610.1l4.9 8.7h-9.8zM470.6 612.9l4.9 8.7h-9.8zM469.0 606.0a3.9 3.9 0 1 1 7.8 0a3.9 3.9 0 1 1 -7.8 0M473.4 604.1l4.9 8.7h-9.8zM474.4 610.0l4.9 8.7h-9.8zM473.5 617.1l4.9 8.7h-9.8zM474.4 607.9a3.9 3.9 0 1 1 7.8 0a3.9 3.9 0 1 1 -7.8 0M476.1 606.4l4.9 8.7h-9.8zM477.6 613.6l4.9 8.7h-9.8zM479.2 600.4l4.9 8.7h-9.8zM478.8 614.5l4.9 8.7h-9.8zM485.5 597.2l4.9 8.7h-9.8zM481.7 612.0a3.9 3.9 0 1 1 7.8 0a3.9 3.9 0 1 1 -7.8 0M482.7 617.4a3.9 3.9 0 1 1 7.8 0a3.9 3.9 0 1 1 -7.8 0M480.5 622.0a3.9 3.9 0 1 1 7.8 0a3.9 3.9 0 1 1 -7.8 0M486.9 604.0a3.9 3.9 0 1 1 7.8 0a3.9 3.9 0 1 1 -7.8 0M486.3 610.4a3.9 3.9 0 1 1 7.8 0a3.9 3.9 0 1 1 -7.8 0M491.8 612.6l4.9 8.7h-9.8zM495.8 596.2l4.9 8.7h-9.8zM488.6 611.1a3.9 3.9 0 1 1 7.8 0a3.9 3.9 0 1 1 -7.8 0M492.4 617.9a3.9 3.9 0 1 1 7.8 0a3.9 3.9 0 1 1 -7.8 0M496.4 609.4l4.9 8.7h-9.8zM495.7 618.3a3.9 3.9 0 1 1 7.8 0a3.9 3.9 0 1 1 -7.8 0M499.3 616.8l4.9 8.7h-9.8zM497.1 606.0a3.9 3.9 0 1 1 7.8 0a3.9 3.9 0 1 1 -7.8 0M499.2 613.2a3.9 3.9 0 1 1 7.8 0a3.9 3.9 0 1 1 -7.8 0M500.5 617.1l4.9 8.7h-9.8zM500.8 608.6a3.9 3.9 0 1 1 7.8 0a3.9 3.9 0 1 1 -7.8 0M504.1 610.4l4.9 8.7h-9.8zM502.2 616.4a3.9 3.9 0 1 1 7.8 0a3.9 3.9 0 1 1 -7.8 0M505.9 617.8l4.9 8.7h-9.8zM510.6 599.0l4.9 8.7h-9.8zM508.3 612.8a3.9 3.9 0 1 1 7.8 0a3.9 3.9 0 1 1 -7.8 0M505.1 618.4a3.9 3.9 0 1 1 7.8 0a3.9 3.9 0 1 1 -7.8 0M517.1 597.6l4.9 8.7h-9.8zM514.8 610.3l4.9 8.7h-9.8zM514.4 617.2l4.9 8.7h-9.8zM516.7 607.6a3.9 3.9 0 1 1 7.8 0a3.9 3.9 0 1 1 -7.8 0M516.0 611.9a3.9 3.9 0 1 1 7.8 0a3.9 3.9 0 1 1 -7.8 0M521.8 618.3l4.9 8.7h-9.8zM527.3 601.9l4.9 8.7h-9.8zM524.3 610.4l4.9 8.7h-9.8zM527.4 617.3l4.9 8.7h-9.8zM529.2 611.6l4.9 8.7h-9.8zM529.6 606.8a3.9 3.9 0 1 1 7.8 0a3.9 3.9 0 1 1 -7.8 0M531.0 610.7a3.9 3.9 0 1 1 7.8 0a3.9 3.9 0 1 1 -7.8 0M531.2 617.2a3.9 3.9 0 1 1 7.8 0a3.9 3.9 0 1 1 -7.8 0M533.8 617.6l4.9 8.7h-9.8zM538.3 607.7l4.9 8.7h-9.8zM535.1 611.1l4.9 8.7h-9.8zM540.7 607.1l4.9 8.7h-9.8zM538.5 616.0l4.9 8.7h-9.8zM541.1 607.4a3.9 3.9 0 1 1 7.8 0a3.9 3.9 0 1 1 -7.8 0M544.8 611.9l4.9 8.7h-9.8zM538.6 622.3a3.9 3.9 0 1 1 7.8 0a3.9 3.9 0 1 1 -7.8 0M551.0 602.0l4.9 8.7h-9.8zM545.6 612.6a3.9 3.9 0 1 1 7.8 0a3.9 3.9 0 1 1 -7.8 0M543.2 620.6a3.9 3.9 0 1 1 7.8 0a3.9 3.9 0 1 1 -7.8 0M553.2 609.0l4.9 8.7h-9.8zM558.4 617.0l4.9 8.7h-9.8zM559.8 619.9a3.9 3.9 0 1 1 7.8 0a3.9 3.9 0 1 1 -7.8 0M563.9 619.5l4.9 8.7h-9.8zM566.6 616.9l4.9 8.7h-9.8zM567.0 618.6a3.9 3.9 0 1 1 7.8 0a3.9 3.9 0 1 1 -7.8 0M564.5 623.4a3.9 3.9 0 1 1 7.8 0a3.9 3.9 0 1 1 -7.8 0M571.9 606.0l4.9 8.7h-9.8zM573.5 611.1l4.9 8.7h-9.8zM575.3 612.5l4.9 8.7h-9.8zM574.5 616.5l4.9 8.7h-9.8zM575.6 608.3a3.9 3.9 0 1 1 7.8 0a3.9 3.9 0 1 1 -7.8 0M572.3 617.0a3.9 3.9 0 1 1 7.8 0a3.9 3.9 0 1 1 -7.8 0M578.4 610.0a3.9 3.9 0 1 1 7.8 0a3.9 3.9 0 1 1 -7.8 0M583.4 611.1l4.9 8.7h-9.8zM582.5 612.4l4.9 8.7h-9.8zM582.8 616.8l4.9 8.7h-9.8zM581.4 610.3a3.9 3.9 0 1 1 7.8 0a3.9 3.9 0 1 1 -7.8 0M581.7 613.7a3.9 3.9 0 1 1 7.8 0a3.9 3.9 0 1 1 -7.8 0M586.5 614.9l4.9 8.7h-9.8zM587.9 617.7l4.9 8.7h-9.8zM589.6 603.5l4.9 8.7h-9.8zM586.0 615.7a3.9 3.9 0 1 1 7.8 0a3.9 3.9 0 1 1 -7.8 0M588.1 618.3a3.9 3.9 0 1 1 7.8 0a3.9 3.9 0 1 1 -7.8 0M588.7 619.9l4.9 8.7h-9.8zM594.1 606.5l4.9 8.7h-9.8zM596.6 610.3l4.9 8.7h-9.8zM594.0 614.8l4.9 8.7h-9.8zM596.8 617.7l4.9 8.7h-9.8zM595.7 608.3a3.9 3.9 0 1 1 7.8 0a3.9 3.9 0 1 1 -7.8 0M596.3 615.4a3.9 3.9 0 1 1 7.8 0a3.9 3.9 0 1 1 -7.8 0M596.8 614.1l4.9 8.7h-9.8zM603.7 603.7l4.9 8.7h-9.8zM603.0 609.4l4.9 8.7h-9.8zM602.8 608.7a3.9 3.9 0 1 1 7.8 0a3.9 3.9 0 1 1 -7.8 0M609.2 611.7l4.9 8.7h-9.8zM603.0 616.9a3.9 3.9 0 1 1 7.8 0a3.9 3.9 0 1 1 -7.8 0M605.0 622.1a3.9 3.9 0 1 1 7.8 0a3.9 3.9 0 1 1 -7.8 0M606.8 615.2a3.9 3.9 0 1 1 7.8 0a3.9 3.9 0 1 1 -7.8 0M608.0 618.9a3.9 3.9 0 1 1 7.8 0a3.9 3.9 0 1 1 -7.8 0M617.0 605.0l4.9 8.7h-9.8zM620.2 605.1l4.9 8.7h-9.8zM618.0 609.5l4.9 8.7h-9.8zM621.9 607.4l4.9 8.7h-9.8zM618.1 612.6a3.9 3.9 0 1 1 7.8 0a3.9 3.9 0 1 1 -7.8 0M622.4 611.1a3.9 3.9 0 1 1 7.8 0a3.9 3.9 0 1 1 -7.8 0M624.0 620.1a3.9 3.9 0 1 1 7.8 0a3.9 3.9 0 1 1 -7.8 0M633.9 611.1l4.9 8.7h-9.8zM631.9 613.2l4.9 8.7h-9.8zM634.0 619.4l4.9 8.7h-9.8zM633.4 616.8a3.9 3.9 0 1 1 7.8 0a3.9 3.9 0 1 1 -7.8 0M633.4 620.0a3.9 3.9 0 1 1 7.8 0a3.9 3.9 0 1 1 -7.8 0M630.8 621.6a3.9 3.9 0 1 1 7.8 0a3.9 3.9 0 1 1 -7.8 0M642.9 603.8l4.9 8.7h-9.8zM636.6 613.5a3.9 3.9 0 1 1 7.8 0a3.9 3.9 0 1 1 -7.8 0M641.5 616.9l4.9 8.7h-9.8zM643.8 604.9l4.9 8.7h-9.8zM639.5 613.7a3.9 3.9 0 1 1 7.8 0a3.9 3.9 0 1 1 -7.8 0M645.5 615.6l4.9 8.7h-9.8zM639.3 625.7a3.9 3.9 0 1 1 7.8 0a3.9 3.9 0 1 1 -7.8 0M650.5 612.8l4.9 8.7h-9.8zM647.0 615.1l4.9 8.7h-9.8zM646.5 618.0l4.9 8.7h-9.8zM646.5 619.2a3.9 3.9 0 1 1 7.8 0a3.9 3.9 0 1 1 -7.8 0M654.6 619.7a3.9 3.9 0 1 1 7.8 0a3.9 3.9 0 1 1 -7.8 0M665.2 614.8l4.9 8.7h-9.8zM660.6 624.6a3.9 3.9 0 1 1 7.8 0a3.9 3.9 0 1 1 -7.8 0M664.7 611.7a3.9 3.9 0 1 1 7.8 0a3.9 3.9 0 1 1 -7.8 0M670.1 612.1l4.9 8.7h-9.8zM668.6 612.5l4.9 8.7h-9.8zM676.2 606.2l4.9 8.7h-9.8zM676.3 610.0l4.9 8.7h-9.8zM672.0 624.7a3.9 3.9 0 1 1 7.8 0a3.9 3.9 0 1 1 -7.8 0M678.7 610.3l4.9 8.7h-9.8zM679.3 615.6l4.9 8.7h-9.8zM674.9 621.1a3.9 3.9 0 1 1 7.8 0a3.9 3.9 0 1 1 -7.8 0M681.5 605.1l4.9 8.7h-9.8zM685.1 608.4l4.9 8.7h-9.8zM681.5 620.6l4.9 8.7h-9.8zM686.9 604.8l4.9 8.7h-9.8zM687.0 609.3l4.9 8.7h-9.8zM681.8 619.6a3.9 3.9 0 1 1 7.8 0a3.9 3.9 0 1 1 -7.8 0M688.7 621.4l4.9 8.7h-9.8zM691.9 607.0l4.9 8.7h-9.8zM693.1 612.3a3.9 3.9 0 1 1 7.8 0a3.9 3.9 0 1 1 -7.8 0M690.3 620.7a3.9 3.9 0 1 1 7.8 0a3.9 3.9 0 1 1 -7.8 0M699.9 610.4l4.9 8.7h-9.8zM694.9 621.7a3.9 3.9 0 1 1 7.8 0a3.9 3.9 0 1 1 -7.8 0M701.6 609.2a3.9 3.9 0 1 1 7.8 0a3.9 3.9 0 1 1 -7.8 0M701.9 611.9l4.9 8.7h-9.8zM701.5 616.0l4.9 8.7h-9.8zM706.4 607.7l4.9 8.7h-9.8zM709.5 607.8l4.9 8.7h-9.8zM122.9 595.1l4.9 8.7h-9.8zM120.6 607.8l4.9 8.7h-9.8zM121.3 601.4a3.9 3.9 0 1 1 7.8 0a3.9 3.9 0 1 1 -7.8 0M120.3 610.1a3.9 3.9 0 1 1 7.8 0a3.9 3.9 0 1 1 -7.8 0M123.4 614.7a3.9 3.9 0 1 1 7.8 0a3.9 3.9 0 1 1 -7.8 0M126.9 603.8a3.9 3.9 0 1 1 7.8 0a3.9 3.9 0 1 1 -7.8 0M124.2 614.0a3.9 3.9 0 1 1 7.8 0a3.9 3.9 0 1 1 -7.8 0M133.7 597.2l4.9 8.7h-9.8zM130.8 600.5l4.9 8.7h-9.8zM130.0 610.4a3.9 3.9 0 1 1 7.8 0a3.9 3.9 0 1 1 -7.8 0M128.0 614.6a3.9 3.9 0 1 1 7.8 0a3.9 3.9 0 1 1 -7.8 0M135.5 604.3l4.9 8.7h-9.8zM135.0 612.8a3.9 3.9 0 1 1 7.8 0a3.9 3.9 0 1 1 -7.8 0M132.3 617.3a3.9 3.9 0 1 1 7.8 0a3.9 3.9 0 1 1 -7.8 0M138.4 601.7a3.9 3.9 0 1 1 7.8 0a3.9 3.9 0 1 1 -7.8 0M141.1 598.6l4.9 8.7h-9.8zM140.4 605.2l4.9 8.7h-9.8zM141.7 607.0l4.9 8.7h-9.8zM147.2 599.5l4.9 8.7h-9.8zM147.4 605.6l4.9 8.7h-9.8zM139.7 612.4a3.9 3.9 0 1 1 7.8 0a3.9 3.9 0 1 1 -7.8 0M148.4 599.8l4.9 8.7h-9.8zM146.8 598.8a3.9 3.9 0 1 1 7.8 0a3.9 3.9 0 1 1 -7.8 0M154.1 600.5l4.9 8.7h-9.8zM150.7 616.2a3.9 3.9 0 1 1 7.8 0a3.9 3.9 0 1 1 -7.8 0M159.3 596.8l4.9 8.7h-9.8zM158.5 612.5l4.9 8.7h-9.8zM157.2 600.9a3.9 3.9 0 1 1 7.8 0a3.9 3.9 0 1 1 -7.8 0M163.0 602.6l4.9 8.7h-9.8zM157.1 618.8a3.9 3.9 0 1 1 7.8 0a3.9 3.9 0 1 1 -7.8 0M161.8 603.9a3.9 3.9 0 1 1 7.8 0a3.9 3.9 0 1 1 -7.8 0M166.9 602.5l4.9 8.7h-9.8zM161.4 614.3a3.9 3.9 0 1 1 7.8 0a3.9 3.9 0 1 1 -7.8 0M162.4 618.1a3.9 3.9 0 1 1 7.8 0a3.9 3.9 0 1 1 -7.8 0M169.1 608.7a3.9 3.9 0 1 1 7.8 0a3.9 3.9 0 1 1 -7.8 0M173.4 613.5l4.9 8.7h-9.8zM175.1 596.3l4.9 8.7h-9.8zM171.6 606.0a3.9 3.9 0 1 1 7.8 0a3.9 3.9 0 1 1 -7.8 0M174.5 604.9l4.9 8.7h-9.8zM180.5 604.3l4.9 8.7h-9.8zM180.8 606.8l4.9 8.7h-9.8zM266.1 605.4a3.9 3.9 0 1 1 7.8 0a3.9 3.9 0 1 1 -7.8 0M268.8 608.8l4.9 8.7h-9.8zM274.1 596.5a3.9 3.9 0 1 1 7.8 0a3.9 3.9 0 1 1 -7.8 0M272.9 598.6a3.9 3.9 0 1 1 7.8 0a3.9 3.9 0 1 1 -7.8 0M272.9 611.3a3.9 3.9 0 1 1 7.8 0a3.9 3.9 0 1 1 -7.8 0M272.7 618.3a3.9 3.9 0 1 1 7.8 0a3.9 3.9 0 1 1 -7.8 0M280.6 590.4l4.9 8.7h-9.8zM276.3 601.4a3.9 3.9 0 1 1 7.8 0a3.9 3.9 0 1 1 -7.8 0M276.2 604.5a3.9 3.9 0 1 1 7.8 0a3.9 3.9 0 1 1 -7.8 0M275.8 609.3a3.9 3.9 0 1 1 7.8 0a3.9 3.9 0 1 1 -7.8 0M282.9 614.1l4.9 8.7h-9.8zM281.2 597.6a3.9 3.9 0 1 1 7.8 0a3.9 3.9 0 1 1 -7.8 0M279.9 618.0a3.9 3.9 0 1 1 7.8 0a3.9 3.9 0 1 1 -7.8 0M283.6 596.7a3.9 3.9 0 1 1 7.8 0a3.9 3.9 0 1 1 -7.8 0M283.6 599.7a3.9 3.9 0 1 1 7.8 0a3.9 3.9 0 1 1 -7.8 0M288.9 605.5l4.9 8.7h-9.8zM288.9 599.3a3.9 3.9 0 1 1 7.8 0a3.9 3.9 0 1 1 -7.8 0M291.0 612.6l4.9 8.7h-9.8zM293.7 601.1a3.9 3.9 0 1 1 7.8 0a3.9 3.9 0 1 1 -7.8 0M297.1 616.3l4.9 8.7h-9.8zM295.1 595.4a3.9 3.9 0 1 1 7.8 0a3.9 3.9 0 1 1 -7.8 0M304.6 591.2l4.9 8.7h-9.8zM302.9 597.8l4.9 8.7h-9.8zM300.4 605.6a3.9 3.9 0 1 1 7.8 0a3.9 3.9 0 1 1 -7.8 0M301.2 596.9a3.9 3.9 0 1 1 7.8 0a3.9 3.9 0 1 1 -7.8 0M301.2 601.6a3.9 3.9 0 1 1 7.8 0a3.9 3.9 0 1 1 -7.8 0M306.1 609.5l4.9 8.7h-9.8zM305.8 598.9a3.9 3.9 0 1 1 7.8 0a3.9 3.9 0 1 1 -7.8 0M309.4 607.8a3.9 3.9 0 1 1 7.8 0a3.9 3.9 0 1 1 -7.8 0M307.9 614.3a3.9 3.9 0 1 1 7.8 0a3.9 3.9 0 1 1 -7.8 0M307.9 615.7a3.9 3.9 0 1 1 7.8 0a3.9 3.9 0 1 1 -7.8 0M311.0 597.8a3.9 3.9 0 1 1 7.8 0a3.9 3.9 0 1 1 -7.8 0M311.5 611.4a3.9 3.9 0 1 1 7.8 0a3.9 3.9 0 1 1 -7.8 0M312.6 614.5l4.9 8.7h-9.8zM318.0 591.6l4.9 8.7h-9.8zM315.0 602.8a3.9 3.9 0 1 1 7.8 0a3.9 3.9 0 1 1 -7.8 0M324.9 605.5l4.9 8.7h-9.8zM318.7 613.7a3.9 3.9 0 1 1 7.8 0a3.9 3.9 0 1 1 -7.8 0M321.2 617.7a3.9 3.9 0 1 1 7.8 0a3.9 3.9 0 1 1 -7.8 0M326.3 595.9a3.9 3.9 0 1 1 7.8 0a3.9 3.9 0 1 1 -7.8 0M325.1 606.2a3.9 3.9 0 1 1 7.8 0a3.9 3.9 0 1 1 -7.8 0M332.1 590.8l4.9 8.7h-9.8zM331.1 600.0l4.9 8.7h-9.8zM330.4 612.1l4.9 8.7h-9.8zM332.3 616.3a3.9 3.9 0 1 1 7.8 0a3.9 3.9 0 1 1 -7.8 0M336.7 614.0l4.9 8.7h-9.8zM338.5 608.4l4.9 8.7h-9.8zM339.7 597.5a3.9 3.9 0 1 1 7.8 0a3.9 3.9 0 1 1 -7.8 0M350.3 608.6l4.9 8.7h-9.8zM353.6 597.2l4.9 8.7h-9.8zM346.8 610.0a3.9 3.9 0 1 1 7.8 0a3.9 3.9 0 1 1 -7.8 0M352.6 608.6l4.9 8.7h-9.8zM347.0 616.9a3.9 3.9 0 1 1 7.8 0a3.9 3.9 0 1 1 -7.8 0M392.5 603.1l4.9 8.7h-9.8zM387.0 612.1a3.9 3.9 0 1 1 7.8 0a3.9 3.9 0 1 1 -7.8 0M388.3 617.3a3.9 3.9 0 1 1 7.8 0a3.9 3.9 0 1 1 -7.8 0M397.0 600.6l4.9 8.7h-9.8zM396.4 609.4l4.9 8.7h-9.8zM396.3 597.7l4.9 8.7h-9.8zM394.0 613.7a3.9 3.9 0 1 1 7.8 0a3.9 3.9 0 1 1 -7.8 0M393.6 619.6a3.9 3.9 0 1 1 7.8 0a3.9 3.9 0 1 1 -7.8 0M401.1 599.0l4.9 8.7h-9.8zM403.8 600.1l4.9 8.7h-9.8zM406.9 605.4l4.9 8.7h-9.8zM406.3 608.7l4.9 8.7h-9.8zM400.1 616.9a3.9 3.9 0 1 1 7.8 0a3.9 3.9 0 1 1 -7.8 0M411.0 611.2l4.9 8.7h-9.8zM412.1 601.1l4.9 8.7h-9.8zM414.5 612.6l4.9 8.7h-9.8zM412.9 619.4l4.9 8.7h-9.8zM422.0 604.9a3.9 3.9 0 1 1 7.8 0a3.9 3.9 0 1 1 -7.8 0M425.7 609.1l4.9 8.7h-9.8zM432.2 599.9l4.9 8.7h-9.8zM425.2 614.2a3.9 3.9 0 1 1 7.8 0a3.9 3.9 0 1 1 -7.8 0M436.4 605.5l4.9 8.7h-9.8zM438.4 604.6a3.9 3.9 0 1 1 7.8 0a3.9 3.9 0 1 1 -7.8 0M445.5 599.2l4.9 8.7h-9.8zM447.9 606.3l4.9 8.7h-9.8zM442.1 613.1a3.9 3.9 0 1 1 7.8 0a3.9 3.9 0 1 1 -7.8 0M451.1 599.2l4.9 8.7h-9.8zM444.1 614.3a3.9 3.9 0 1 1 7.8 0a3.9 3.9 0 1 1 -7.8 0M444.4 622.6a3.9 3.9 0 1 1 7.8 0a3.9 3.9 0 1 1 -7.8 0M453.2 604.9a3.9 3.9 0 1 1 7.8 0a3.9 3.9 0 1 1 -7.8 0M456.7 611.8l4.9 8.7h-9.8zM452.6 620.6a3.9 3.9 0 1 1 7.8 0a3.9 3.9 0 1 1 -7.8 0M460.2 607.0l4.9 8.7h-9.8zM464.1 615.7l4.9 8.7h-9.8zM355.5 573.9l4.9 8.7h-9.8zM357.0 579.1l4.9 8.7h-9.8zM355.2 572.0a3.9 3.9 0 1 1 7.8 0a3.9 3.9 0 1 1 -7.8 0M359.9 571.1l4.9 8.7h-9.8zM359.9 576.0l4.9 8.7h-9.8zM358.0 579.2l4.9 8.7h-9.8zM365.4 569.7l4.9 8.7h-9.8zM364.2 573.7l4.9 8.7h-9.8zM357.6 581.0a3.9 3.9 0 1 1 7.8 0a3.9 3.9 0 1 1 -7.8 0M364.1 571.5a3.9 3.9 0 1 1 7.8 0a3.9 3.9 0 1 1 -7.8 0M365.0 578.5l4.9 8.7h-9.8zM370.5 570.5l4.9 8.7h-9.8zM371.2 573.5l4.9 8.7h-9.8zM371.3 575.5l4.9 8.7h-9.8zM369.1 574.0a3.9 3.9 0 1 1 7.8 0a3.9 3.9 0 1 1 -7.8 0M373.4 572.8l4.9 8.7h-9.8zM374.3 575.9l4.9 8.7h-9.8zM371.5 584.4a3.9 3.9 0 1 1 7.8 0a3.9 3.9 0 1 1 -7.8 0M376.5 569.9l4.9 8.7h-9.8zM374.2 577.0a3.9 3.9 0 1 1 7.8 0a3.9 3.9 0 1 1 -7.8 0M376.4 577.7l4.9 8.7h-9.8zM379.7 569.9l4.9 8.7h-9.8zM381.8 571.0l4.9 8.7h-9.8zM376.3 579.9a3.9 3.9 0 1 1 7.8 0a3.9 3.9 0 1 1 -7.8 0M379.4 578.5l4.9 8.7h-9.8zM379.3 577.9a3.9 3.9 0 1 1 7.8 0a3.9 3.9 0 1 1 -7.8 0M385.3 575.2l4.9 8.7h-9.8zM386.5 580.6l4.9 8.7h-9.8zM552.7 580.5a3.9 3.9 0 1 1 7.8 0a3.9 3.9 0 1 1 -7.8 0M552.2 583.9a3.9 3.9 0 1 1 7.8 0a3.9 3.9 0 1 1 -7.8 0M556.4 581.8a3.9 3.9 0 1 1 7.8 0a3.9 3.9 0 1 1 -7.8 0M556.8 583.2a3.9 3.9 0 1 1 7.8 0a3.9 3.9 0 1 1 -7.8 0M560.8 580.7a3.9 3.9 0 1 1 7.8 0a3.9 3.9 0 1 1 -7.8 0M565.0 580.4a3.9 3.9 0 1 1 7.8 0a3.9 3.9 0 1 1 -7.8 0M563.7 584.3a3.9 3.9 0 1 1 7.8 0a3.9 3.9 0 1 1 -7.8 0M568.5 583.2a3.9 3.9 0 1 1 7.8 0a3.9 3.9 0 1 1 -7.8 0M567.9 582.6a3.9 3.9 0 1 1 7.8 0a3.9 3.9 0 1 1 -7.8 0M572.0 580.1a3.9 3.9 0 1 1 7.8 0a3.9 3.9 0 1 1 -7.8 0M575.3 581.5a3.9 3.9 0 1 1 7.8 0a3.9 3.9 0 1 1 -7.8 0M580.7 583.1a3.9 3.9 0 1 1 7.8 0a3.9 3.9 0 1 1 -7.8 0M580.8 581.6a3.9 3.9 0 1 1 7.8 0a3.9 3.9 0 1 1 -7.8 0M584.9 582.8a3.9 3.9 0 1 1 7.8 0a3.9 3.9 0 1 1 -7.8 0M583.9 582.7a3.9 3.9 0 1 1 7.8 0a3.9 3.9 0 1 1 -7.8 0M587.2 581.8a3.9 3.9 0 1 1 7.8 0a3.9 3.9 0 1 1 -7.8 0M588.2 581.9a3.9 3.9 0 1 1 7.8 0a3.9 3.9 0 1 1 -7.8 0M592.0 582.6a3.9 3.9 0 1 1 7.8 0a3.9 3.9 0 1 1 -7.8 0M591.7 582.3a3.9 3.9 0 1 1 7.8 0a3.9 3.9 0 1 1 -7.8 0M596.4 579.7a3.9 3.9 0 1 1 7.8 0a3.9 3.9 0 1 1 -7.8 0M599.1 580.9a3.9 3.9 0 1 1 7.8 0a3.9 3.9 0 1 1 -7.8 0M600.6 581.6a3.9 3.9 0 1 1 7.8 0a3.9 3.9 0 1 1 -7.8 0M603.2 583.0a3.9 3.9 0 1 1 7.8 0a3.9 3.9 0 1 1 -7.8 0M607.8 580.4a3.9 3.9 0 1 1 7.8 0a3.9 3.9 0 1 1 -7.8 0M609.0 582.0a3.9 3.9 0 1 1 7.8 0a3.9 3.9 0 1 1 -7.8 0M612.2 583.4a3.9 3.9 0 1 1 7.8 0a3.9 3.9 0 1 1 -7.8 0M612.0 581.0a3.9 3.9 0 1 1 7.8 0a3.9 3.9 0 1 1 -7.8 0M615.4 580.2a3.9 3.9 0 1 1 7.8 0a3.9 3.9 0 1 1 -7.8 0M619.2 582.0a3.9 3.9 0 1 1 7.8 0a3.9 3.9 0 1 1 -7.8 0M619.1 582.0a3.9 3.9 0 1 1 7.8 0a3.9 3.9 0 1 1 -7.8 0M623.2 580.1a3.9 3.9 0 1 1 7.8 0a3.9 3.9 0 1 1 -7.8 0M627.2 582.8a3.9 3.9 0 1 1 7.8 0a3.9 3.9 0 1 1 -7.8 0M632.5 582.7a3.9 3.9 0 1 1 7.8 0a3.9 3.9 0 1 1 -7.8 0M631.6 583.6a3.9 3.9 0 1 1 7.8 0a3.9 3.9 0 1 1 -7.8 0M636.1 582.7a3.9 3.9 0 1 1 7.8 0a3.9 3.9 0 1 1 -7.8 0M639.7 582.1a3.9 3.9 0 1 1 7.8 0a3.9 3.9 0 1 1 -7.8 0M641.1 582.0a3.9 3.9 0 1 1 7.8 0a3.9 3.9 0 1 1 -7.8 0M644.5 579.9a3.9 3.9 0 1 1 7.8 0a3.9 3.9 0 1 1 -7.8 0M643.3 582.8a3.9 3.9 0 1 1 7.8 0a3.9 3.9 0 1 1 -7.8 0M648.1 582.9a3.9 3.9 0 1 1 7.8 0a3.9 3.9 0 1 1 -7.8 0M652.9 580.1a3.9 3.9 0 1 1 7.8 0a3.9 3.9 0 1 1 -7.8 0M656.7 579.0a3.9 3.9 0 1 1 7.8 0a3.9 3.9 0 1 1 -7.8 0M661.0 579.3a3.9 3.9 0 1 1 7.8 0a3.9 3.9 0 1 1 -7.8 0M95.8 593.9l4.9 8.7h-9.8zM159.0 566.4l4.9 8.7h-9.8zM220.8 575.6l4.9 8.7h-9.8zM240.0 585.6l4.9 8.7h-9.8zM160.8 565.6l4.9 8.7h-9.8zM337.4 563.9l4.9 8.7h-9.8zM350.0 572.2l4.9 8.7h-9.8zM337.4 575.6l4.9 8.7h-9.8zM383.0 567.5l4.9 8.7h-9.8zM441.7 583.2l4.9 8.7h-9.8zM474.6 545.4l4.9 8.7h-9.8zM474.6 549.2l4.9 8.7h-9.8zM476.9 559.9l4.9 8.7h-9.8zM442.3 584.1l4.9 8.7h-9.8zM475.9 593.9l4.9 8.7h-9.8zM491.5 596.9l4.9 8.7h-9.8zM508.9 597.8l4.9 8.7h-9.8zM519.6 597.8l4.9 8.7h-9.8zM521.6 601.6l4.9 8.7h-9.8zM564.3 596.9l4.9 8.7h-9.8zM577.9 596.9l4.9 8.7h-9.8zM579.0 596.9l4.9 8.7h-9.8zM605.8 596.9l4.9 8.7h-9.8zM645.4 590.9l4.9 8.7h-9.8zM698.3 579.9l4.9 8.7h-9.8zM670.0 597.6l4.9 8.7h-9.8zM676.0 598.6l4.9 8.7h-9.8zM682.0 597.6l4.9 8.7h-9.8zM688.0 599.6l4.9 8.7h-9.8zM84.0 580.6l4.9 8.7h-9.8zM221.0 518.0a3.9 3.9 0 1 1 7.8 0a3.9 3.9 0 1 1 -7.8 0M201.1 530.0a3.9 3.9 0 1 1 7.8 0a3.9 3.9 0 1 1 -7.8 0M205.2 532.5a3.9 3.9 0 1 1 7.8 0a3.9 3.9 0 1 1 -7.8 0M172.7 558.6a3.9 3.9 0 1 1 7.8 0a3.9 3.9 0 1 1 -7.8 0M206.1 558.0a3.9 3.9 0 1 1 7.8 0a3.9 3.9 0 1 1 -7.8 0M198.6 563.0a3.9 3.9 0 1 1 7.8 0a3.9 3.9 0 1 1 -7.8 0M208.5 563.3a3.9 3.9 0 1 1 7.8 0a3.9 3.9 0 1 1 -7.8 0M199.4 570.0a3.9 3.9 0 1 1 7.8 0a3.9 3.9 0 1 1 -7.8 0M207.7 571.3a3.9 3.9 0 1 1 7.8 0a3.9 3.9 0 1 1 -7.8 0M202.7 565.8a3.9 3.9 0 1 1 7.8 0a3.9 3.9 0 1 1 -7.8 0M225.7 563.8a3.9 3.9 0 1 1 7.8 0a3.9 3.9 0 1 1 -7.8 0M270.1 565.5a3.9 3.9 0 1 1 7.8 0a3.9 3.9 0 1 1 -7.8 0M172.7 569.0a3.9 3.9 0 1 1 7.8 0a3.9 3.9 0 1 1 -7.8 0M176.1 575.0a3.9 3.9 0 1 1 7.8 0a3.9 3.9 0 1 1 -7.8 0M177.7 581.6a3.9 3.9 0 1 1 7.8 0a3.9 3.9 0 1 1 -7.8 0M185.2 582.5a3.9 3.9 0 1 1 7.8 0a3.9 3.9 0 1 1 -7.8 0M192.7 583.3a3.9 3.9 0 1 1 7.8 0a3.9 3.9 0 1 1 -7.8 0M204.4 584.1a3.9 3.9 0 1 1 7.8 0a3.9 3.9 0 1 1 -7.8 0M207.7 587.5a3.9 3.9 0 1 1 7.8 0a3.9 3.9 0 1 1 -7.8 0M261.9 585.0a3.9 3.9 0 1 1 7.8 0a3.9 3.9 0 1 1 -7.8 0M172.6 569.2a3.9 3.9 0 1 1 7.8 0a3.9 3.9 0 1 1 -7.8 0M176.0 575.8a3.9 3.9 0 1 1 7.8 0a3.9 3.9 0 1 1 -7.8 0M179.3 581.6a3.9 3.9 0 1 1 7.8 0a3.9 3.9 0 1 1 -7.8 0M186.0 583.3a3.9 3.9 0 1 1 7.8 0a3.9 3.9 0 1 1 -7.8 0M182.6 590.8a3.9 3.9 0 1 1 7.8 0a3.9 3.9 0 1 1 -7.8 0M146.7 601.0a3.9 3.9 0 1 1 7.8 0a3.9 3.9 0 1 1 -7.8 0M168.1 590.5a3.9 3.9 0 1 1 7.8 0a3.9 3.9 0 1 1 -7.8 0M181.5 591.0a3.9 3.9 0 1 1 7.8 0a3.9 3.9 0 1 1 -7.8 0M209.1 588.8a3.9 3.9 0 1 1 7.8 0a3.9 3.9 0 1 1 -7.8 0M203.7 583.9a3.9 3.9 0 1 1 7.8 0a3.9 3.9 0 1 1 -7.8 0M270.3 565.8a3.9 3.9 0 1 1 7.8 0a3.9 3.9 0 1 1 -7.8 0M292.7 566.3a3.9 3.9 0 1 1 7.8 0a3.9 3.9 0 1 1 -7.8 0M286.1 577.5a3.9 3.9 0 1 1 7.8 0a3.9 3.9 0 1 1 -7.8 0M307.7 577.5a3.9 3.9 0 1 1 7.8 0a3.9 3.9 0 1 1 -7.8 0M276.1 586.6a3.9 3.9 0 1 1 7.8 0a3.9 3.9 0 1 1 -7.8 0M286.1 586.6a3.9 3.9 0 1 1 7.8 0a3.9 3.9 0 1 1 -7.8 0M296.1 586.6a3.9 3.9 0 1 1 7.8 0a3.9 3.9 0 1 1 -7.8 0M306.1 586.6a3.9 3.9 0 1 1 7.8 0a3.9 3.9 0 1 1 -7.8 0M314.1 588.0a3.9 3.9 0 1 1 7.8 0a3.9 3.9 0 1 1 -7.8 0M411.6 521.6a3.9 3.9 0 1 1 7.8 0a3.9 3.9 0 1 1 -7.8 0M417.3 518.0a3.9 3.9 0 1 1 7.8 0a3.9 3.9 0 1 1 -7.8 0M392.8 543.6a3.9 3.9 0 1 1 7.8 0a3.9 3.9 0 1 1 -7.8 0M409.5 545.7a3.9 3.9 0 1 1 7.8 0a3.9 3.9 0 1 1 -7.8 0M422.1 546.8a3.9 3.9 0 1 1 7.8 0a3.9 3.9 0 1 1 -7.8 0M400.1 562.5a3.9 3.9 0 1 1 7.8 0a3.9 3.9 0 1 1 -7.8 0M393.8 568.8a3.9 3.9 0 1 1 7.8 0a3.9 3.9 0 1 1 -7.8 0M387.5 575.0a3.9 3.9 0 1 1 7.8 0a3.9 3.9 0 1 1 -7.8 0M406.4 556.2a3.9 3.9 0 1 1 7.8 0a3.9 3.9 0 1 1 -7.8 0M411.6 557.2a3.9 3.9 0 1 1 7.8 0a3.9 3.9 0 1 1 -7.8 0M410.6 586.6a3.9 3.9 0 1 1 7.8 0a3.9 3.9 0 1 1 -7.8 0M422.1 582.4a3.9 3.9 0 1 1 7.8 0a3.9 3.9 0 1 1 -7.8 0M419.0 591.8a3.9 3.9 0 1 1 7.8 0a3.9 3.9 0 1 1 -7.8 0M425.2 591.8a3.9 3.9 0 1 1 7.8 0a3.9 3.9 0 1 1 -7.8 0M452.5 587.6a3.9 3.9 0 1 1 7.8 0a3.9 3.9 0 1 1 -7.8 0M411.6 605.4a3.9 3.9 0 1 1 7.8 0a3.9 3.9 0 1 1 -7.8 0M401.1 614.8a3.9 3.9 0 1 1 7.8 0a3.9 3.9 0 1 1 -7.8 0M416.1 574.0a3.9 3.9 0 1 1 7.8 0a3.9 3.9 0 1 1 -7.8 0M424.1 566.0a3.9 3.9 0 1 1 7.8 0a3.9 3.9 0 1 1 -7.8 0M472.6 563.0a3.9 3.9 0 1 1 7.8 0a3.9 3.9 0 1 1 -7.8 0M532.6 569.1a3.9 3.9 0 1 1 7.8 0a3.9 3.9 0 1 1 -7.8 0M452.0 588.2a3.9 3.9 0 1 1 7.8 0a3.9 3.9 0 1 1 -7.8 0M471.1 582.7a3.9 3.9 0 1 1 7.8 0a3.9 3.9 0 1 1 -7.8 0M478.8 580.8a3.9 3.9 0 1 1 7.8 0a3.9 3.9 0 1 1 -7.8 0M484.6 586.6a3.9 3.9 0 1 1 7.8 0a3.9 3.9 0 1 1 -7.8 0M489.5 589.5a3.9 3.9 0 1 1 7.8 0a3.9 3.9 0 1 1 -7.8 0M482.7 594.4a3.9 3.9 0 1 1 7.8 0a3.9 3.9 0 1 1 -7.8 0M474.9 591.5a3.9 3.9 0 1 1 7.8 0a3.9 3.9 0 1 1 -7.8 0M504.1 597.3a3.9 3.9 0 1 1 7.8 0a3.9 3.9 0 1 1 -7.8 0M514.7 594.4a3.9 3.9 0 1 1 7.8 0a3.9 3.9 0 1 1 -7.8 0M527.4 597.9a3.9 3.9 0 1 1 7.8 0a3.9 3.9 0 1 1 -7.8 0M546.8 595.3a3.9 3.9 0 1 1 7.8 0a3.9 3.9 0 1 1 -7.8 0M551.6 580.8a3.9 3.9 0 1 1 7.8 0a3.9 3.9 0 1 1 -7.8 0M557.5 579.8a3.9 3.9 0 1 1 7.8 0a3.9 3.9 0 1 1 -7.8 0M646.6 574.2a3.9 3.9 0 1 1 7.8 0a3.9 3.9 0 1 1 -7.8 0M663.6 585.3a3.9 3.9 0 1 1 7.8 0a3.9 3.9 0 1 1 -7.8 0M615.4 588.3a3.9 3.9 0 1 1 7.8 0a3.9 3.9 0 1 1 -7.8 0M591.8 602.3a3.9 3.9 0 1 1 7.8 0a3.9 3.9 0 1 1 -7.8 0M620.4 602.3a3.9 3.9 0 1 1 7.8 0a3.9 3.9 0 1 1 -7.8 0M626.4 601.3a3.9 3.9 0 1 1 7.8 0a3.9 3.9 0 1 1 -7.8 0M649.6 602.3a3.9 3.9 0 1 1 7.8 0a3.9 3.9 0 1 1 -7.8 0M79.2 853.3a3.9 3.9 0 1 1 7.8 0a3.9 3.9 0 1 1 -7.8 0M79.9 856.6a3.9 3.9 0 1 1 7.8 0a3.9 3.9 0 1 1 -7.8 0M79.8 861.8a3.9 3.9 0 1 1 7.8 0a3.9 3.9 0 1 1 -7.8 0M80.5 864.4a3.9 3.9 0 1 1 7.8 0a3.9 3.9 0 1 1 -7.8 0M80.2 869.2a3.9 3.9 0 1 1 7.8 0a3.9 3.9 0 1 1 -7.8 0M81.2 869.9a3.9 3.9 0 1 1 7.8 0a3.9 3.9 0 1 1 -7.8 0M80.2 872.9a3.9 3.9 0 1 1 7.8 0a3.9 3.9 0 1 1 -7.8 0M82.6 873.3a3.9 3.9 0 1 1 7.8 0a3.9 3.9 0 1 1 -7.8 0M79.9 876.6a3.9 3.9 0 1 1 7.8 0a3.9 3.9 0 1 1 -7.8 0M82.2 876.1a3.9 3.9 0 1 1 7.8 0a3.9 3.9 0 1 1 -7.8 0M80.7 881.5a3.9 3.9 0 1 1 7.8 0a3.9 3.9 0 1 1 -7.8 0M82.5 881.7a3.9 3.9 0 1 1 7.8 0a3.9 3.9 0 1 1 -7.8 0M81.6 885.1a3.9 3.9 0 1 1 7.8 0a3.9 3.9 0 1 1 -7.8 0M83.5 884.2a3.9 3.9 0 1 1 7.8 0a3.9 3.9 0 1 1 -7.8 0M80.0 890.0a3.9 3.9 0 1 1 7.8 0a3.9 3.9 0 1 1 -7.8 0M83.2 888.4a3.9 3.9 0 1 1 7.8 0a3.9 3.9 0 1 1 -7.8 0M81.9 893.5a3.9 3.9 0 1 1 7.8 0a3.9 3.9 0 1 1 -7.8 0M83.3 892.6a3.9 3.9 0 1 1 7.8 0a3.9 3.9 0 1 1 -7.8 0M78.2 896.0a3.3 3.3 0 1 1 6.6 0a3.3 3.3 0 1 1 -6.6 0M81.7 896.4a3.3 3.3 0 1 1 6.6 0a3.3 3.3 0 1 1 -6.6 0M86.3 896.2a3.3 3.3 0 1 1 6.6 0a3.3 3.3 0 1 1 -6.6 0M90.1 895.7a3.3 3.3 0 1 1 6.6 0a3.3 3.3 0 1 1 -6.6 0M93.8 897.0a3.3 3.3 0 1 1 6.6 0a3.3 3.3 0 1 1 -6.6 0M99.2 896.5a3.3 3.3 0 1 1 6.6 0a3.3 3.3 0 1 1 -6.6 0M101.9 895.8a3.3 3.3 0 1 1 6.6 0a3.3 3.3 0 1 1 -6.6 0M105.9 896.0a3.3 3.3 0 1 1 6.6 0a3.3 3.3 0 1 1 -6.6 0M109.8 896.0a3.3 3.3 0 1 1 6.6 0a3.3 3.3 0 1 1 -6.6 0M114.1 895.8a3.3 3.3 0 1 1 6.6 0a3.3 3.3 0 1 1 -6.6 0M119.0 896.3a3.3 3.3 0 1 1 6.6 0a3.3 3.3 0 1 1 -6.6 0M122.6 896.1a3.3 3.3 0 1 1 6.6 0a3.3 3.3 0 1 1 -6.6 0M126.8 896.8a3.3 3.3 0 1 1 6.6 0a3.3 3.3 0 1 1 -6.6 0M130.3 895.6a3.3 3.3 0 1 1 6.6 0a3.3 3.3 0 1 1 -6.6 0M134.7 896.1a3.3 3.3 0 1 1 6.6 0a3.3 3.3 0 1 1 -6.6 0M139.3 895.7a3.3 3.3 0 1 1 6.6 0a3.3 3.3 0 1 1 -6.6 0M143.4 895.5a3.3 3.3 0 1 1 6.6 0a3.3 3.3 0 1 1 -6.6 0M146.8 896.3a3.3 3.3 0 1 1 6.6 0a3.3 3.3 0 1 1 -6.6 0M150.3 897.0a3.3 3.3 0 1 1 6.6 0a3.3 3.3 0 1 1 -6.6 0M155.1 895.8a3.3 3.3 0 1 1 6.6 0a3.3 3.3 0 1 1 -6.6 0M158.7 896.5a3.3 3.3 0 1 1 6.6 0a3.3 3.3 0 1 1 -6.6 0M161.8 895.6a3.3 3.3 0 1 1 6.6 0a3.3 3.3 0 1 1 -6.6 0M166.9 896.7a3.3 3.3 0 1 1 6.6 0a3.3 3.3 0 1 1 -6.6 0M170.6 896.2a3.3 3.3 0 1 1 6.6 0a3.3 3.3 0 1 1 -6.6 0M174.7 895.9a3.3 3.3 0 1 1 6.6 0a3.3 3.3 0 1 1 -6.6 0M179.5 897.1a3.3 3.3 0 1 1 6.6 0a3.3 3.3 0 1 1 -6.6 0M182.7 895.5a3.3 3.3 0 1 1 6.6 0a3.3 3.3 0 1 1 -6.6 0M186.5 896.9a3.3 3.3 0 1 1 6.6 0a3.3 3.3 0 1 1 -6.6 0M190.3 895.7a3.3 3.3 0 1 1 6.6 0a3.3 3.3 0 1 1 -6.6 0M194.1 896.7a3.3 3.3 0 1 1 6.6 0a3.3 3.3 0 1 1 -6.6 0M198.9 896.0a3.3 3.3 0 1 1 6.6 0a3.3 3.3 0 1 1 -6.6 0M202.9 896.8a3.3 3.3 0 1 1 6.6 0a3.3 3.3 0 1 1 -6.6 0M207.6 896.9a3.3 3.3 0 1 1 6.6 0a3.3 3.3 0 1 1 -6.6 0M210.6 896.9a3.3 3.3 0 1 1 6.6 0a3.3 3.3 0 1 1 -6.6 0M215.6 897.0a3.3 3.3 0 1 1 6.6 0a3.3 3.3 0 1 1 -6.6 0M219.2 896.5a3.3 3.3 0 1 1 6.6 0a3.3 3.3 0 1 1 -6.6 0M222.7 896.9a3.3 3.3 0 1 1 6.6 0a3.3 3.3 0 1 1 -6.6 0M227.0 896.7a3.3 3.3 0 1 1 6.6 0a3.3 3.3 0 1 1 -6.6 0M230.2 895.7a3.3 3.3 0 1 1 6.6 0a3.3 3.3 0 1 1 -6.6 0M234.2 896.5a3.3 3.3 0 1 1 6.6 0a3.3 3.3 0 1 1 -6.6 0M238.8 895.8a3.3 3.3 0 1 1 6.6 0a3.3 3.3 0 1 1 -6.6 0M242.1 897.1a3.3 3.3 0 1 1 6.6 0a3.3 3.3 0 1 1 -6.6 0M245.8 897.1a3.3 3.3 0 1 1 6.6 0a3.3 3.3 0 1 1 -6.6 0M251.2 896.5a3.3 3.3 0 1 1 6.6 0a3.3 3.3 0 1 1 -6.6 0M255.7 896.7a3.3 3.3 0 1 1 6.6 0a3.3 3.3 0 1 1 -6.6 0M257.7 897.1a3.3 3.3 0 1 1 6.6 0a3.3 3.3 0 1 1 -6.6 0M262.5 897.1a3.3 3.3 0 1 1 6.6 0a3.3 3.3 0 1 1 -6.6 0M267.3 895.7a3.3 3.3 0 1 1 6.6 0a3.3 3.3 0 1 1 -6.6 0M269.8 895.5a3.3 3.3 0 1 1 6.6 0a3.3 3.3 0 1 1 -6.6 0M275.3 896.8a3.3 3.3 0 1 1 6.6 0a3.3 3.3 0 1 1 -6.6 0M278.2 895.7a3.3 3.3 0 1 1 6.6 0a3.3 3.3 0 1 1 -6.6 0M282.4 896.9a3.3 3.3 0 1 1 6.6 0a3.3 3.3 0 1 1 -6.6 0M287.2 897.0a3.3 3.3 0 1 1 6.6 0a3.3 3.3 0 1 1 -6.6 0M291.6 896.8a3.3 3.3 0 1 1 6.6 0a3.3 3.3 0 1 1 -6.6 0M295.4 895.5a3.3 3.3 0 1 1 6.6 0a3.3 3.3 0 1 1 -6.6 0M297.7 897.0a3.3 3.3 0 1 1 6.6 0a3.3 3.3 0 1 1 -6.6 0M302.9 896.1a3.3 3.3 0 1 1 6.6 0a3.3 3.3 0 1 1 -6.6 0M306.0 896.1a3.3 3.3 0 1 1 6.6 0a3.3 3.3 0 1 1 -6.6 0M310.4 896.3a3.3 3.3 0 1 1 6.6 0a3.3 3.3 0 1 1 -6.6 0M314.6 895.8a3.3 3.3 0 1 1 6.6 0a3.3 3.3 0 1 1 -6.6 0M317.9 895.8a3.3 3.3 0 1 1 6.6 0a3.3 3.3 0 1 1 -6.6 0M322.0 895.7a3.3 3.3 0 1 1 6.6 0a3.3 3.3 0 1 1 -6.6 0M326.5 895.7a3.3 3.3 0 1 1 6.6 0a3.3 3.3 0 1 1 -6.6 0M331.3 896.4a3.3 3.3 0 1 1 6.6 0a3.3 3.3 0 1 1 -6.6 0M334.6 896.6a3.3 3.3 0 1 1 6.6 0a3.3 3.3 0 1 1 -6.6 0M338.2 895.5a3.3 3.3 0 1 1 6.6 0a3.3 3.3 0 1 1 -6.6 0M341.9 896.1a3.3 3.3 0 1 1 6.6 0a3.3 3.3 0 1 1 -6.6 0M346.4 895.9a3.3 3.3 0 1 1 6.6 0a3.3 3.3 0 1 1 -6.6 0M350.3 896.9a3.3 3.3 0 1 1 6.6 0a3.3 3.3 0 1 1 -6.6 0M353.7 896.3a3.3 3.3 0 1 1 6.6 0a3.3 3.3 0 1 1 -6.6 0M358.5 896.0a3.3 3.3 0 1 1 6.6 0a3.3 3.3 0 1 1 -6.6 0M363.1 895.9a3.3 3.3 0 1 1 6.6 0a3.3 3.3 0 1 1 -6.6 0M365.8 895.8a3.3 3.3 0 1 1 6.6 0a3.3 3.3 0 1 1 -6.6 0M371.7 896.1a3.3 3.3 0 1 1 6.6 0a3.3 3.3 0 1 1 -6.6 0M373.9 897.2a3.3 3.3 0 1 1 6.6 0a3.3 3.3 0 1 1 -6.6 0M379.0 897.1a3.3 3.3 0 1 1 6.6 0a3.3 3.3 0 1 1 -6.6 0M382.4 896.9a3.3 3.3 0 1 1 6.6 0a3.3 3.3 0 1 1 -6.6 0M385.8 895.9a3.3 3.3 0 1 1 6.6 0a3.3 3.3 0 1 1 -6.6 0M391.3 896.4a3.3 3.3 0 1 1 6.6 0a3.3 3.3 0 1 1 -6.6 0M395.3 896.2a3.3 3.3 0 1 1 6.6 0a3.3 3.3 0 1 1 -6.6 0M399.5 895.6a3.3 3.3 0 1 1 6.6 0a3.3 3.3 0 1 1 -6.6 0M402.9 895.8a3.3 3.3 0 1 1 6.6 0a3.3 3.3 0 1 1 -6.6 0M406.1 897.0a3.3 3.3 0 1 1 6.6 0a3.3 3.3 0 1 1 -6.6 0M410.6 896.9a3.3 3.3 0 1 1 6.6 0a3.3 3.3 0 1 1 -6.6 0M414.3 896.7a3.3 3.3 0 1 1 6.6 0a3.3 3.3 0 1 1 -6.6 0M419.5 896.6a3.3 3.3 0 1 1 6.6 0a3.3 3.3 0 1 1 -6.6 0M422.2 896.6a3.3 3.3 0 1 1 6.6 0a3.3 3.3 0 1 1 -6.6 0M427.6 896.9a3.3 3.3 0 1 1 6.6 0a3.3 3.3 0 1 1 -6.6 0M430.6 896.2a3.3 3.3 0 1 1 6.6 0a3.3 3.3 0 1 1 -6.6 0M433.9 896.8a3.3 3.3 0 1 1 6.6 0a3.3 3.3 0 1 1 -6.6 0M438.0 895.9a3.3 3.3 0 1 1 6.6 0a3.3 3.3 0 1 1 -6.6 0M441.8 895.8a3.3 3.3 0 1 1 6.6 0a3.3 3.3 0 1 1 -6.6 0M446.5 896.3a3.3 3.3 0 1 1 6.6 0a3.3 3.3 0 1 1 -6.6 0M450.1 896.2a3.3 3.3 0 1 1 6.6 0a3.3 3.3 0 1 1 -6.6 0M455.2 895.7a3.3 3.3 0 1 1 6.6 0a3.3 3.3 0 1 1 -6.6 0M458.0 896.4a3.3 3.3 0 1 1 6.6 0a3.3 3.3 0 1 1 -6.6 0M463.5 897.1a3.3 3.3 0 1 1 6.6 0a3.3 3.3 0 1 1 -6.6 0M466.8 895.7a3.3 3.3 0 1 1 6.6 0a3.3 3.3 0 1 1 -6.6 0M471.4 897.2a3.3 3.3 0 1 1 6.6 0a3.3 3.3 0 1 1 -6.6 0M475.5 896.4a3.3 3.3 0 1 1 6.6 0a3.3 3.3 0 1 1 -6.6 0M478.5 896.5a3.3 3.3 0 1 1 6.6 0a3.3 3.3 0 1 1 -6.6 0M483.3 897.2a3.3 3.3 0 1 1 6.6 0a3.3 3.3 0 1 1 -6.6 0M486.7 896.4a3.3 3.3 0 1 1 6.6 0a3.3 3.3 0 1 1 -6.6 0M490.3 896.4a3.3 3.3 0 1 1 6.6 0a3.3 3.3 0 1 1 -6.6 0M494.8 896.0a3.3 3.3 0 1 1 6.6 0a3.3 3.3 0 1 1 -6.6 0M498.6 897.1a3.3 3.3 0 1 1 6.6 0a3.3 3.3 0 1 1 -6.6 0M502.2 895.9a3.3 3.3 0 1 1 6.6 0a3.3 3.3 0 1 1 -6.6 0M506.3 897.0a3.3 3.3 0 1 1 6.6 0a3.3 3.3 0 1 1 -6.6 0M510.3 896.9a3.3 3.3 0 1 1 6.6 0a3.3 3.3 0 1 1 -6.6 0M515.6 897.0a3.3 3.3 0 1 1 6.6 0a3.3 3.3 0 1 1 -6.6 0M519.3 895.8a3.3 3.3 0 1 1 6.6 0a3.3 3.3 0 1 1 -6.6 0M522.6 896.9a3.3 3.3 0 1 1 6.6 0a3.3 3.3 0 1 1 -6.6 0M526.2 896.5a3.3 3.3 0 1 1 6.6 0a3.3 3.3 0 1 1 -6.6 0M531.4 897.1a3.3 3.3 0 1 1 6.6 0a3.3 3.3 0 1 1 -6.6 0M534.4 895.7a3.3 3.3 0 1 1 6.6 0a3.3 3.3 0 1 1 -6.6 0M537.8 896.0a3.3 3.3 0 1 1 6.6 0a3.3 3.3 0 1 1 -6.6 0M542.8 896.0a3.3 3.3 0 1 1 6.6 0a3.3 3.3 0 1 1 -6.6 0M547.3 896.6a3.3 3.3 0 1 1 6.6 0a3.3 3.3 0 1 1 -6.6 0M550.9 896.9a3.3 3.3 0 1 1 6.6 0a3.3 3.3 0 1 1 -6.6 0M554.4 896.6a3.3 3.3 0 1 1 6.6 0a3.3 3.3 0 1 1 -6.6 0M558.4 896.0a3.3 3.3 0 1 1 6.6 0a3.3 3.3 0 1 1 -6.6 0M561.9 896.8a3.3 3.3 0 1 1 6.6 0a3.3 3.3 0 1 1 -6.6 0M567.5 895.6a3.3 3.3 0 1 1 6.6 0a3.3 3.3 0 1 1 -6.6 0M571.1 895.6a3.3 3.3 0 1 1 6.6 0a3.3 3.3 0 1 1 -6.6 0M574.5 896.0a3.3 3.3 0 1 1 6.6 0a3.3 3.3 0 1 1 -6.6 0M579.5 896.2a3.3 3.3 0 1 1 6.6 0a3.3 3.3 0 1 1 -6.6 0M582.7 896.1a3.3 3.3 0 1 1 6.6 0a3.3 3.3 0 1 1 -6.6 0M586.2 895.9a3.3 3.3 0 1 1 6.6 0a3.3 3.3 0 1 1 -6.6 0M589.8 895.5a3.3 3.3 0 1 1 6.6 0a3.3 3.3 0 1 1 -6.6 0M594.8 896.8a3.3 3.3 0 1 1 6.6 0a3.3 3.3 0 1 1 -6.6 0M599.0 895.9a3.3 3.3 0 1 1 6.6 0a3.3 3.3 0 1 1 -6.6 0M603.7 895.6a3.3 3.3 0 1 1 6.6 0a3.3 3.3 0 1 1 -6.6 0M606.6 896.1a3.3 3.3 0 1 1 6.6 0a3.3 3.3 0 1 1 -6.6 0M610.1 897.1a3.3 3.3 0 1 1 6.6 0a3.3 3.3 0 1 1 -6.6 0M615.1 895.7a3.3 3.3 0 1 1 6.6 0a3.3 3.3 0 1 1 -6.6 0M618.1 896.9a3.3 3.3 0 1 1 6.6 0a3.3 3.3 0 1 1 -6.6 0M622.4 896.0a3.3 3.3 0 1 1 6.6 0a3.3 3.3 0 1 1 -6.6 0M626.3 896.1a3.3 3.3 0 1 1 6.6 0a3.3 3.3 0 1 1 -6.6 0M630.9 896.0a3.3 3.3 0 1 1 6.6 0a3.3 3.3 0 1 1 -6.6 0M634.9 895.6a3.3 3.3 0 1 1 6.6 0a3.3 3.3 0 1 1 -6.6 0M638.8 896.5a3.3 3.3 0 1 1 6.6 0a3.3 3.3 0 1 1 -6.6 0M642.3 897.0a3.3 3.3 0 1 1 6.6 0a3.3 3.3 0 1 1 -6.6 0M647.6 896.6a3.3 3.3 0 1 1 6.6 0a3.3 3.3 0 1 1 -6.6 0M650.5 895.8a3.3 3.3 0 1 1 6.6 0a3.3 3.3 0 1 1 -6.6 0M655.0 896.0a3.3 3.3 0 1 1 6.6 0a3.3 3.3 0 1 1 -6.6 0M658.0 896.4a3.3 3.3 0 1 1 6.6 0a3.3 3.3 0 1 1 -6.6 0M662.1 896.6a3.3 3.3 0 1 1 6.6 0a3.3 3.3 0 1 1 -6.6 0M667.2 895.5a3.3 3.3 0 1 1 6.6 0a3.3 3.3 0 1 1 -6.6 0M671.0 895.8a3.3 3.3 0 1 1 6.6 0a3.3 3.3 0 1 1 -6.6 0M674.4 896.7a3.3 3.3 0 1 1 6.6 0a3.3 3.3 0 1 1 -6.6 0M679.6 896.0a3.3 3.3 0 1 1 6.6 0a3.3 3.3 0 1 1 -6.6 0M683.2 896.1a3.3 3.3 0 1 1 6.6 0a3.3 3.3 0 1 1 -6.6 0M687.6 895.8a3.3 3.3 0 1 1 6.6 0a3.3 3.3 0 1 1 -6.6 0M691.0 895.6a3.3 3.3 0 1 1 6.6 0a3.3 3.3 0 1 1 -6.6 0M694.8 896.8a3.3 3.3 0 1 1 6.6 0a3.3 3.3 0 1 1 -6.6 0M699.5 896.8a3.3 3.3 0 1 1 6.6 0a3.3 3.3 0 1 1 -6.6 0M702.8 896.2a3.3 3.3 0 1 1 6.6 0a3.3 3.3 0 1 1 -6.6 0M707.0 896.6a3.3 3.3 0 1 1 6.6 0a3.3 3.3 0 1 1 -6.6 0M121.2 868.6a3.9 3.9 0 1 1 7.8 0a3.9 3.9 0 1 1 -7.8 0M123.2 874.1a3.9 3.9 0 1 1 7.8 0a3.9 3.9 0 1 1 -7.8 0M122.3 877.7a3.9 3.9 0 1 1 7.8 0a3.9 3.9 0 1 1 -7.8 0M120.8 881.9a3.9 3.9 0 1 1 7.8 0a3.9 3.9 0 1 1 -7.8 0M122.2 888.7a3.9 3.9 0 1 1 7.8 0a3.9 3.9 0 1 1 -7.8 0M125.4 865.0a3.9 3.9 0 1 1 7.8 0a3.9 3.9 0 1 1 -7.8 0M126.1 880.3a3.9 3.9 0 1 1 7.8 0a3.9 3.9 0 1 1 -7.8 0M128.8 881.7l4.9 8.7h-9.8zM131.7 868.9a3.9 3.9 0 1 1 7.8 0a3.9 3.9 0 1 1 -7.8 0M127.9 871.9a3.9 3.9 0 1 1 7.8 0a3.9 3.9 0 1 1 -7.8 0M130.6 884.5a3.9 3.9 0 1 1 7.8 0a3.9 3.9 0 1 1 -7.8 0M137.0 861.4l4.9 8.7h-9.8zM131.7 873.1a3.9 3.9 0 1 1 7.8 0a3.9 3.9 0 1 1 -7.8 0M132.2 880.4a3.9 3.9 0 1 1 7.8 0a3.9 3.9 0 1 1 -7.8 0M138.8 864.3a3.9 3.9 0 1 1 7.8 0a3.9 3.9 0 1 1 -7.8 0M136.9 874.8a3.9 3.9 0 1 1 7.8 0a3.9 3.9 0 1 1 -7.8 0M137.0 878.4a3.9 3.9 0 1 1 7.8 0a3.9 3.9 0 1 1 -7.8 0M135.9 883.2a3.9 3.9 0 1 1 7.8 0a3.9 3.9 0 1 1 -7.8 0M138.9 890.9a3.9 3.9 0 1 1 7.8 0a3.9 3.9 0 1 1 -7.8 0M143.7 865.6a3.9 3.9 0 1 1 7.8 0a3.9 3.9 0 1 1 -7.8 0M147.6 868.9l4.9 8.7h-9.8zM142.8 882.8a3.9 3.9 0 1 1 7.8 0a3.9 3.9 0 1 1 -7.8 0M146.8 882.8l4.9 8.7h-9.8zM141.3 892.5a3.9 3.9 0 1 1 7.8 0a3.9 3.9 0 1 1 -7.8 0M147.5 863.1a3.9 3.9 0 1 1 7.8 0a3.9 3.9 0 1 1 -7.8 0M147.1 872.4a3.9 3.9 0 1 1 7.8 0a3.9 3.9 0 1 1 -7.8 0M147.0 876.6a3.9 3.9 0 1 1 7.8 0a3.9 3.9 0 1 1 -7.8 0M146.3 886.1a3.9 3.9 0 1 1 7.8 0a3.9 3.9 0 1 1 -7.8 0M148.0 874.8a3.9 3.9 0 1 1 7.8 0a3.9 3.9 0 1 1 -7.8 0M151.7 880.0a3.9 3.9 0 1 1 7.8 0a3.9 3.9 0 1 1 -7.8 0M158.0 858.0l4.9 8.7h-9.8zM152.4 867.5a3.9 3.9 0 1 1 7.8 0a3.9 3.9 0 1 1 -7.8 0M151.1 891.6a3.9 3.9 0 1 1 7.8 0a3.9 3.9 0 1 1 -7.8 0M159.2 874.1a3.9 3.9 0 1 1 7.8 0a3.9 3.9 0 1 1 -7.8 0M158.8 883.8a3.9 3.9 0 1 1 7.8 0a3.9 3.9 0 1 1 -7.8 0M158.3 888.8a3.9 3.9 0 1 1 7.8 0a3.9 3.9 0 1 1 -7.8 0M161.1 862.7a3.9 3.9 0 1 1 7.8 0a3.9 3.9 0 1 1 -7.8 0M160.6 867.7a3.9 3.9 0 1 1 7.8 0a3.9 3.9 0 1 1 -7.8 0M166.7 868.1l4.9 8.7h-9.8zM162.2 876.7a3.9 3.9 0 1 1 7.8 0a3.9 3.9 0 1 1 -7.8 0M167.1 868.4l4.9 8.7h-9.8zM167.3 877.3a3.9 3.9 0 1 1 7.8 0a3.9 3.9 0 1 1 -7.8 0M166.9 883.9a3.9 3.9 0 1 1 7.8 0a3.9 3.9 0 1 1 -7.8 0M165.2 888.5a3.9 3.9 0 1 1 7.8 0a3.9 3.9 0 1 1 -7.8 0M172.4 862.1a3.9 3.9 0 1 1 7.8 0a3.9 3.9 0 1 1 -7.8 0M172.4 872.2a3.9 3.9 0 1 1 7.8 0a3.9 3.9 0 1 1 -7.8 0M176.1 887.1l4.9 8.7h-9.8zM175.9 864.4a3.9 3.9 0 1 1 7.8 0a3.9 3.9 0 1 1 -7.8 0M181.1 856.8l4.9 8.7h-9.8zM175.9 868.2a3.9 3.9 0 1 1 7.8 0a3.9 3.9 0 1 1 -7.8 0M182.3 873.0l4.9 8.7h-9.8zM184.1 863.5l4.9 8.7h-9.8zM183.0 874.9a3.9 3.9 0 1 1 7.8 0a3.9 3.9 0 1 1 -7.8 0M181.9 878.7a3.9 3.9 0 1 1 7.8 0a3.9 3.9 0 1 1 -7.8 0M184.6 866.5a3.9 3.9 0 1 1 7.8 0a3.9 3.9 0 1 1 -7.8 0M185.3 875.2a3.9 3.9 0 1 1 7.8 0a3.9 3.9 0 1 1 -7.8 0M186.1 887.9a3.9 3.9 0 1 1 7.8 0a3.9 3.9 0 1 1 -7.8 0M188.7 863.1a3.9 3.9 0 1 1 7.8 0a3.9 3.9 0 1 1 -7.8 0M189.2 874.5a3.9 3.9 0 1 1 7.8 0a3.9 3.9 0 1 1 -7.8 0M188.5 879.6a3.9 3.9 0 1 1 7.8 0a3.9 3.9 0 1 1 -7.8 0M192.1 862.5a3.9 3.9 0 1 1 7.8 0a3.9 3.9 0 1 1 -7.8 0M194.1 873.2a3.9 3.9 0 1 1 7.8 0a3.9 3.9 0 1 1 -7.8 0M198.1 886.4l4.9 8.7h-9.8zM196.5 862.4a3.9 3.9 0 1 1 7.8 0a3.9 3.9 0 1 1 -7.8 0M195.3 869.6a3.9 3.9 0 1 1 7.8 0a3.9 3.9 0 1 1 -7.8 0M196.4 882.0a3.9 3.9 0 1 1 7.8 0a3.9 3.9 0 1 1 -7.8 0M205.6 859.2l4.9 8.7h-9.8zM202.2 878.5a3.9 3.9 0 1 1 7.8 0a3.9 3.9 0 1 1 -7.8 0M202.3 882.0a3.9 3.9 0 1 1 7.8 0a3.9 3.9 0 1 1 -7.8 0M207.0 827.7a3.9 3.9 0 1 1 7.8 0a3.9 3.9 0 1 1 -7.8 0M211.3 827.3l4.9 8.7h-9.8zM211.5 828.7a3.9 3.9 0 1 1 7.8 0a3.9 3.9 0 1 1 -7.8 0M222.7 816.5l4.9 8.7h-9.8zM220.1 821.4l4.9 8.7h-9.8zM218.3 820.7a3.9 3.9 0 1 1 7.8 0a3.9 3.9 0 1 1 -7.8 0M223.2 826.3l4.9 8.7h-9.8zM223.3 826.9a3.9 3.9 0 1 1 7.8 0a3.9 3.9 0 1 1 -7.8 0M230.0 827.9l4.9 8.7h-9.8zM234.3 818.4l4.9 8.7h-9.8zM230.6 824.9a3.9 3.9 0 1 1 7.8 0a3.9 3.9 0 1 1 -7.8 0M237.3 827.3l4.9 8.7h-9.8zM241.5 821.6l4.9 8.7h-9.8zM241.3 826.2l4.9 8.7h-9.8zM243.9 817.8l4.9 8.7h-9.8zM242.0 828.1a3.9 3.9 0 1 1 7.8 0a3.9 3.9 0 1 1 -7.8 0M244.0 829.1l4.9 8.7h-9.8zM246.2 830.0a3.9 3.9 0 1 1 7.8 0a3.9 3.9 0 1 1 -7.8 0M247.3 823.2a3.9 3.9 0 1 1 7.8 0a3.9 3.9 0 1 1 -7.8 0M250.5 822.2l4.9 8.7h-9.8zM257.9 815.7l4.9 8.7h-9.8zM255.8 824.2l4.9 8.7h-9.8zM257.0 820.8a3.9 3.9 0 1 1 7.8 0a3.9 3.9 0 1 1 -7.8 0M258.0 822.4a3.9 3.9 0 1 1 7.8 0a3.9 3.9 0 1 1 -7.8 0M265.9 822.9l4.9 8.7h-9.8zM262.7 827.1l4.9 8.7h-9.8zM267.2 827.7l4.9 8.7h-9.8zM270.7 822.3l4.9 8.7h-9.8zM269.7 821.6a3.9 3.9 0 1 1 7.8 0a3.9 3.9 0 1 1 -7.8 0M271.9 828.2a3.9 3.9 0 1 1 7.8 0a3.9 3.9 0 1 1 -7.8 0M273.7 827.8l4.9 8.7h-9.8zM258.6 835.6a3.9 3.9 0 1 1 7.8 0a3.9 3.9 0 1 1 -7.8 0M267.2 831.2l4.9 8.7h-9.8zM273.7 824.8l4.9 8.7h-9.8zM272.0 829.8a3.9 3.9 0 1 1 7.8 0a3.9 3.9 0 1 1 -7.8 0M276.4 831.7l4.9 8.7h-9.8zM273.6 839.7a3.9 3.9 0 1 1 7.8 0a3.9 3.9 0 1 1 -7.8 0M283.3 825.1l4.9 8.7h-9.8zM279.1 832.9a3.9 3.9 0 1 1 7.8 0a3.9 3.9 0 1 1 -7.8 0M281.9 835.5l4.9 8.7h-9.8zM286.6 829.2l4.9 8.7h-9.8zM286.2 831.3l4.9 8.7h-9.8zM288.7 826.0l4.9 8.7h-9.8zM288.9 832.5l4.9 8.7h-9.8zM294.6 825.6l4.9 8.7h-9.8zM289.9 834.0a3.9 3.9 0 1 1 7.8 0a3.9 3.9 0 1 1 -7.8 0M202.7 852.9a3.9 3.9 0 1 1 7.8 0a3.9 3.9 0 1 1 -7.8 0M204.8 849.7l4.9 8.7h-9.8zM201.6 856.6a3.9 3.9 0 1 1 7.8 0a3.9 3.9 0 1 1 -7.8 0M202.9 851.5a3.9 3.9 0 1 1 7.8 0a3.9 3.9 0 1 1 -7.8 0M205.7 854.2a3.9 3.9 0 1 1 7.8 0a3.9 3.9 0 1 1 -7.8 0M208.9 851.4a3.9 3.9 0 1 1 7.8 0a3.9 3.9 0 1 1 -7.8 0M206.2 853.7a3.9 3.9 0 1 1 7.8 0a3.9 3.9 0 1 1 -7.8 0M208.7 854.0a3.9 3.9 0 1 1 7.8 0a3.9 3.9 0 1 1 -7.8 0M213.0 852.1l4.9 8.7h-9.8zM211.5 853.7a3.9 3.9 0 1 1 7.8 0a3.9 3.9 0 1 1 -7.8 0M212.7 855.2a3.9 3.9 0 1 1 7.8 0a3.9 3.9 0 1 1 -7.8 0M216.6 853.8a3.9 3.9 0 1 1 7.8 0a3.9 3.9 0 1 1 -7.8 0M218.1 856.1a3.9 3.9 0 1 1 7.8 0a3.9 3.9 0 1 1 -7.8 0M222.4 851.6a3.9 3.9 0 1 1 7.8 0a3.9 3.9 0 1 1 -7.8 0M220.3 853.9a3.9 3.9 0 1 1 7.8 0a3.9 3.9 0 1 1 -7.8 0M218.8 856.7a3.9 3.9 0 1 1 7.8 0a3.9 3.9 0 1 1 -7.8 0M223.0 853.3a3.9 3.9 0 1 1 7.8 0a3.9 3.9 0 1 1 -7.8 0M225.3 854.3a3.9 3.9 0 1 1 7.8 0a3.9 3.9 0 1 1 -7.8 0M228.1 851.8a3.9 3.9 0 1 1 7.8 0a3.9 3.9 0 1 1 -7.8 0M225.1 855.3a3.9 3.9 0 1 1 7.8 0a3.9 3.9 0 1 1 -7.8 0M228.6 853.6a3.9 3.9 0 1 1 7.8 0a3.9 3.9 0 1 1 -7.8 0M231.3 856.5a3.9 3.9 0 1 1 7.8 0a3.9 3.9 0 1 1 -7.8 0M236.1 849.5l4.9 8.7h-9.8zM234.2 856.9a3.9 3.9 0 1 1 7.8 0a3.9 3.9 0 1 1 -7.8 0M238.2 850.5a3.9 3.9 0 1 1 7.8 0a3.9 3.9 0 1 1 -7.8 0M239.4 850.5a3.9 3.9 0 1 1 7.8 0a3.9 3.9 0 1 1 -7.8 0M241.8 854.9a3.9 3.9 0 1 1 7.8 0a3.9 3.9 0 1 1 -7.8 0M243.4 850.7a3.9 3.9 0 1 1 7.8 0a3.9 3.9 0 1 1 -7.8 0M244.0 856.4a3.9 3.9 0 1 1 7.8 0a3.9 3.9 0 1 1 -7.8 0M244.2 853.7a3.9 3.9 0 1 1 7.8 0a3.9 3.9 0 1 1 -7.8 0M246.0 857.0a3.9 3.9 0 1 1 7.8 0a3.9 3.9 0 1 1 -7.8 0M248.0 851.3a3.9 3.9 0 1 1 7.8 0a3.9 3.9 0 1 1 -7.8 0M253.5 853.8a3.9 3.9 0 1 1 7.8 0a3.9 3.9 0 1 1 -7.8 0M250.3 855.4a3.9 3.9 0 1 1 7.8 0a3.9 3.9 0 1 1 -7.8 0M254.7 852.1a3.9 3.9 0 1 1 7.8 0a3.9 3.9 0 1 1 -7.8 0M254.5 854.6a3.9 3.9 0 1 1 7.8 0a3.9 3.9 0 1 1 -7.8 0M256.7 850.7a3.9 3.9 0 1 1 7.8 0a3.9 3.9 0 1 1 -7.8 0M257.9 854.3a3.9 3.9 0 1 1 7.8 0a3.9 3.9 0 1 1 -7.8 0M265.3 849.5l4.9 8.7h-9.8zM262.6 856.7a3.9 3.9 0 1 1 7.8 0a3.9 3.9 0 1 1 -7.8 0M270.8 849.0l4.9 8.7h-9.8zM264.0 854.6a3.9 3.9 0 1 1 7.8 0a3.9 3.9 0 1 1 -7.8 0M268.8 851.1a3.9 3.9 0 1 1 7.8 0a3.9 3.9 0 1 1 -7.8 0M270.1 856.2a3.9 3.9 0 1 1 7.8 0a3.9 3.9 0 1 1 -7.8 0M273.3 852.6a3.9 3.9 0 1 1 7.8 0a3.9 3.9 0 1 1 -7.8 0M271.5 854.6a3.9 3.9 0 1 1 7.8 0a3.9 3.9 0 1 1 -7.8 0M273.3 857.2a3.9 3.9 0 1 1 7.8 0a3.9 3.9 0 1 1 -7.8 0M273.7 854.7a3.9 3.9 0 1 1 7.8 0a3.9 3.9 0 1 1 -7.8 0M279.2 854.0a3.9 3.9 0 1 1 7.8 0a3.9 3.9 0 1 1 -7.8 0M279.9 856.0a3.9 3.9 0 1 1 7.8 0a3.9 3.9 0 1 1 -7.8 0M282.5 852.1a3.9 3.9 0 1 1 7.8 0a3.9 3.9 0 1 1 -7.8 0M281.2 854.8a3.9 3.9 0 1 1 7.8 0a3.9 3.9 0 1 1 -7.8 0M284.2 851.3a3.9 3.9 0 1 1 7.8 0a3.9 3.9 0 1 1 -7.8 0M284.2 856.3a3.9 3.9 0 1 1 7.8 0a3.9 3.9 0 1 1 -7.8 0M287.4 851.3a3.9 3.9 0 1 1 7.8 0a3.9 3.9 0 1 1 -7.8 0M285.9 857.5a3.9 3.9 0 1 1 7.8 0a3.9 3.9 0 1 1 -7.8 0M290.1 850.5a3.9 3.9 0 1 1 7.8 0a3.9 3.9 0 1 1 -7.8 0M294.0 856.1a3.9 3.9 0 1 1 7.8 0a3.9 3.9 0 1 1 -7.8 0M296.5 853.9a3.9 3.9 0 1 1 7.8 0a3.9 3.9 0 1 1 -7.8 0M293.7 857.4a3.9 3.9 0 1 1 7.8 0a3.9 3.9 0 1 1 -7.8 0M299.7 853.3a3.9 3.9 0 1 1 7.8 0a3.9 3.9 0 1 1 -7.8 0M297.3 855.1a3.9 3.9 0 1 1 7.8 0a3.9 3.9 0 1 1 -7.8 0M299.7 855.0a3.9 3.9 0 1 1 7.8 0a3.9 3.9 0 1 1 -7.8 0M305.6 851.9a3.9 3.9 0 1 1 7.8 0a3.9 3.9 0 1 1 -7.8 0M302.8 854.7a3.9 3.9 0 1 1 7.8 0a3.9 3.9 0 1 1 -7.8 0M309.0 853.4a3.9 3.9 0 1 1 7.8 0a3.9 3.9 0 1 1 -7.8 0M308.0 853.7a3.9 3.9 0 1 1 7.8 0a3.9 3.9 0 1 1 -7.8 0M309.1 852.1a3.9 3.9 0 1 1 7.8 0a3.9 3.9 0 1 1 -7.8 0M308.8 856.2a3.9 3.9 0 1 1 7.8 0a3.9 3.9 0 1 1 -7.8 0M311.6 852.4a3.9 3.9 0 1 1 7.8 0a3.9 3.9 0 1 1 -7.8 0M313.0 856.1a3.9 3.9 0 1 1 7.8 0a3.9 3.9 0 1 1 -7.8 0M194.0 870.9a3.9 3.9 0 1 1 7.8 0a3.9 3.9 0 1 1 -7.8 0M202.2 868.2l4.9 8.7h-9.8zM207.5 866.3l4.9 8.7h-9.8zM206.1 871.7a3.9 3.9 0 1 1 7.8 0a3.9 3.9 0 1 1 -7.8 0M208.3 872.8a3.9 3.9 0 1 1 7.8 0a3.9 3.9 0 1 1 -7.8 0M210.4 870.6a3.9 3.9 0 1 1 7.8 0a3.9 3.9 0 1 1 -7.8 0M213.9 870.2a3.9 3.9 0 1 1 7.8 0a3.9 3.9 0 1 1 -7.8 0M223.4 867.4l4.9 8.7h-9.8zM220.5 872.1a3.9 3.9 0 1 1 7.8 0a3.9 3.9 0 1 1 -7.8 0M223.9 872.8a3.9 3.9 0 1 1 7.8 0a3.9 3.9 0 1 1 -7.8 0M228.7 871.3a3.9 3.9 0 1 1 7.8 0a3.9 3.9 0 1 1 -7.8 0M230.5 871.4a3.9 3.9 0 1 1 7.8 0a3.9 3.9 0 1 1 -7.8 0M235.3 873.5a3.9 3.9 0 1 1 7.8 0a3.9 3.9 0 1 1 -7.8 0M237.3 871.0a3.9 3.9 0 1 1 7.8 0a3.9 3.9 0 1 1 -7.8 0M242.8 869.4l4.9 8.7h-9.8zM241.2 873.3a3.9 3.9 0 1 1 7.8 0a3.9 3.9 0 1 1 -7.8 0M248.4 873.0a3.9 3.9 0 1 1 7.8 0a3.9 3.9 0 1 1 -7.8 0M248.4 870.8a3.9 3.9 0 1 1 7.8 0a3.9 3.9 0 1 1 -7.8 0M256.0 871.7a3.9 3.9 0 1 1 7.8 0a3.9 3.9 0 1 1 -7.8 0M262.1 868.3l4.9 8.7h-9.8zM260.3 885.5a3.9 3.9 0 1 1 7.8 0a3.9 3.9 0 1 1 -7.8 0M264.8 865.4a3.9 3.9 0 1 1 7.8 0a3.9 3.9 0 1 1 -7.8 0M264.3 873.7a3.9 3.9 0 1 1 7.8 0a3.9 3.9 0 1 1 -7.8 0M267.1 875.6a3.9 3.9 0 1 1 7.8 0a3.9 3.9 0 1 1 -7.8 0M266.6 884.1a3.9 3.9 0 1 1 7.8 0a3.9 3.9 0 1 1 -7.8 0M269.0 860.3a3.9 3.9 0 1 1 7.8 0a3.9 3.9 0 1 1 -7.8 0M269.4 865.9a3.9 3.9 0 1 1 7.8 0a3.9 3.9 0 1 1 -7.8 0M267.3 872.4a3.9 3.9 0 1 1 7.8 0a3.9 3.9 0 1 1 -7.8 0M270.5 876.1a3.9 3.9 0 1 1 7.8 0a3.9 3.9 0 1 1 -7.8 0M271.1 878.3a3.9 3.9 0 1 1 7.8 0a3.9 3.9 0 1 1 -7.8 0M273.2 861.7a3.9 3.9 0 1 1 7.8 0a3.9 3.9 0 1 1 -7.8 0M274.1 873.3a3.9 3.9 0 1 1 7.8 0a3.9 3.9 0 1 1 -7.8 0M271.1 874.3a3.9 3.9 0 1 1 7.8 0a3.9 3.9 0 1 1 -7.8 0M274.9 879.2a3.9 3.9 0 1 1 7.8 0a3.9 3.9 0 1 1 -7.8 0M274.6 887.1a3.9 3.9 0 1 1 7.8 0a3.9 3.9 0 1 1 -7.8 0M277.4 861.4a3.9 3.9 0 1 1 7.8 0a3.9 3.9 0 1 1 -7.8 0M279.9 863.0l4.9 8.7h-9.8zM281.5 867.0l4.9 8.7h-9.8zM278.3 880.2a3.9 3.9 0 1 1 7.8 0a3.9 3.9 0 1 1 -7.8 0M279.8 883.5l4.9 8.7h-9.8zM280.0 861.6a3.9 3.9 0 1 1 7.8 0a3.9 3.9 0 1 1 -7.8 0M278.5 869.7a3.9 3.9 0 1 1 7.8 0a3.9 3.9 0 1 1 -7.8 0M283.6 870.6l4.9 8.7h-9.8zM279.9 877.2a3.9 3.9 0 1 1 7.8 0a3.9 3.9 0 1 1 -7.8 0M280.9 884.7a3.9 3.9 0 1 1 7.8 0a3.9 3.9 0 1 1 -7.8 0M285.9 871.5a3.9 3.9 0 1 1 7.8 0a3.9 3.9 0 1 1 -7.8 0M288.7 870.5l4.9 8.7h-9.8zM290.3 865.9a3.9 3.9 0 1 1 7.8 0a3.9 3.9 0 1 1 -7.8 0M289.1 878.5a3.9 3.9 0 1 1 7.8 0a3.9 3.9 0 1 1 -7.8 0M293.0 876.8l4.9 8.7h-9.8zM291.7 886.6a3.9 3.9 0 1 1 7.8 0a3.9 3.9 0 1 1 -7.8 0M291.5 862.1a3.9 3.9 0 1 1 7.8 0a3.9 3.9 0 1 1 -7.8 0M294.8 869.6a3.9 3.9 0 1 1 7.8 0a3.9 3.9 0 1 1 -7.8 0M303.9 859.3l4.9 8.7h-9.8zM298.2 872.3a3.9 3.9 0 1 1 7.8 0a3.9 3.9 0 1 1 -7.8 0M303.8 874.7l4.9 8.7h-9.8zM296.8 889.2a3.9 3.9 0 1 1 7.8 0a3.9 3.9 0 1 1 -7.8 0M305.6 876.7l4.9 8.7h-9.8zM306.9 860.2a3.9 3.9 0 1 1 7.8 0a3.9 3.9 0 1 1 -7.8 0M310.3 863.8a3.9 3.9 0 1 1 7.8 0a3.9 3.9 0 1 1 -7.8 0M311.7 867.8a3.9 3.9 0 1 1 7.8 0a3.9 3.9 0 1 1 -7.8 0M311.1 875.3a3.9 3.9 0 1 1 7.8 0a3.9 3.9 0 1 1 -7.8 0M311.6 880.5a3.9 3.9 0 1 1 7.8 0a3.9 3.9 0 1 1 -7.8 0M308.6 887.3a3.9 3.9 0 1 1 7.8 0a3.9 3.9 0 1 1 -7.8 0M310.2 889.0a3.9 3.9 0 1 1 7.8 0a3.9 3.9 0 1 1 -7.8 0M315.9 867.1a3.9 3.9 0 1 1 7.8 0a3.9 3.9 0 1 1 -7.8 0M319.9 873.2l4.9 8.7h-9.8zM314.1 882.8a3.9 3.9 0 1 1 7.8 0a3.9 3.9 0 1 1 -7.8 0M321.7 855.7l4.9 8.7h-9.8zM317.2 866.2a3.9 3.9 0 1 1 7.8 0a3.9 3.9 0 1 1 -7.8 0M318.0 875.8a3.9 3.9 0 1 1 7.8 0a3.9 3.9 0 1 1 -7.8 0M324.9 856.0l4.9 8.7h-9.8zM323.6 874.8a3.9 3.9 0 1 1 7.8 0a3.9 3.9 0 1 1 -7.8 0M325.6 867.2a3.9 3.9 0 1 1 7.8 0a3.9 3.9 0 1 1 -7.8 0M330.7 871.9l4.9 8.7h-9.8zM327.4 880.6a3.9 3.9 0 1 1 7.8 0a3.9 3.9 0 1 1 -7.8 0M324.1 888.4a3.9 3.9 0 1 1 7.8 0a3.9 3.9 0 1 1 -7.8 0M202.9 885.4a3.9 3.9 0 1 1 7.8 0a3.9 3.9 0 1 1 -7.8 0M202.8 888.5a3.9 3.9 0 1 1 7.8 0a3.9 3.9 0 1 1 -7.8 0M206.1 885.9a3.9 3.9 0 1 1 7.8 0a3.9 3.9 0 1 1 -7.8 0M209.0 884.1l4.9 8.7h-9.8zM214.6 883.9l4.9 8.7h-9.8zM222.1 880.2l4.9 8.7h-9.8zM221.8 885.3l4.9 8.7h-9.8zM224.8 884.6l4.9 8.7h-9.8zM226.7 886.7a3.9 3.9 0 1 1 7.8 0a3.9 3.9 0 1 1 -7.8 0M230.7 885.7l4.9 8.7h-9.8zM231.8 885.4a3.9 3.9 0 1 1 7.8 0a3.9 3.9 0 1 1 -7.8 0M235.8 890.0a3.9 3.9 0 1 1 7.8 0a3.9 3.9 0 1 1 -7.8 0M236.9 888.9a3.9 3.9 0 1 1 7.8 0a3.9 3.9 0 1 1 -7.8 0M244.6 886.0l4.9 8.7h-9.8zM247.8 888.4a3.9 3.9 0 1 1 7.8 0a3.9 3.9 0 1 1 -7.8 0M250.1 884.8a3.9 3.9 0 1 1 7.8 0a3.9 3.9 0 1 1 -7.8 0M251.4 890.3a3.9 3.9 0 1 1 7.8 0a3.9 3.9 0 1 1 -7.8 0M257.6 883.3a3.9 3.9 0 1 1 7.8 0a3.9 3.9 0 1 1 -7.8 0M253.8 890.6a3.9 3.9 0 1 1 7.8 0a3.9 3.9 0 1 1 -7.8 0M328.2 867.3a3.9 3.9 0 1 1 7.8 0a3.9 3.9 0 1 1 -7.8 0M324.7 871.6a3.9 3.9 0 1 1 7.8 0a3.9 3.9 0 1 1 -7.8 0M326.0 876.8a3.9 3.9 0 1 1 7.8 0a3.9 3.9 0 1 1 -7.8 0M325.6 881.9a3.9 3.9 0 1 1 7.8 0a3.9 3.9 0 1 1 -7.8 0M327.2 884.4a3.9 3.9 0 1 1 7.8 0a3.9 3.9 0 1 1 -7.8 0M332.1 885.3l4.9 8.7h-9.8zM331.0 868.3a3.9 3.9 0 1 1 7.8 0a3.9 3.9 0 1 1 -7.8 0M332.9 872.5a3.9 3.9 0 1 1 7.8 0a3.9 3.9 0 1 1 -7.8 0M328.7 876.9a3.9 3.9 0 1 1 7.8 0a3.9 3.9 0 1 1 -7.8 0M331.7 880.8a3.9 3.9 0 1 1 7.8 0a3.9 3.9 0 1 1 -7.8 0M334.4 875.4a3.9 3.9 0 1 1 7.8 0a3.9 3.9 0 1 1 -7.8 0M340.1 876.3l4.9 8.7h-9.8zM333.2 886.6a3.9 3.9 0 1 1 7.8 0a3.9 3.9 0 1 1 -7.8 0M338.5 872.3a3.9 3.9 0 1 1 7.8 0a3.9 3.9 0 1 1 -7.8 0M341.7 882.0l4.9 8.7h-9.8zM346.2 862.6l4.9 8.7h-9.8zM341.6 871.8a3.9 3.9 0 1 1 7.8 0a3.9 3.9 0 1 1 -7.8 0M341.3 876.5a3.9 3.9 0 1 1 7.8 0a3.9 3.9 0 1 1 -7.8 0M342.4 881.9a3.9 3.9 0 1 1 7.8 0a3.9 3.9 0 1 1 -7.8 0M340.3 887.6a3.9 3.9 0 1 1 7.8 0a3.9 3.9 0 1 1 -7.8 0M343.9 867.6a3.9 3.9 0 1 1 7.8 0a3.9 3.9 0 1 1 -7.8 0M345.7 871.6a3.9 3.9 0 1 1 7.8 0a3.9 3.9 0 1 1 -7.8 0M350.1 869.6a3.9 3.9 0 1 1 7.8 0a3.9 3.9 0 1 1 -7.8 0M348.0 873.1a3.9 3.9 0 1 1 7.8 0a3.9 3.9 0 1 1 -7.8 0M349.0 883.6a3.9 3.9 0 1 1 7.8 0a3.9 3.9 0 1 1 -7.8 0M355.6 865.1l4.9 8.7h-9.8zM356.7 872.7l4.9 8.7h-9.8zM355.6 876.5l4.9 8.7h-9.8zM355.9 883.9l4.9 8.7h-9.8zM355.8 872.3a3.9 3.9 0 1 1 7.8 0a3.9 3.9 0 1 1 -7.8 0M358.7 878.3a3.9 3.9 0 1 1 7.8 0a3.9 3.9 0 1 1 -7.8 0M355.0 880.6a3.9 3.9 0 1 1 7.8 0a3.9 3.9 0 1 1 -7.8 0M358.8 883.2a3.9 3.9 0 1 1 7.8 0a3.9 3.9 0 1 1 -7.8 0M362.3 883.7l4.9 8.7h-9.8zM360.2 868.7a3.9 3.9 0 1 1 7.8 0a3.9 3.9 0 1 1 -7.8 0M359.1 870.5a3.9 3.9 0 1 1 7.8 0a3.9 3.9 0 1 1 -7.8 0M359.8 878.8a3.9 3.9 0 1 1 7.8 0a3.9 3.9 0 1 1 -7.8 0M357.8 881.7a3.9 3.9 0 1 1 7.8 0a3.9 3.9 0 1 1 -7.8 0M361.1 888.9a3.9 3.9 0 1 1 7.8 0a3.9 3.9 0 1 1 -7.8 0M363.9 871.7a3.9 3.9 0 1 1 7.8 0a3.9 3.9 0 1 1 -7.8 0M366.5 874.3a3.9 3.9 0 1 1 7.8 0a3.9 3.9 0 1 1 -7.8 0M369.2 874.4l4.9 8.7h-9.8zM365.9 886.1a3.9 3.9 0 1 1 7.8 0a3.9 3.9 0 1 1 -7.8 0M370.1 867.3a3.9 3.9 0 1 1 7.8 0a3.9 3.9 0 1 1 -7.8 0M373.6 870.3l4.9 8.7h-9.8zM373.2 873.4l4.9 8.7h-9.8zM368.4 879.2a3.9 3.9 0 1 1 7.8 0a3.9 3.9 0 1 1 -7.8 0M373.8 883.4l4.9 8.7h-9.8zM374.0 867.3a3.9 3.9 0 1 1 7.8 0a3.9 3.9 0 1 1 -7.8 0M372.2 871.1a3.9 3.9 0 1 1 7.8 0a3.9 3.9 0 1 1 -7.8 0M371.4 880.8a3.9 3.9 0 1 1 7.8 0a3.9 3.9 0 1 1 -7.8 0M378.2 879.2l4.9 8.7h-9.8zM371.2 888.9a3.9 3.9 0 1 1 7.8 0a3.9 3.9 0 1 1 -7.8 0M379.5 864.9l4.9 8.7h-9.8zM375.6 872.5a3.9 3.9 0 1 1 7.8 0a3.9 3.9 0 1 1 -7.8 0M374.8 874.5a3.9 3.9 0 1 1 7.8 0a3.9 3.9 0 1 1 -7.8 0M377.5 880.3a3.9 3.9 0 1 1 7.8 0a3.9 3.9 0 1 1 -7.8 0M375.6 887.9a3.9 3.9 0 1 1 7.8 0a3.9 3.9 0 1 1 -7.8 0M384.5 876.8l4.9 8.7h-9.8zM381.3 872.8a3.9 3.9 0 1 1 7.8 0a3.9 3.9 0 1 1 -7.8 0M381.6 883.6a3.9 3.9 0 1 1 7.8 0a3.9 3.9 0 1 1 -7.8 0M391.9 869.0l4.9 8.7h-9.8zM386.1 881.3a3.9 3.9 0 1 1 7.8 0a3.9 3.9 0 1 1 -7.8 0M387.8 890.2a3.9 3.9 0 1 1 7.8 0a3.9 3.9 0 1 1 -7.8 0M388.6 871.4a3.9 3.9 0 1 1 7.8 0a3.9 3.9 0 1 1 -7.8 0M388.9 881.0a3.9 3.9 0 1 1 7.8 0a3.9 3.9 0 1 1 -7.8 0M396.6 883.8l4.9 8.7h-9.8zM390.9 892.1a3.9 3.9 0 1 1 7.8 0a3.9 3.9 0 1 1 -7.8 0M397.9 876.3l4.9 8.7h-9.8zM396.5 883.3a3.9 3.9 0 1 1 7.8 0a3.9 3.9 0 1 1 -7.8 0M396.5 889.3a3.9 3.9 0 1 1 7.8 0a3.9 3.9 0 1 1 -7.8 0M404.4 870.0l4.9 8.7h-9.8zM404.3 881.3l4.9 8.7h-9.8zM400.7 889.5a3.9 3.9 0 1 1 7.8 0a3.9 3.9 0 1 1 -7.8 0M406.1 871.9a3.9 3.9 0 1 1 7.8 0a3.9 3.9 0 1 1 -7.8 0M412.8 871.1a3.9 3.9 0 1 1 7.8 0a3.9 3.9 0 1 1 -7.8 0M411.5 876.6a3.9 3.9 0 1 1 7.8 0a3.9 3.9 0 1 1 -7.8 0M412.5 880.4a3.9 3.9 0 1 1 7.8 0a3.9 3.9 0 1 1 -7.8 0M409.6 884.1a3.9 3.9 0 1 1 7.8 0a3.9 3.9 0 1 1 -7.8 0M414.7 879.2a3.9 3.9 0 1 1 7.8 0a3.9 3.9 0 1 1 -7.8 0M415.3 889.6a3.9 3.9 0 1 1 7.8 0a3.9 3.9 0 1 1 -7.8 0M420.2 873.5a3.9 3.9 0 1 1 7.8 0a3.9 3.9 0 1 1 -7.8 0M420.3 877.1a3.9 3.9 0 1 1 7.8 0a3.9 3.9 0 1 1 -7.8 0M421.1 880.9a3.9 3.9 0 1 1 7.8 0a3.9 3.9 0 1 1 -7.8 0M419.4 885.0a3.9 3.9 0 1 1 7.8 0a3.9 3.9 0 1 1 -7.8 0M425.6 884.5l4.9 8.7h-9.8zM423.7 877.8a3.9 3.9 0 1 1 7.8 0a3.9 3.9 0 1 1 -7.8 0M424.8 881.5a3.9 3.9 0 1 1 7.8 0a3.9 3.9 0 1 1 -7.8 0M423.7 882.9a3.9 3.9 0 1 1 7.8 0a3.9 3.9 0 1 1 -7.8 0M422.8 888.2a3.9 3.9 0 1 1 7.8 0a3.9 3.9 0 1 1 -7.8 0M429.9 870.7a3.9 3.9 0 1 1 7.8 0a3.9 3.9 0 1 1 -7.8 0M429.6 878.8a3.9 3.9 0 1 1 7.8 0a3.9 3.9 0 1 1 -7.8 0M431.2 885.9a3.9 3.9 0 1 1 7.8 0a3.9 3.9 0 1 1 -7.8 0M432.0 882.5a3.9 3.9 0 1 1 7.8 0a3.9 3.9 0 1 1 -7.8 0M435.1 890.6a3.9 3.9 0 1 1 7.8 0a3.9 3.9 0 1 1 -7.8 0M422.8 847.5a3.9 3.9 0 1 1 7.8 0a3.9 3.9 0 1 1 -7.8 0M425.3 846.1l4.9 8.7h-9.8zM426.1 856.8l4.9 8.7h-9.8zM419.1 862.1a3.9 3.9 0 1 1 7.8 0a3.9 3.9 0 1 1 -7.8 0M419.7 871.0a3.9 3.9 0 1 1 7.8 0a3.9 3.9 0 1 1 -7.8 0M420.4 874.1a3.9 3.9 0 1 1 7.8 0a3.9 3.9 0 1 1 -7.8 0M418.9 877.9a3.9 3.9 0 1 1 7.8 0a3.9 3.9 0 1 1 -7.8 0M421.3 882.3a3.9 3.9 0 1 1 7.8 0a3.9 3.9 0 1 1 -7.8 0M424.8 884.3l4.9 8.7h-9.8zM424.2 887.9l4.9 8.7h-9.8zM429.9 846.1l4.9 8.7h-9.8zM427.6 857.1a3.9 3.9 0 1 1 7.8 0a3.9 3.9 0 1 1 -7.8 0M424.3 860.4a3.9 3.9 0 1 1 7.8 0a3.9 3.9 0 1 1 -7.8 0M424.2 864.0a3.9 3.9 0 1 1 7.8 0a3.9 3.9 0 1 1 -7.8 0M427.7 864.2l4.9 8.7h-9.8zM426.4 873.9a3.9 3.9 0 1 1 7.8 0a3.9 3.9 0 1 1 -7.8 0M427.8 872.6l4.9 8.7h-9.8zM431.0 876.2l4.9 8.7h-9.8zM429.0 881.3l4.9 8.7h-9.8zM431.3 887.0l4.9 8.7h-9.8zM432.2 844.9a3.9 3.9 0 1 1 7.8 0a3.9 3.9 0 1 1 -7.8 0M432.5 844.1l4.9 8.7h-9.8zM432.4 856.4a3.9 3.9 0 1 1 7.8 0a3.9 3.9 0 1 1 -7.8 0M428.4 857.6a3.9 3.9 0 1 1 7.8 0a3.9 3.9 0 1 1 -7.8 0M430.2 866.6a3.9 3.9 0 1 1 7.8 0a3.9 3.9 0 1 1 -7.8 0M428.9 872.7a3.9 3.9 0 1 1 7.8 0a3.9 3.9 0 1 1 -7.8 0M430.4 874.3a3.9 3.9 0 1 1 7.8 0a3.9 3.9 0 1 1 -7.8 0M430.1 878.8a3.9 3.9 0 1 1 7.8 0a3.9 3.9 0 1 1 -7.8 0M436.0 879.0l4.9 8.7h-9.8zM432.1 884.0l4.9 8.7h-9.8zM435.4 846.3a3.9 3.9 0 1 1 7.8 0a3.9 3.9 0 1 1 -7.8 0M433.1 851.4a3.9 3.9 0 1 1 7.8 0a3.9 3.9 0 1 1 -7.8 0M437.7 850.8l4.9 8.7h-9.8zM435.8 856.4a3.9 3.9 0 1 1 7.8 0a3.9 3.9 0 1 1 -7.8 0M434.4 864.4a3.9 3.9 0 1 1 7.8 0a3.9 3.9 0 1 1 -7.8 0M432.5 864.5a3.9 3.9 0 1 1 7.8 0a3.9 3.9 0 1 1 -7.8 0M434.8 869.2a3.9 3.9 0 1 1 7.8 0a3.9 3.9 0 1 1 -7.8 0M432.5 875.9a3.9 3.9 0 1 1 7.8 0a3.9 3.9 0 1 1 -7.8 0M433.6 880.5a3.9 3.9 0 1 1 7.8 0a3.9 3.9 0 1 1 -7.8 0M435.9 889.9a3.9 3.9 0 1 1 7.8 0a3.9 3.9 0 1 1 -7.8 0M441.0 840.0l4.9 8.7h-9.8zM436.6 851.8a3.9 3.9 0 1 1 7.8 0a3.9 3.9 0 1 1 -7.8 0M439.1 856.1a3.9 3.9 0 1 1 7.8 0a3.9 3.9 0 1 1 -7.8 0M440.7 857.4l4.9 8.7h-9.8zM438.7 864.8a3.9 3.9 0 1 1 7.8 0a3.9 3.9 0 1 1 -7.8 0M436.6 874.0a3.9 3.9 0 1 1 7.8 0a3.9 3.9 0 1 1 -7.8 0M443.2 872.7l4.9 8.7h-9.8zM439.2 881.9a3.9 3.9 0 1 1 7.8 0a3.9 3.9 0 1 1 -7.8 0M437.1 885.1a3.9 3.9 0 1 1 7.8 0a3.9 3.9 0 1 1 -7.8 0M443.2 884.8l4.9 8.7h-9.8zM441.5 846.6a3.9 3.9 0 1 1 7.8 0a3.9 3.9 0 1 1 -7.8 0M442.7 846.2l4.9 8.7h-9.8zM441.8 853.3a3.9 3.9 0 1 1 7.8 0a3.9 3.9 0 1 1 -7.8 0M442.1 858.4a3.9 3.9 0 1 1 7.8 0a3.9 3.9 0 1 1 -7.8 0M440.3 861.0a3.9 3.9 0 1 1 7.8 0a3.9 3.9 0 1 1 -7.8 0M440.7 870.5a3.9 3.9 0 1 1 7.8 0a3.9 3.9 0 1 1 -7.8 0M443.9 871.7l4.9 8.7h-9.8zM443.3 874.7l4.9 8.7h-9.8zM442.7 886.0a3.9 3.9 0 1 1 7.8 0a3.9 3.9 0 1 1 -7.8 0M444.6 885.0l4.9 8.7h-9.8zM443.5 854.7a3.9 3.9 0 1 1 7.8 0a3.9 3.9 0 1 1 -7.8 0M447.5 854.6l4.9 8.7h-9.8zM441.6 860.7a3.9 3.9 0 1 1 7.8 0a3.9 3.9 0 1 1 -7.8 0M449.7 859.7l4.9 8.7h-9.8zM442.1 873.0a3.9 3.9 0 1 1 7.8 0a3.9 3.9 0 1 1 -7.8 0M443.4 880.5a3.9 3.9 0 1 1 7.8 0a3.9 3.9 0 1 1 -7.8 0M449.6 882.5l4.9 8.7h-9.8zM445.9 844.9a3.9 3.9 0 1 1 7.8 0a3.9 3.9 0 1 1 -7.8 0M452.8 845.7l4.9 8.7h-9.8zM453.6 853.1l4.9 8.7h-9.8zM449.2 863.5a3.9 3.9 0 1 1 7.8 0a3.9 3.9 0 1 1 -7.8 0M448.0 871.4a3.9 3.9 0 1 1 7.8 0a3.9 3.9 0 1 1 -7.8 0M447.7 876.4a3.9 3.9 0 1 1 7.8 0a3.9 3.9 0 1 1 -7.8 0M448.5 879.7a3.9 3.9 0 1 1 7.8 0a3.9 3.9 0 1 1 -7.8 0M447.7 883.6a3.9 3.9 0 1 1 7.8 0a3.9 3.9 0 1 1 -7.8 0M449.3 885.8a3.9 3.9 0 1 1 7.8 0a3.9 3.9 0 1 1 -7.8 0M451.1 845.5a3.9 3.9 0 1 1 7.8 0a3.9 3.9 0 1 1 -7.8 0M452.8 849.3a3.9 3.9 0 1 1 7.8 0a3.9 3.9 0 1 1 -7.8 0M451.7 854.3a3.9 3.9 0 1 1 7.8 0a3.9 3.9 0 1 1 -7.8 0M450.8 859.7a3.9 3.9 0 1 1 7.8 0a3.9 3.9 0 1 1 -7.8 0M452.4 864.7a3.9 3.9 0 1 1 7.8 0a3.9 3.9 0 1 1 -7.8 0M451.4 869.4a3.9 3.9 0 1 1 7.8 0a3.9 3.9 0 1 1 -7.8 0M457.3 866.7l4.9 8.7h-9.8zM451.9 874.4a3.9 3.9 0 1 1 7.8 0a3.9 3.9 0 1 1 -7.8 0M453.6 880.7a3.9 3.9 0 1 1 7.8 0a3.9 3.9 0 1 1 -7.8 0M456.3 877.4l4.9 8.7h-9.8zM455.2 881.6l4.9 8.7h-9.8zM462.1 841.0l4.9 8.7h-9.8zM461.0 854.5l4.9 8.7h-9.8zM454.5 863.3a3.9 3.9 0 1 1 7.8 0a3.9 3.9 0 1 1 -7.8 0M455.4 864.2a3.9 3.9 0 1 1 7.8 0a3.9 3.9 0 1 1 -7.8 0M461.6 866.5l4.9 8.7h-9.8zM459.3 868.3l4.9 8.7h-9.8zM454.5 879.2a3.9 3.9 0 1 1 7.8 0a3.9 3.9 0 1 1 -7.8 0M457.9 887.8a3.9 3.9 0 1 1 7.8 0a3.9 3.9 0 1 1 -7.8 0M462.3 845.0a3.9 3.9 0 1 1 7.8 0a3.9 3.9 0 1 1 -7.8 0M459.1 850.7a3.9 3.9 0 1 1 7.8 0a3.9 3.9 0 1 1 -7.8 0M463.5 850.6l4.9 8.7h-9.8zM460.4 862.5a3.9 3.9 0 1 1 7.8 0a3.9 3.9 0 1 1 -7.8 0M464.5 868.3l4.9 8.7h-9.8zM464.2 871.8l4.9 8.7h-9.8zM459.6 880.4a3.9 3.9 0 1 1 7.8 0a3.9 3.9 0 1 1 -7.8 0M462.0 886.2a3.9 3.9 0 1 1 7.8 0a3.9 3.9 0 1 1 -7.8 0M459.7 890.0a3.9 3.9 0 1 1 7.8 0a3.9 3.9 0 1 1 -7.8 0M467.4 841.3l4.9 8.7h-9.8zM465.1 852.2a3.9 3.9 0 1 1 7.8 0a3.9 3.9 0 1 1 -7.8 0M464.9 858.1a3.9 3.9 0 1 1 7.8 0a3.9 3.9 0 1 1 -7.8 0M462.1 863.8a3.9 3.9 0 1 1 7.8 0a3.9 3.9 0 1 1 -7.8 0M469.4 861.5l4.9 8.7h-9.8zM461.8 870.8a3.9 3.9 0 1 1 7.8 0a3.9 3.9 0 1 1 -7.8 0M462.9 873.5a3.9 3.9 0 1 1 7.8 0a3.9 3.9 0 1 1 -7.8 0M467.5 874.2l4.9 8.7h-9.8zM465.8 857.9a3.9 3.9 0 1 1 7.8 0a3.9 3.9 0 1 1 -7.8 0M466.8 860.4a3.9 3.9 0 1 1 7.8 0a3.9 3.9 0 1 1 -7.8 0M465.3 871.1a3.9 3.9 0 1 1 7.8 0a3.9 3.9 0 1 1 -7.8 0M472.2 867.9l4.9 8.7h-9.8zM468.1 878.8a3.9 3.9 0 1 1 7.8 0a3.9 3.9 0 1 1 -7.8 0M471.0 878.6l4.9 8.7h-9.8zM467.9 883.9l4.9 8.7h-9.8zM469.0 857.7a3.9 3.9 0 1 1 7.8 0a3.9 3.9 0 1 1 -7.8 0M472.4 858.3l4.9 8.7h-9.8zM476.0 864.0l4.9 8.7h-9.8zM470.2 875.9a3.9 3.9 0 1 1 7.8 0a3.9 3.9 0 1 1 -7.8 0M472.5 876.5l4.9 8.7h-9.8zM471.1 884.9a3.9 3.9 0 1 1 7.8 0a3.9 3.9 0 1 1 -7.8 0M476.2 881.1l4.9 8.7h-9.8zM475.5 884.5l4.9 8.7h-9.8zM474.1 858.0a3.9 3.9 0 1 1 7.8 0a3.9 3.9 0 1 1 -7.8 0M477.6 856.2l4.9 8.7h-9.8zM476.8 859.7l4.9 8.7h-9.8zM478.7 863.9l4.9 8.7h-9.8zM472.4 875.8a3.9 3.9 0 1 1 7.8 0a3.9 3.9 0 1 1 -7.8 0M478.7 875.2l4.9 8.7h-9.8zM471.9 888.5a3.9 3.9 0 1 1 7.8 0a3.9 3.9 0 1 1 -7.8 0M478.9 886.5l4.9 8.7h-9.8zM483.7 851.8l4.9 8.7h-9.8zM479.2 861.4a3.9 3.9 0 1 1 7.8 0a3.9 3.9 0 1 1 -7.8 0M478.4 865.7a3.9 3.9 0 1 1 7.8 0a3.9 3.9 0 1 1 -7.8 0M482.0 865.3l4.9 8.7h-9.8zM479.0 877.8a3.9 3.9 0 1 1 7.8 0a3.9 3.9 0 1 1 -7.8 0M475.7 879.8a3.9 3.9 0 1 1 7.8 0a3.9 3.9 0 1 1 -7.8 0M482.6 878.6l4.9 8.7h-9.8zM480.4 884.4l4.9 8.7h-9.8zM482.4 857.5a3.9 3.9 0 1 1 7.8 0a3.9 3.9 0 1 1 -7.8 0M479.6 862.2a3.9 3.9 0 1 1 7.8 0a3.9 3.9 0 1 1 -7.8 0M479.5 865.5a3.9 3.9 0 1 1 7.8 0a3.9 3.9 0 1 1 -7.8 0M484.4 871.4l4.9 8.7h-9.8zM479.7 878.8a3.9 3.9 0 1 1 7.8 0a3.9 3.9 0 1 1 -7.8 0M481.0 885.9a3.9 3.9 0 1 1 7.8 0a3.9 3.9 0 1 1 -7.8 0M490.2 863.7l4.9 8.7h-9.8zM485.8 873.9a3.9 3.9 0 1 1 7.8 0a3.9 3.9 0 1 1 -7.8 0M491.5 871.0l4.9 8.7h-9.8zM490.3 876.7l4.9 8.7h-9.8zM485.8 885.2a3.9 3.9 0 1 1 7.8 0a3.9 3.9 0 1 1 -7.8 0M486.8 889.9a3.9 3.9 0 1 1 7.8 0a3.9 3.9 0 1 1 -7.8 0M488.8 864.4a3.9 3.9 0 1 1 7.8 0a3.9 3.9 0 1 1 -7.8 0M487.0 871.6a3.9 3.9 0 1 1 7.8 0a3.9 3.9 0 1 1 -7.8 0M490.0 874.5a3.9 3.9 0 1 1 7.8 0a3.9 3.9 0 1 1 -7.8 0M495.0 874.7l4.9 8.7h-9.8zM489.4 885.2a3.9 3.9 0 1 1 7.8 0a3.9 3.9 0 1 1 -7.8 0M488.1 889.2a3.9 3.9 0 1 1 7.8 0a3.9 3.9 0 1 1 -7.8 0M491.9 857.8a3.9 3.9 0 1 1 7.8 0a3.9 3.9 0 1 1 -7.8 0M491.1 860.6a3.9 3.9 0 1 1 7.8 0a3.9 3.9 0 1 1 -7.8 0M491.2 864.8a3.9 3.9 0 1 1 7.8 0a3.9 3.9 0 1 1 -7.8 0M492.4 869.6a3.9 3.9 0 1 1 7.8 0a3.9 3.9 0 1 1 -7.8 0M497.3 871.2l4.9 8.7h-9.8zM493.8 885.9a3.9 3.9 0 1 1 7.8 0a3.9 3.9 0 1 1 -7.8 0M500.7 875.1l4.9 8.7h-9.8zM497.1 880.9a3.9 3.9 0 1 1 7.8 0a3.9 3.9 0 1 1 -7.8 0M501.4 882.2l4.9 8.7h-9.8zM500.0 886.8l4.9 8.7h-9.8zM501.6 869.9a3.9 3.9 0 1 1 7.8 0a3.9 3.9 0 1 1 -7.8 0M502.7 870.4l4.9 8.7h-9.8zM504.5 873.7l4.9 8.7h-9.8zM506.5 882.7l4.9 8.7h-9.8zM504.6 871.0a3.9 3.9 0 1 1 7.8 0a3.9 3.9 0 1 1 -7.8 0M508.6 871.0l4.9 8.7h-9.8zM504.5 887.0a3.9 3.9 0 1 1 7.8 0a3.9 3.9 0 1 1 -7.8 0M503.7 888.7a3.9 3.9 0 1 1 7.8 0a3.9 3.9 0 1 1 -7.8 0M505.1 869.8a3.9 3.9 0 1 1 7.8 0a3.9 3.9 0 1 1 -7.8 0M505.5 877.2a3.9 3.9 0 1 1 7.8 0a3.9 3.9 0 1 1 -7.8 0M507.2 880.7a3.9 3.9 0 1 1 7.8 0a3.9 3.9 0 1 1 -7.8 0M505.5 888.4a3.9 3.9 0 1 1 7.8 0a3.9 3.9 0 1 1 -7.8 0M513.0 872.7l4.9 8.7h-9.8zM511.5 881.4a3.9 3.9 0 1 1 7.8 0a3.9 3.9 0 1 1 -7.8 0M513.4 881.4l4.9 8.7h-9.8zM511.1 889.3a3.9 3.9 0 1 1 7.8 0a3.9 3.9 0 1 1 -7.8 0M512.0 870.6a3.9 3.9 0 1 1 7.8 0a3.9 3.9 0 1 1 -7.8 0M511.7 873.0a3.9 3.9 0 1 1 7.8 0a3.9 3.9 0 1 1 -7.8 0M515.3 877.0a3.9 3.9 0 1 1 7.8 0a3.9 3.9 0 1 1 -7.8 0M513.8 888.2a3.9 3.9 0 1 1 7.8 0a3.9 3.9 0 1 1 -7.8 0M516.5 884.8l4.9 8.7h-9.8zM516.8 871.5a3.9 3.9 0 1 1 7.8 0a3.9 3.9 0 1 1 -7.8 0M520.9 870.7l4.9 8.7h-9.8zM517.1 879.7a3.9 3.9 0 1 1 7.8 0a3.9 3.9 0 1 1 -7.8 0M520.8 881.7l4.9 8.7h-9.8zM518.1 887.3a3.9 3.9 0 1 1 7.8 0a3.9 3.9 0 1 1 -7.8 0M520.4 872.2a3.9 3.9 0 1 1 7.8 0a3.9 3.9 0 1 1 -7.8 0M527.0 873.9l4.9 8.7h-9.8zM525.5 881.3l4.9 8.7h-9.8zM522.7 886.9a3.9 3.9 0 1 1 7.8 0a3.9 3.9 0 1 1 -7.8 0M525.3 871.9a3.9 3.9 0 1 1 7.8 0a3.9 3.9 0 1 1 -7.8 0M528.2 870.9l4.9 8.7h-9.8zM525.5 880.8a3.9 3.9 0 1 1 7.8 0a3.9 3.9 0 1 1 -7.8 0M526.6 881.5a3.9 3.9 0 1 1 7.8 0a3.9 3.9 0 1 1 -7.8 0M524.7 888.6a3.9 3.9 0 1 1 7.8 0a3.9 3.9 0 1 1 -7.8 0M536.2 868.6l4.9 8.7h-9.8zM535.8 870.1l4.9 8.7h-9.8zM530.2 878.9a3.9 3.9 0 1 1 7.8 0a3.9 3.9 0 1 1 -7.8 0M532.7 880.5l4.9 8.7h-9.8zM532.0 882.5l4.9 8.7h-9.8zM535.9 871.1a3.9 3.9 0 1 1 7.8 0a3.9 3.9 0 1 1 -7.8 0M537.8 871.6l4.9 8.7h-9.8zM535.0 880.6a3.9 3.9 0 1 1 7.8 0a3.9 3.9 0 1 1 -7.8 0M539.2 883.5l4.9 8.7h-9.8zM536.9 872.5a3.9 3.9 0 1 1 7.8 0a3.9 3.9 0 1 1 -7.8 0M540.6 872.9a3.9 3.9 0 1 1 7.8 0a3.9 3.9 0 1 1 -7.8 0M539.3 876.9a3.9 3.9 0 1 1 7.8 0a3.9 3.9 0 1 1 -7.8 0M543.5 879.1l4.9 8.7h-9.8zM539.5 886.8a3.9 3.9 0 1 1 7.8 0a3.9 3.9 0 1 1 -7.8 0M548.1 868.4l4.9 8.7h-9.8zM540.1 876.7a3.9 3.9 0 1 1 7.8 0a3.9 3.9 0 1 1 -7.8 0M542.1 881.2a3.9 3.9 0 1 1 7.8 0a3.9 3.9 0 1 1 -7.8 0M541.7 885.7a3.9 3.9 0 1 1 7.8 0a3.9 3.9 0 1 1 -7.8 0M546.1 875.8a3.9 3.9 0 1 1 7.8 0a3.9 3.9 0 1 1 -7.8 0M545.7 882.2a3.9 3.9 0 1 1 7.8 0a3.9 3.9 0 1 1 -7.8 0M548.3 885.1l4.9 8.7h-9.8zM554.6 866.8l4.9 8.7h-9.8zM555.2 871.7l4.9 8.7h-9.8zM552.4 878.7a3.9 3.9 0 1 1 7.8 0a3.9 3.9 0 1 1 -7.8 0M554.2 884.4l4.9 8.7h-9.8zM551.9 869.6a3.9 3.9 0 1 1 7.8 0a3.9 3.9 0 1 1 -7.8 0M555.9 871.7l4.9 8.7h-9.8zM555.8 873.7l4.9 8.7h-9.8zM556.2 876.4l4.9 8.7h-9.8zM556.3 882.1l4.9 8.7h-9.8zM553.1 889.5a3.9 3.9 0 1 1 7.8 0a3.9 3.9 0 1 1 -7.8 0M559.1 868.4l4.9 8.7h-9.8zM560.4 877.1l4.9 8.7h-9.8zM560.1 880.6l4.9 8.7h-9.8zM558.5 885.7a3.9 3.9 0 1 1 7.8 0a3.9 3.9 0 1 1 -7.8 0M562.8 864.9l4.9 8.7h-9.8zM559.3 876.4a3.9 3.9 0 1 1 7.8 0a3.9 3.9 0 1 1 -7.8 0M561.8 885.0l4.9 8.7h-9.8zM563.3 870.5a3.9 3.9 0 1 1 7.8 0a3.9 3.9 0 1 1 -7.8 0M563.9 874.5a3.9 3.9 0 1 1 7.8 0a3.9 3.9 0 1 1 -7.8 0M564.8 877.5a3.9 3.9 0 1 1 7.8 0a3.9 3.9 0 1 1 -7.8 0M569.1 883.7l4.9 8.7h-9.8zM568.0 872.8a3.9 3.9 0 1 1 7.8 0a3.9 3.9 0 1 1 -7.8 0M569.3 871.1l4.9 8.7h-9.8zM569.0 875.9a3.9 3.9 0 1 1 7.8 0a3.9 3.9 0 1 1 -7.8 0M569.3 877.7l4.9 8.7h-9.8zM566.4 885.8a3.9 3.9 0 1 1 7.8 0a3.9 3.9 0 1 1 -7.8 0M565.6 889.6a3.9 3.9 0 1 1 7.8 0a3.9 3.9 0 1 1 -7.8 0M571.9 872.5a3.9 3.9 0 1 1 7.8 0a3.9 3.9 0 1 1 -7.8 0M568.0 875.3a3.9 3.9 0 1 1 7.8 0a3.9 3.9 0 1 1 -7.8 0M569.8 877.8a3.9 3.9 0 1 1 7.8 0a3.9 3.9 0 1 1 -7.8 0M570.2 884.7a3.9 3.9 0 1 1 7.8 0a3.9 3.9 0 1 1 -7.8 0M570.7 888.2a3.9 3.9 0 1 1 7.8 0a3.9 3.9 0 1 1 -7.8 0M574.5 871.3a3.9 3.9 0 1 1 7.8 0a3.9 3.9 0 1 1 -7.8 0M571.3 877.1a3.9 3.9 0 1 1 7.8 0a3.9 3.9 0 1 1 -7.8 0M577.5 876.2l4.9 8.7h-9.8zM576.3 878.0l4.9 8.7h-9.8zM573.4 888.0a3.9 3.9 0 1 1 7.8 0a3.9 3.9 0 1 1 -7.8 0M575.5 869.3a3.9 3.9 0 1 1 7.8 0a3.9 3.9 0 1 1 -7.8 0M580.9 874.5l4.9 8.7h-9.8zM581.0 878.9l4.9 8.7h-9.8zM583.2 883.7l4.9 8.7h-9.8zM584.8 865.7l4.9 8.7h-9.8zM583.1 870.8l4.9 8.7h-9.8zM582.2 880.8a3.9 3.9 0 1 1 7.8 0a3.9 3.9 0 1 1 -7.8 0M579.6 883.9a3.9 3.9 0 1 1 7.8 0a3.9 3.9 0 1 1 -7.8 0M579.2 887.3a3.9 3.9 0 1 1 7.8 0a3.9 3.9 0 1 1 -7.8 0M578.9 892.2a3.9 3.9 0 1 1 7.8 0a3.9 3.9 0 1 1 -7.8 0M585.1 869.5a3.9 3.9 0 1 1 7.8 0a3.9 3.9 0 1 1 -7.8 0M589.4 871.4l4.9 8.7h-9.8zM583.0 877.7a3.9 3.9 0 1 1 7.8 0a3.9 3.9 0 1 1 -7.8 0M586.5 885.2l4.9 8.7h-9.8zM590.4 865.3l4.9 8.7h-9.8zM588.8 873.4a3.9 3.9 0 1 1 7.8 0a3.9 3.9 0 1 1 -7.8 0M591.1 876.6l4.9 8.7h-9.8zM586.7 882.1a3.9 3.9 0 1 1 7.8 0a3.9 3.9 0 1 1 -7.8 0M585.8 888.3a3.9 3.9 0 1 1 7.8 0a3.9 3.9 0 1 1 -7.8 0M596.3 865.3l4.9 8.7h-9.8zM592.7 880.3a3.9 3.9 0 1 1 7.8 0a3.9 3.9 0 1 1 -7.8 0M590.6 884.1a3.9 3.9 0 1 1 7.8 0a3.9 3.9 0 1 1 -7.8 0M593.7 881.4l4.9 8.7h-9.8zM597.6 865.2l4.9 8.7h-9.8zM599.8 868.2l4.9 8.7h-9.8zM596.9 873.0l4.9 8.7h-9.8zM595.3 884.6a3.9 3.9 0 1 1 7.8 0a3.9 3.9 0 1 1 -7.8 0M599.2 884.8l4.9 8.7h-9.8zM596.9 877.8a3.9 3.9 0 1 1 7.8 0a3.9 3.9 0 1 1 -7.8 0M596.8 879.0a3.9 3.9 0 1 1 7.8 0a3.9 3.9 0 1 1 -7.8 0M598.6 879.9l4.9 8.7h-9.8zM601.0 883.0l4.9 8.7h-9.8zM600.5 877.4a3.9 3.9 0 1 1 7.8 0a3.9 3.9 0 1 1 -7.8 0M600.2 880.0a3.9 3.9 0 1 1 7.8 0a3.9 3.9 0 1 1 -7.8 0M601.8 883.9a3.9 3.9 0 1 1 7.8 0a3.9 3.9 0 1 1 -7.8 0M604.2 886.4l4.9 8.7h-9.8zM607.5 872.7l4.9 8.7h-9.8zM606.2 882.0a3.9 3.9 0 1 1 7.8 0a3.9 3.9 0 1 1 -7.8 0M606.6 890.2a3.9 3.9 0 1 1 7.8 0a3.9 3.9 0 1 1 -7.8 0M606.7 874.3a3.9 3.9 0 1 1 7.8 0a3.9 3.9 0 1 1 -7.8 0M606.8 884.2a3.9 3.9 0 1 1 7.8 0a3.9 3.9 0 1 1 -7.8 0M611.0 882.5l4.9 8.7h-9.8zM613.3 877.1l4.9 8.7h-9.8zM613.4 884.9a3.9 3.9 0 1 1 7.8 0a3.9 3.9 0 1 1 -7.8 0M614.7 874.9a3.9 3.9 0 1 1 7.8 0a3.9 3.9 0 1 1 -7.8 0M619.3 875.0l4.9 8.7h-9.8zM619.1 883.9l4.9 8.7h-9.8zM620.1 878.1a3.9 3.9 0 1 1 7.8 0a3.9 3.9 0 1 1 -7.8 0M624.0 877.6a3.9 3.9 0 1 1 7.8 0a3.9 3.9 0 1 1 -7.8 0M628.4 877.3l4.9 8.7h-9.8zM627.4 881.8l4.9 8.7h-9.8zM624.6 889.2a3.9 3.9 0 1 1 7.8 0a3.9 3.9 0 1 1 -7.8 0M626.2 875.6a3.9 3.9 0 1 1 7.8 0a3.9 3.9 0 1 1 -7.8 0M628.9 877.2l4.9 8.7h-9.8zM624.8 883.5a3.9 3.9 0 1 1 7.8 0a3.9 3.9 0 1 1 -7.8 0M625.0 888.8a3.9 3.9 0 1 1 7.8 0a3.9 3.9 0 1 1 -7.8 0M627.5 875.2a3.9 3.9 0 1 1 7.8 0a3.9 3.9 0 1 1 -7.8 0M628.2 878.0a3.9 3.9 0 1 1 7.8 0a3.9 3.9 0 1 1 -7.8 0M630.6 883.8a3.9 3.9 0 1 1 7.8 0a3.9 3.9 0 1 1 -7.8 0M627.1 888.4a3.9 3.9 0 1 1 7.8 0a3.9 3.9 0 1 1 -7.8 0M630.9 874.2a3.9 3.9 0 1 1 7.8 0a3.9 3.9 0 1 1 -7.8 0M632.2 880.5a3.9 3.9 0 1 1 7.8 0a3.9 3.9 0 1 1 -7.8 0M633.2 883.5a3.9 3.9 0 1 1 7.8 0a3.9 3.9 0 1 1 -7.8 0M634.0 889.5a3.9 3.9 0 1 1 7.8 0a3.9 3.9 0 1 1 -7.8 0M635.6 878.0a3.9 3.9 0 1 1 7.8 0a3.9 3.9 0 1 1 -7.8 0M636.9 885.1a3.9 3.9 0 1 1 7.8 0a3.9 3.9 0 1 1 -7.8 0M635.2 888.0a3.9 3.9 0 1 1 7.8 0a3.9 3.9 0 1 1 -7.8 0M639.4 874.0a3.9 3.9 0 1 1 7.8 0a3.9 3.9 0 1 1 -7.8 0M638.1 880.7a3.9 3.9 0 1 1 7.8 0a3.9 3.9 0 1 1 -7.8 0M639.6 884.8a3.9 3.9 0 1 1 7.8 0a3.9 3.9 0 1 1 -7.8 0M639.9 888.5a3.9 3.9 0 1 1 7.8 0a3.9 3.9 0 1 1 -7.8 0M644.9 877.2l4.9 8.7h-9.8zM642.3 888.3a3.9 3.9 0 1 1 7.8 0a3.9 3.9 0 1 1 -7.8 0M646.4 875.7a3.9 3.9 0 1 1 7.8 0a3.9 3.9 0 1 1 -7.8 0M644.1 879.9a3.9 3.9 0 1 1 7.8 0a3.9 3.9 0 1 1 -7.8 0M646.1 884.1a3.9 3.9 0 1 1 7.8 0a3.9 3.9 0 1 1 -7.8 0M649.4 883.2l4.9 8.7h-9.8zM651.7 872.4l4.9 8.7h-9.8zM648.5 880.6a3.9 3.9 0 1 1 7.8 0a3.9 3.9 0 1 1 -7.8 0M650.2 884.0a3.9 3.9 0 1 1 7.8 0a3.9 3.9 0 1 1 -7.8 0M647.9 888.2a3.9 3.9 0 1 1 7.8 0a3.9 3.9 0 1 1 -7.8 0M652.6 876.1a3.9 3.9 0 1 1 7.8 0a3.9 3.9 0 1 1 -7.8 0M657.2 875.0l4.9 8.7h-9.8zM656.9 880.7l4.9 8.7h-9.8zM653.0 886.6a3.9 3.9 0 1 1 7.8 0a3.9 3.9 0 1 1 -7.8 0M655.3 877.3a3.9 3.9 0 1 1 7.8 0a3.9 3.9 0 1 1 -7.8 0M659.2 875.0l4.9 8.7h-9.8zM657.3 885.1a3.9 3.9 0 1 1 7.8 0a3.9 3.9 0 1 1 -7.8 0M659.1 885.1l4.9 8.7h-9.8zM660.8 874.5a3.9 3.9 0 1 1 7.8 0a3.9 3.9 0 1 1 -7.8 0M658.8 881.4a3.9 3.9 0 1 1 7.8 0a3.9 3.9 0 1 1 -7.8 0M659.5 883.9a3.9 3.9 0 1 1 7.8 0a3.9 3.9 0 1 1 -7.8 0M666.3 876.8a3.9 3.9 0 1 1 7.8 0a3.9 3.9 0 1 1 -7.8 0M666.9 884.6l4.9 8.7h-9.8zM666.3 870.1a3.9 3.9 0 1 1 7.8 0a3.9 3.9 0 1 1 -7.8 0M665.5 874.4a3.9 3.9 0 1 1 7.8 0a3.9 3.9 0 1 1 -7.8 0M666.2 877.3a3.9 3.9 0 1 1 7.8 0a3.9 3.9 0 1 1 -7.8 0M665.6 887.9a3.9 3.9 0 1 1 7.8 0a3.9 3.9 0 1 1 -7.8 0M665.8 888.8a3.9 3.9 0 1 1 7.8 0a3.9 3.9 0 1 1 -7.8 0M673.0 857.8l4.9 8.7h-9.8zM668.6 867.9a3.9 3.9 0 1 1 7.8 0a3.9 3.9 0 1 1 -7.8 0M669.5 881.0a3.9 3.9 0 1 1 7.8 0a3.9 3.9 0 1 1 -7.8 0M674.9 881.9l4.9 8.7h-9.8zM674.1 867.4a3.9 3.9 0 1 1 7.8 0a3.9 3.9 0 1 1 -7.8 0M674.7 872.4a3.9 3.9 0 1 1 7.8 0a3.9 3.9 0 1 1 -7.8 0M677.2 872.7l4.9 8.7h-9.8zM671.8 880.9a3.9 3.9 0 1 1 7.8 0a3.9 3.9 0 1 1 -7.8 0M673.8 891.2a3.9 3.9 0 1 1 7.8 0a3.9 3.9 0 1 1 -7.8 0M679.1 859.4l4.9 8.7h-9.8zM675.6 864.0a3.9 3.9 0 1 1 7.8 0a3.9 3.9 0 1 1 -7.8 0M675.0 878.2a3.9 3.9 0 1 1 7.8 0a3.9 3.9 0 1 1 -7.8 0M678.3 882.4a3.9 3.9 0 1 1 7.8 0a3.9 3.9 0 1 1 -7.8 0M677.4 884.9a3.9 3.9 0 1 1 7.8 0a3.9 3.9 0 1 1 -7.8 0M681.1 863.0a3.9 3.9 0 1 1 7.8 0a3.9 3.9 0 1 1 -7.8 0M678.8 867.2a3.9 3.9 0 1 1 7.8 0a3.9 3.9 0 1 1 -7.8 0M680.9 869.2a3.9 3.9 0 1 1 7.8 0a3.9 3.9 0 1 1 -7.8 0M679.8 876.3a3.9 3.9 0 1 1 7.8 0a3.9 3.9 0 1 1 -7.8 0M680.8 879.0a3.9 3.9 0 1 1 7.8 0a3.9 3.9 0 1 1 -7.8 0M679.0 884.2a3.9 3.9 0 1 1 7.8 0a3.9 3.9 0 1 1 -7.8 0M682.3 888.0a3.9 3.9 0 1 1 7.8 0a3.9 3.9 0 1 1 -7.8 0M683.0 885.3l4.9 8.7h-9.8zM685.0 863.6a3.9 3.9 0 1 1 7.8 0a3.9 3.9 0 1 1 -7.8 0M683.8 864.5a3.9 3.9 0 1 1 7.8 0a3.9 3.9 0 1 1 -7.8 0M685.7 868.4a3.9 3.9 0 1 1 7.8 0a3.9 3.9 0 1 1 -7.8 0M684.9 876.9a3.9 3.9 0 1 1 7.8 0a3.9 3.9 0 1 1 -7.8 0M684.6 882.0a3.9 3.9 0 1 1 7.8 0a3.9 3.9 0 1 1 -7.8 0M685.6 879.9l4.9 8.7h-9.8zM689.1 886.7l4.9 8.7h-9.8zM693.9 857.9l4.9 8.7h-9.8zM689.0 864.0a3.9 3.9 0 1 1 7.8 0a3.9 3.9 0 1 1 -7.8 0M688.8 870.5a3.9 3.9 0 1 1 7.8 0a3.9 3.9 0 1 1 -7.8 0M686.9 874.8a3.9 3.9 0 1 1 7.8 0a3.9 3.9 0 1 1 -7.8 0M691.3 871.7l4.9 8.7h-9.8zM689.1 880.2a3.9 3.9 0 1 1 7.8 0a3.9 3.9 0 1 1 -7.8 0M691.8 881.7l4.9 8.7h-9.8zM690.0 887.5a3.9 3.9 0 1 1 7.8 0a3.9 3.9 0 1 1 -7.8 0M690.5 863.4a3.9 3.9 0 1 1 7.8 0a3.9 3.9 0 1 1 -7.8 0M690.9 865.8a3.9 3.9 0 1 1 7.8 0a3.9 3.9 0 1 1 -7.8 0M692.9 872.4a3.9 3.9 0 1 1 7.8 0a3.9 3.9 0 1 1 -7.8 0M690.5 879.6a3.9 3.9 0 1 1 7.8 0a3.9 3.9 0 1 1 -7.8 0M694.6 878.6l4.9 8.7h-9.8zM695.2 861.0a3.9 3.9 0 1 1 7.8 0a3.9 3.9 0 1 1 -7.8 0M695.2 865.9a3.9 3.9 0 1 1 7.8 0a3.9 3.9 0 1 1 -7.8 0M696.3 872.0a3.9 3.9 0 1 1 7.8 0a3.9 3.9 0 1 1 -7.8 0M695.6 874.6a3.9 3.9 0 1 1 7.8 0a3.9 3.9 0 1 1 -7.8 0M694.1 884.6a3.9 3.9 0 1 1 7.8 0a3.9 3.9 0 1 1 -7.8 0M699.7 862.1a3.9 3.9 0 1 1 7.8 0a3.9 3.9 0 1 1 -7.8 0M700.2 864.3a3.9 3.9 0 1 1 7.8 0a3.9 3.9 0 1 1 -7.8 0M702.3 867.0l4.9 8.7h-9.8zM698.6 880.8a3.9 3.9 0 1 1 7.8 0a3.9 3.9 0 1 1 -7.8 0M703.4 880.7l4.9 8.7h-9.8zM703.8 863.8a3.9 3.9 0 1 1 7.8 0a3.9 3.9 0 1 1 -7.8 0M703.1 867.5a3.9 3.9 0 1 1 7.8 0a3.9 3.9 0 1 1 -7.8 0M700.5 870.7a3.9 3.9 0 1 1 7.8 0a3.9 3.9 0 1 1 -7.8 0M704.8 872.6a3.9 3.9 0 1 1 7.8 0a3.9 3.9 0 1 1 -7.8 0M704.8 878.8a3.9 3.9 0 1 1 7.8 0a3.9 3.9 0 1 1 -7.8 0M700.7 883.5a3.9 3.9 0 1 1 7.8 0a3.9 3.9 0 1 1 -7.8 0M704.5 884.7a3.9 3.9 0 1 1 7.8 0a3.9 3.9 0 1 1 -7.8 0M709.6 856.8l4.9 8.7h-9.8zM708.6 865.6l4.9 8.7h-9.8zM705.2 880.3a3.9 3.9 0 1 1 7.8 0a3.9 3.9 0 1 1 -7.8 0M711.2 880.4l4.9 8.7h-9.8zM708.2 886.9a3.9 3.9 0 1 1 7.8 0a3.9 3.9 0 1 1 -7.8 0M206.5 812.2l4.9 8.7h-9.8zM236.5 803.4l4.9 8.7h-9.8zM215.4 837.8l4.9 8.7h-9.8zM117.7 862.1l4.9 8.7h-9.8zM206.7 812.2l4.9 8.7h-9.8zM238.8 803.4l4.9 8.7h-9.8zM255.5 803.4l4.9 8.7h-9.8zM268.8 810.0l4.9 8.7h-9.8zM275.5 808.9l4.9 8.7h-9.8zM281.0 823.4l4.9 8.7h-9.8zM301.0 823.4l4.9 8.7h-9.8zM386.6 810.6l4.9 8.7h-9.8zM385.0 820.6l4.9 8.7h-9.8zM410.8 820.6l4.9 8.7h-9.8zM425.8 827.2l4.9 8.7h-9.8zM480.6 791.1l4.9 8.7h-9.8zM476.2 807.9l4.9 8.7h-9.8zM522.1 801.1l4.9 8.7h-9.8zM488.8 841.1l4.9 8.7h-9.8zM495.5 841.1l4.9 8.7h-9.8zM480.0 847.8l4.9 8.7h-9.8zM506.6 854.4l4.9 8.7h-9.8zM515.5 854.4l4.9 8.7h-9.8zM545.4 847.8l4.9 8.7h-9.8zM572.0 863.2l4.9 8.7h-9.8zM535.4 844.4l4.9 8.7h-9.8zM520.0 797.6l4.9 8.7h-9.8zM91.6 812.8a3.9 3.9 0 1 1 7.8 0a3.9 3.9 0 1 1 -7.8 0M77.2 833.3a3.9 3.9 0 1 1 7.8 0a3.9 3.9 0 1 1 -7.8 0M124.5 839.5a3.9 3.9 0 1 1 7.8 0a3.9 3.9 0 1 1 -7.8 0M138.7 851.5a3.9 3.9 0 1 1 7.8 0a3.9 3.9 0 1 1 -7.8 0M172.2 856.6a3.9 3.9 0 1 1 7.8 0a3.9 3.9 0 1 1 -7.8 0M96.1 862.1a3.9 3.9 0 1 1 7.8 0a3.9 3.9 0 1 1 -7.8 0M144.9 859.9a3.9 3.9 0 1 1 7.8 0a3.9 3.9 0 1 1 -7.8 0M158.2 866.5a3.9 3.9 0 1 1 7.8 0a3.9 3.9 0 1 1 -7.8 0M184.8 864.3a3.9 3.9 0 1 1 7.8 0a3.9 3.9 0 1 1 -7.8 0M200.4 863.2a3.9 3.9 0 1 1 7.8 0a3.9 3.9 0 1 1 -7.8 0M204.8 853.2a3.9 3.9 0 1 1 7.8 0a3.9 3.9 0 1 1 -7.8 0M77.1 850.0a3.9 3.9 0 1 1 7.8 0a3.9 3.9 0 1 1 -7.8 0M441.1 827.5a3.9 3.9 0 1 1 7.8 0a3.9 3.9 0 1 1 -7.8 0M447.7 830.0a3.9 3.9 0 1 1 7.8 0a3.9 3.9 0 1 1 -7.8 0M436.1 838.3a3.9 3.9 0 1 1 7.8 0a3.9 3.9 0 1 1 -7.8 0M446.1 840.0a3.9 3.9 0 1 1 7.8 0a3.9 3.9 0 1 1 -7.8 0M422.7 851.6a3.9 3.9 0 1 1 7.8 0a3.9 3.9 0 1 1 -7.8 0M432.7 852.5a3.9 3.9 0 1 1 7.8 0a3.9 3.9 0 1 1 -7.8 0M437.7 858.3a3.9 3.9 0 1 1 7.8 0a3.9 3.9 0 1 1 -7.8 0M349.4 851.6a3.9 3.9 0 1 1 7.8 0a3.9 3.9 0 1 1 -7.8 0M357.7 851.6a3.9 3.9 0 1 1 7.8 0a3.9 3.9 0 1 1 -7.8 0M366.1 851.6a3.9 3.9 0 1 1 7.8 0a3.9 3.9 0 1 1 -7.8 0M375.2 851.6a3.9 3.9 0 1 1 7.8 0a3.9 3.9 0 1 1 -7.8 0M380.2 845.8a3.9 3.9 0 1 1 7.8 0a3.9 3.9 0 1 1 -7.8 0M457.2 823.3a3.9 3.9 0 1 1 7.8 0a3.9 3.9 0 1 1 -7.8 0M440.5 828.8a3.9 3.9 0 1 1 7.8 0a3.9 3.9 0 1 1 -7.8 0M447.2 830.0a3.9 3.9 0 1 1 7.8 0a3.9 3.9 0 1 1 -7.8 0M437.2 838.8a3.9 3.9 0 1 1 7.8 0a3.9 3.9 0 1 1 -7.8 0M446.1 840.6a3.9 3.9 0 1 1 7.8 0a3.9 3.9 0 1 1 -7.8 0M453.9 843.3a3.9 3.9 0 1 1 7.8 0a3.9 3.9 0 1 1 -7.8 0M529.3 845.5a3.9 3.9 0 1 1 7.8 0a3.9 3.9 0 1 1 -7.8 0M524.9 862.1a3.9 3.9 0 1 1 7.8 0a3.9 3.9 0 1 1 -7.8 0M592.6 871.0a3.9 3.9 0 1 1 7.8 0a3.9 3.9 0 1 1 -7.8 0M674.4 848.7a3.9 3.9 0 1 1 7.8 0a3.9 3.9 0 1 1 -7.8 0M700.6 852.4a3.9 3.9 0 1 1 7.8 0a3.9 3.9 0 1 1 -7.8 0M666.0 864.6a3.9 3.9 0 1 1 7.8 0a3.9 3.9 0 1 1 -7.8 0M593.0 871.1a3.9 3.9 0 1 1 7.8 0a3.9 3.9 0 1 1 -7.8 0M707.2 861.8a3.9 3.9 0 1 1 7.8 0a3.9 3.9 0 1 1 -7.8 0M705.3 867.4a3.9 3.9 0 1 1 7.8 0a3.9 3.9 0 1 1 -7.8 0M675.4 869.3a3.9 3.9 0 1 1 7.8 0a3.9 3.9 0 1 1 -7.8 0M221.1 828.0a3.9 3.9 0 1 1 7.8 0a3.9 3.9 0 1 1 -7.8 0M236.1 826.0a3.9 3.9 0 1 1 7.8 0a3.9 3.9 0 1 1 -7.8 0M251.1 830.0a3.9 3.9 0 1 1 7.8 0a3.9 3.9 0 1 1 -7.8 0M266.1 828.0a3.9 3.9 0 1 1 7.8 0a3.9 3.9 0 1 1 -7.8 0" fill="#b4b6b5"/>
<path d="M397.4 818.0a3.9 3.9 0 1 1 7.8 0a3.9 3.9 0 1 1 -7.8 0M393.5 846.6a3.9 3.9 0 1 1 7.8 0a3.9 3.9 0 1 1 -7.8 0M392.7 851.6a3.9 3.9 0 1 1 7.8 0a3.9 3.9 0 1 1 -7.8 0M384.4 880.0a3.9 3.9 0 1 1 7.8 0a3.9 3.9 0 1 1 -7.8 0M381.1 883.3a3.9 3.9 0 1 1 7.8 0a3.9 3.9 0 1 1 -7.8 0M394.1 849.0a3.9 3.9 0 1 1 7.8 0a3.9 3.9 0 1 1 -7.8 0" fill="#ec3237"/>
<path d="M414.4 857.5a3.9 3.9 0 1 1 7.8 0a3.9 3.9 0 1 1 -7.8 0M413.6 865.0a3.9 3.9 0 1 1 7.8 0a3.9 3.9 0 1 1 -7.8 0M401.1 875.0a3.9 3.9 0 1 1 7.8 0a3.9 3.9 0 1 1 -7.8 0M404.4 875.0a3.9 3.9 0 1 1 7.8 0a3.9 3.9 0 1 1 -7.8 0M387.7 888.3a3.9 3.9 0 1 1 7.8 0a3.9 3.9 0 1 1 -7.8 0M397.7 885.0a3.9 3.9 0 1 1 7.8 0a3.9 3.9 0 1 1 -7.8 0M403.6 896.6a3.9 3.9 0 1 1 7.8 0a3.9 3.9 0 1 1 -7.8 0M416.1 880.0a3.9 3.9 0 1 1 7.8 0a3.9 3.9 0 1 1 -7.8 0M385.6 883.9a3.9 3.9 0 1 1 7.8 0a3.9 3.9 0 1 1 -7.8 0M414.9 888.1a3.9 3.9 0 1 1 7.8 0a3.9 3.9 0 1 1 -7.8 0M391.1 878.5a3.9 3.9 0 1 1 7.8 0a3.9 3.9 0 1 1 -7.8 0" fill="#f48a8d"/>
<path d="M386.1 858.3a3.9 3.9 0 1 1 7.8 0a3.9 3.9 0 1 1 -7.8 0M381.9 860.8a3.9 3.9 0 1 1 7.8 0a3.9 3.9 0 1 1 -7.8 0M411.9 838.0a3.9 3.9 0 1 1 7.8 0a3.9 3.9 0 1 1 -7.8 0M399.4 841.6a3.9 3.9 0 1 1 7.8 0a3.9 3.9 0 1 1 -7.8 0M381.1 895.0a3.9 3.9 0 1 1 7.8 0a3.9 3.9 0 1 1 -7.8 0M389.4 895.0a3.9 3.9 0 1 1 7.8 0a3.9 3.9 0 1 1 -7.8 0M409.4 886.6a3.9 3.9 0 1 1 7.8 0a3.9 3.9 0 1 1 -7.8 0M422.7 886.6a3.9 3.9 0 1 1 7.8 0a3.9 3.9 0 1 1 -7.8 0M411.9 895.0a3.9 3.9 0 1 1 7.8 0a3.9 3.9 0 1 1 -7.8 0M351.9 885.0a3.9 3.9 0 1 1 7.8 0a3.9 3.9 0 1 1 -7.8 0M329.3 894.3a3.9 3.9 0 1 1 7.8 0a3.9 3.9 0 1 1 -7.8 0M351.4 884.3a3.9 3.9 0 1 1 7.8 0a3.9 3.9 0 1 1 -7.8 0M388.1 862.0a3.9 3.9 0 1 1 7.8 0a3.9 3.9 0 1 1 -7.8 0M384.1 856.0a3.9 3.9 0 1 1 7.8 0a3.9 3.9 0 1 1 -7.8 0M397.7 884.6a3.9 3.9 0 1 1 7.8 0a3.9 3.9 0 1 1 -7.8 0M386.6 876.1a3.9 3.9 0 1 1 7.8 0a3.9 3.9 0 1 1 -7.8 0M388.9 885.4a3.9 3.9 0 1 1 7.8 0a3.9 3.9 0 1 1 -7.8 0M381.6 892.7a3.9 3.9 0 1 1 7.8 0a3.9 3.9 0 1 1 -7.8 0M383.5 871.9a3.9 3.9 0 1 1 7.8 0a3.9 3.9 0 1 1 -7.8 0M401.0 875.1a3.9 3.9 0 1 1 7.8 0a3.9 3.9 0 1 1 -7.8 0M390.5 876.7a3.9 3.9 0 1 1 7.8 0a3.9 3.9 0 1 1 -7.8 0" fill="#f7aaad"/>
<path d="M411.4 880.2a3.9 3.9 0 1 1 7.8 0a3.9 3.9 0 1 1 -7.8 0M379.8 880.4a3.9 3.9 0 1 1 7.8 0a3.9 3.9 0 1 1 -7.8 0" fill="#f06266"/>
<path d="M396.1 36.6l5.6 5.6l-5.6 5.6l-5.6 -5.6zM395.0 253.7a3.9 3.9 0 1 1 7.8 0a3.9 3.9 0 1 1 -7.8 0M391.7 429.4a3.9 3.9 0 1 1 7.8 0a3.9 3.9 0 1 1 -7.8 0M394.9 432.6a3.9 3.9 0 1 1 7.8 0a3.9 3.9 0 1 1 -7.8 0M395.9 436.8a3.9 3.9 0 1 1 7.8 0a3.9 3.9 0 1 1 -7.8 0M397.0 441.0a3.9 3.9 0 1 1 7.8 0a3.9 3.9 0 1 1 -7.8 0M392.8 427.3a3.9 3.9 0 1 1 7.8 0a3.9 3.9 0 1 1 -7.8 0M397.6 456.7a3.9 3.9 0 1 1 7.8 0a3.9 3.9 0 1 1 -7.8 0M390.7 473.4a3.9 3.9 0 1 1 7.8 0a3.9 3.9 0 1 1 -7.8 0M393.4 473.4a3.9 3.9 0 1 1 7.8 0a3.9 3.9 0 1 1 -7.8 0M387.1 555.8a3.9 3.9 0 1 1 7.8 0a3.9 3.9 0 1 1 -7.8 0M383.3 587.6a3.9 3.9 0 1 1 7.8 0a3.9 3.9 0 1 1 -7.8 0M382.3 599.1a3.9 3.9 0 1 1 7.8 0a3.9 3.9 0 1 1 -7.8 0M381.2 608.6a3.9 3.9 0 1 1 7.8 0a3.9 3.9 0 1 1 -7.8 0M382.7 590.0a3.9 3.9 0 1 1 7.8 0a3.9 3.9 0 1 1 -7.8 0M382.7 600.0a3.9 3.9 0 1 1 7.8 0a3.9 3.9 0 1 1 -7.8 0M396.6 424.5l5.0 5.0l-5.0 5.0l-5.0 -5.0zM390.3 432.0a3.9 3.9 0 1 1 7.8 0a3.9 3.9 0 1 1 -7.8 0" fill="#ec3237"/>
<path d="M389.3 54.4a3.9 3.9 0 1 1 7.8 0a3.9 3.9 0 1 1 -7.8 0M392.7 63.3a3.9 3.9 0 1 1 7.8 0a3.9 3.9 0 1 1 -7.8 0M387.1 66.6a3.9 3.9 0 1 1 7.8 0a3.9 3.9 0 1 1 -7.8 0M393.8 65.5a3.9 3.9 0 1 1 7.8 0a3.9 3.9 0 1 1 -7.8 0M389.6 60.0a3.9 3.9 0 1 1 7.8 0a3.9 3.9 0 1 1 -7.8 0M388.2 72.2a3.9 3.9 0 1 1 7.8 0a3.9 3.9 0 1 1 -7.8 0M384.9 143.8a3.9 3.9 0 1 1 7.8 0a3.9 3.9 0 1 1 -7.8 0M378.9 189.8a3.9 3.9 0 1 1 7.8 0a3.9 3.9 0 1 1 -7.8 0M395.0 271.5a3.9 3.9 0 1 1 7.8 0a3.9 3.9 0 1 1 -7.8 0" fill="#f06266"/>
<path d="M392.2 83.9a3.9 3.9 0 1 1 7.8 0a3.9 3.9 0 1 1 -7.8 0M379.4 133.2a3.9 3.9 0 1 1 7.8 0a3.9 3.9 0 1 1 -7.8 0M380.1 130.0a3.9 3.9 0 1 1 7.8 0a3.9 3.9 0 1 1 -7.8 0M377.6 164.7a3.9 3.9 0 1 1 7.8 0a3.9 3.9 0 1 1 -7.8 0M410.5 261.0a3.9 3.9 0 1 1 7.8 0a3.9 3.9 0 1 1 -7.8 0M386.8 278.8a3.9 3.9 0 1 1 7.8 0a3.9 3.9 0 1 1 -7.8 0M379.2 297.6a3.9 3.9 0 1 1 7.8 0a3.9 3.9 0 1 1 -7.8 0M377.0 311.0a3.9 3.9 0 1 1 7.8 0a3.9 3.9 0 1 1 -7.8 0M411.6 293.2a3.9 3.9 0 1 1 7.8 0a3.9 3.9 0 1 1 -7.8 0M380.5 297.6a3.9 3.9 0 1 1 7.8 0a3.9 3.9 0 1 1 -7.8 0M385.0 301.0a3.9 3.9 0 1 1 7.8 0a3.9 3.9 0 1 1 -7.8 0M413.8 303.2a3.9 3.9 0 1 1 7.8 0a3.9 3.9 0 1 1 -7.8 0M419.4 307.6a3.9 3.9 0 1 1 7.8 0a3.9 3.9 0 1 1 -7.8 0M377.2 311.0a3.9 3.9 0 1 1 7.8 0a3.9 3.9 0 1 1 -7.8 0M429.4 333.2a3.9 3.9 0 1 1 7.8 0a3.9 3.9 0 1 1 -7.8 0M382.8 342.0a3.9 3.9 0 1 1 7.8 0a3.9 3.9 0 1 1 -7.8 0M395.0 343.1a3.9 3.9 0 1 1 7.8 0a3.9 3.9 0 1 1 -7.8 0M400.5 335.4a3.9 3.9 0 1 1 7.8 0a3.9 3.9 0 1 1 -7.8 0M396.1 338.7a3.9 3.9 0 1 1 7.8 0a3.9 3.9 0 1 1 -7.8 0M381.4 342.0a3.9 3.9 0 1 1 7.8 0a3.9 3.9 0 1 1 -7.8 0M388.6 482.4a3.9 3.9 0 1 1 7.8 0a3.9 3.9 0 1 1 -7.8 0M397.0 544.7a3.9 3.9 0 1 1 7.8 0a3.9 3.9 0 1 1 -7.8 0M388.6 564.6a3.9 3.9 0 1 1 7.8 0a3.9 3.9 0 1 1 -7.8 0M422.1 570.8a3.9 3.9 0 1 1 7.8 0a3.9 3.9 0 1 1 -7.8 0M412.7 576.0a3.9 3.9 0 1 1 7.8 0a3.9 3.9 0 1 1 -7.8 0M413.7 580.3a3.9 3.9 0 1 1 7.8 0a3.9 3.9 0 1 1 -7.8 0M422.1 574.0a3.9 3.9 0 1 1 7.8 0a3.9 3.9 0 1 1 -7.8 0M398.0 587.6a3.9 3.9 0 1 1 7.8 0a3.9 3.9 0 1 1 -7.8 0M397.0 593.9a3.9 3.9 0 1 1 7.8 0a3.9 3.9 0 1 1 -7.8 0M400.1 599.1a3.9 3.9 0 1 1 7.8 0a3.9 3.9 0 1 1 -7.8 0M403.2 603.3a3.9 3.9 0 1 1 7.8 0a3.9 3.9 0 1 1 -7.8 0M387.5 602.3a3.9 3.9 0 1 1 7.8 0a3.9 3.9 0 1 1 -7.8 0M387.5 609.6a3.9 3.9 0 1 1 7.8 0a3.9 3.9 0 1 1 -7.8 0M383.3 617.0a3.9 3.9 0 1 1 7.8 0a3.9 3.9 0 1 1 -7.8 0M381.2 624.3a3.9 3.9 0 1 1 7.8 0a3.9 3.9 0 1 1 -7.8 0M368.7 620.0a3.9 3.9 0 1 1 7.8 0a3.9 3.9 0 1 1 -7.8 0M359.2 620.0a3.9 3.9 0 1 1 7.8 0a3.9 3.9 0 1 1 -7.8 0M431.5 600.2a3.9 3.9 0 1 1 7.8 0a3.9 3.9 0 1 1 -7.8 0M439.9 614.8a3.9 3.9 0 1 1 7.8 0a3.9 3.9 0 1 1 -7.8 0M318.6 612.5a3.9 3.9 0 1 1 7.8 0a3.9 3.9 0 1 1 -7.8 0M332.7 620.3a3.9 3.9 0 1 1 7.8 0a3.9 3.9 0 1 1 -7.8 0M340.2 621.6a3.9 3.9 0 1 1 7.8 0a3.9 3.9 0 1 1 -7.8 0M359.4 620.0a3.9 3.9 0 1 1 7.8 0a3.9 3.9 0 1 1 -7.8 0M368.6 620.0a3.9 3.9 0 1 1 7.8 0a3.9 3.9 0 1 1 -7.8 0M381.1 608.3a3.9 3.9 0 1 1 7.8 0a3.9 3.9 0 1 1 -7.8 0M235.2 596.6a3.9 3.9 0 1 1 7.8 0a3.9 3.9 0 1 1 -7.8 0M440.0 614.8a3.9 3.9 0 1 1 7.8 0a3.9 3.9 0 1 1 -7.8 0M391.1 612.0a3.9 3.9 0 1 1 7.8 0a3.9 3.9 0 1 1 -7.8 0M394.1 618.0a3.9 3.9 0 1 1 7.8 0a3.9 3.9 0 1 1 -7.8 0" fill="#f7aaad"/>
<path d="M393.2 101.1l4.9 8.7h-9.8zM386.6 127.8l4.9 8.7h-9.8zM381.0 136.7l4.9 8.7h-9.8zM350.0 167.7l4.9 8.7h-9.8zM364.4 165.5l4.9 8.7h-9.8zM375.5 163.2l4.9 8.7h-9.8zM347.0 168.7l4.9 8.7h-9.8zM422.2 262.2l4.9 8.7h-9.8zM376.0 283.3l4.9 8.7h-9.8zM402.2 355.4l4.9 8.7h-9.8zM411.0 354.3l4.9 8.7h-9.8zM410.0 366.5l4.9 8.7h-9.8zM405.5 360.9l4.9 8.7h-9.8zM378.9 591.6l4.9 8.7h-9.8zM367.3 603.1l4.9 8.7h-9.8zM377.8 604.2l4.9 8.7h-9.8zM404.0 622.0l4.9 8.7h-9.8zM410.0 622.0l4.9 8.7h-9.8zM416.0 622.0l4.9 8.7h-9.8zM351.6 603.1l4.9 8.7h-9.8zM356.6 603.1l4.9 8.7h-9.8zM367.5 603.9l4.9 8.7h-9.8zM377.5 603.9l4.9 8.7h-9.8zM350.0 611.4l4.9 8.7h-9.8zM379.1 591.4l4.9 8.7h-9.8zM412.0 729.5l5.6 10.0h-11.3zM407.5 736.5l5.6 10.0h-11.3zM413.5 736.5l5.6 10.0h-11.3zM319.8 811.1l4.9 8.7h-9.8zM328.7 818.9l4.9 8.7h-9.8zM322.0 853.4l4.9 8.7h-9.8zM324.3 877.6l4.9 8.7h-9.8zM327.6 884.4l4.9 8.7h-9.8zM344.3 884.4l4.9 8.7h-9.8zM346.5 853.4l4.9 8.7h-9.8zM343.3 883.9l4.9 8.7h-9.8zM441.6 883.9l4.9 8.7h-9.8zM453.3 882.2l4.9 8.7h-9.8zM345.0 845.6l4.9 8.7h-9.8zM445.5 884.4l4.9 8.7h-9.8zM453.3 881.0l4.9 8.7h-9.8zM322.0 873.6l4.9 8.7h-9.8z" fill="#9896cf"/>
<path d="M401.5 99.6l4.9 8.7h-9.8zM405.5 102.2l4.9 8.7h-9.8zM406.6 111.1l4.9 8.7h-9.8zM404.3 115.6l4.9 8.7h-9.8zM407.7 123.2l4.9 8.7h-9.8zM402.0 105.7l4.9 8.7h-9.8zM409.0 106.7l4.9 8.7h-9.8zM411.7 102.9l4.8 4.8l-4.8 4.8l-4.8 -4.8zM400.4 209.0l4.9 8.7h-9.8zM409.2 537.1l4.9 8.7h-9.8zM404.0 542.4l4.9 8.7h-9.8zM408.2 543.4l4.9 8.7h-9.8zM403.0 545.5l4.9 8.7h-9.8zM414.5 558.1l4.9 8.7h-9.8zM383.3 553.1l4.9 8.7h-9.8zM412.4 527.3l4.8 4.8l-4.8 4.8l-4.8 -4.8zM404.5 683.6l4.9 8.7h-9.8zM409.5 681.6l4.9 8.7h-9.8zM403.5 688.1l4.9 8.7h-9.8zM407.0 678.6l4.9 8.7h-9.8zM413.3 700.1l5.4 5.4l-5.4 5.4l-5.4 -5.4zM383.9 742.4l4.9 8.7h-9.8z" fill="#33489e"/>
<path d="M358.4 169.8l4.9 8.7h-9.8z" fill="#b4b6b5"/>
<path d="M396.7 518.4l4.9 8.7h-9.8zM383.0 553.9l4.9 8.7h-9.8z" fill="#5f66b0"/>
<path d="M352.5 805.6l4.9 8.7h-9.8zM355.8 805.6l4.9 8.7h-9.8zM367.5 805.6l4.9 8.7h-9.8zM378.3 805.6l4.9 8.7h-9.8zM389.1 814.8l4.9 8.7h-9.8zM379.1 831.4l4.9 8.7h-9.8zM351.6 860.5l4.9 8.7h-9.8zM369.1 861.4l4.9 8.7h-9.8zM374.1 861.4l4.9 8.7h-9.8zM382.4 868.0l4.9 8.7h-9.8zM397.4 835.6l4.9 8.7h-9.8zM353.1 804.4l4.9 8.7h-9.8zM337.6 844.4l4.9 8.7h-9.8zM350.9 859.9l4.9 8.7h-9.8zM340.9 846.6l4.9 8.7h-9.8z" fill="#5259ab"/><rect x="80.3" y="5.8" width="632.6" height="388.5" fill="none" stroke="#5a5a5a" stroke-width="1.3"/><rect x="80.3" y="401.2" width="633.2" height="244.2" fill="none" stroke="#5a5a5a" stroke-width="1.3"/><rect x="80.5" y="656.0" width="634.1" height="258.4" fill="none" stroke="#5a5a5a" stroke-width="1.3"/><rect x="79.6" y="918.6" width="635.6" height="77.4" fill="none" stroke="#5a5a5a" stroke-width="1.3"/><line x1="71.7" y1="9.0" x2="80.3" y2="9.0" stroke="#5a5a5a" stroke-width="1.2"/><text x="64.3" y="18.2" text-anchor="end" class="tk">30</text><line x1="71.7" y1="70.2" x2="80.3" y2="70.2" stroke="#5a5a5a" stroke-width="1.2"/><text x="64.3" y="75.1" text-anchor="end" class="tk">25</text><line x1="71.7" y1="131.3" x2="80.3" y2="131.3" stroke="#5a5a5a" stroke-width="1.2"/><text x="64.3" y="136.2" text-anchor="end" class="tk">20</text><line x1="71.7" y1="192.5" x2="80.3" y2="192.5" stroke="#5a5a5a" stroke-width="1.2"/><text x="64.3" y="197.4" text-anchor="end" class="tk">15</text><line x1="71.7" y1="253.6" x2="80.3" y2="253.6" stroke="#5a5a5a" stroke-width="1.2"/><text x="64.3" y="258.5" text-anchor="end" class="tk">10</text><line x1="71.7" y1="314.8" x2="80.3" y2="314.8" stroke="#5a5a5a" stroke-width="1.2"/><text x="64.3" y="319.7" text-anchor="end" class="tk">5</text><line x1="71.7" y1="376.0" x2="80.3" y2="376.0" stroke="#5a5a5a" stroke-width="1.2"/><text x="64.3" y="380.9" text-anchor="end" class="tk">0</text><line x1="71.7" y1="435.9" x2="80.3" y2="435.9" stroke="#5a5a5a" stroke-width="1.2"/><text x="64.3" y="440.8" text-anchor="end" class="tk">6</text><line x1="71.7" y1="500.2" x2="80.3" y2="500.2" stroke="#5a5a5a" stroke-width="1.2"/><text x="64.3" y="505.1" text-anchor="end" class="tk">4</text><line x1="71.7" y1="564.6" x2="80.3" y2="564.6" stroke="#5a5a5a" stroke-width="1.2"/><text x="64.3" y="569.5" text-anchor="end" class="tk">2</text><line x1="71.7" y1="629.1" x2="80.3" y2="629.1" stroke="#5a5a5a" stroke-width="1.2"/><text x="64.3" y="634.0" text-anchor="end" class="tk">0</text><line x1="71.7" y1="705.0" x2="80.5" y2="705.0" stroke="#5a5a5a" stroke-width="1.2"/><text x="64.3" y="709.9" text-anchor="end" class="tk">6</text><line x1="71.7" y1="769.4" x2="80.5" y2="769.4" stroke="#5a5a5a" stroke-width="1.2"/><text x="64.3" y="774.3" text-anchor="end" class="tk">4</text><line x1="71.7" y1="833.8" x2="80.5" y2="833.8" stroke="#5a5a5a" stroke-width="1.2"/><text x="64.3" y="838.7" text-anchor="end" class="tk">2</text><line x1="71.7" y1="898.2" x2="80.5" y2="898.2" stroke="#5a5a5a" stroke-width="1.2"/><text x="64.3" y="903.1" text-anchor="end" class="tk">0</text><line x1="184.6" y1="996.0" x2="184.6" y2="1003.3" stroke="#5a5a5a" stroke-width="1.2"/><text x="184.6" y="1024.0" text-anchor="middle" class="tk" style="font-size:13.2px">41.2</text><line x1="311.8" y1="996.0" x2="311.8" y2="1003.3" stroke="#5a5a5a" stroke-width="1.2"/><text x="311.8" y="1024.0" text-anchor="middle" class="tk" style="font-size:13.2px">41.4</text><line x1="439.1" y1="996.0" x2="439.1" y2="1003.3" stroke="#5a5a5a" stroke-width="1.2"/><text x="439.1" y="1024.0" text-anchor="middle" class="tk" style="font-size:13.2px">41.6</text><line x1="566.3" y1="996.0" x2="566.3" y2="1003.3" stroke="#5a5a5a" stroke-width="1.2"/><text x="566.3" y="1024.0" text-anchor="middle" class="tk" style="font-size:13.2px">41.8</text><line x1="693.6" y1="996.0" x2="693.6" y2="1003.3" stroke="#5a5a5a" stroke-width="1.2"/><text x="693.6" y="1024.0" text-anchor="middle" class="tk" style="font-size:13.2px">42</text><text x="397.5" y="1043.0" text-anchor="middle" class="tk" style="font-size:13.4px">Position on chr8 (Mb)</text><text transform="translate(34.8,192.5) rotate(-90)" text-anchor="middle" class="tk" style="font-size:13.7px">−log<tspan font-size="9" dy="3">10</tspan><tspan dy="-3">(p−value)</tspan></text><text transform="translate(34.8,526.5) rotate(-90)" text-anchor="middle" class="tk" style="font-size:13.7px">−log<tspan font-size="9" dy="3">10</tspan><tspan dy="-3">(p−value)</tspan></text><text transform="translate(34.8,759.2) rotate(-90)" text-anchor="middle" class="tk" style="font-size:13.7px">−log<tspan font-size="9" dy="3">10</tspan><tspan dy="-3">(p−value)</tspan></text><text x="3.5" y="20.5" style="font-size:18px;fill:#111">a</text><text x="3.5" y="416.7" style="font-size:18px;fill:#111">b</text><text x="3.5" y="673" style="font-size:17px;fill:#111">c</text><text x="84.2" y="21" class="ti" textLength="158">AGEN T2D GWAS Results</text><text x="86.0" y="416.8" class="ti" textLength="204.6">NKX6-3 eQTL Results (Pan. Islets)</text><text x="84.6" y="670.3" class="ti" textLength="206.6">ANK1 eQTL Results (Sub. Adipose)</text><text x="580.3" y="18" style="font-size:9.5px;fill:#111">r<tspan font-size="6.5" dy="-4">2</tspan><tspan dy="4">with reference SNP</tspan></text><text x="545.2" y="39.8" text-anchor="middle" style="font-size:10px;fill:#111">0</text><line x1="545.2" y1="43.8" x2="545.2" y2="52.5" stroke="#111" stroke-width="0.9"/><text x="577.4" y="39.8" text-anchor="middle" style="font-size:10px;fill:#111">0.2</text><line x1="577.4" y1="43.8" x2="577.4" y2="52.5" stroke="#111" stroke-width="0.9"/><text x="609.6" y="39.8" text-anchor="middle" style="font-size:10px;fill:#111">0.4</text><line x1="609.6" y1="43.8" x2="609.6" y2="52.5" stroke="#111" stroke-width="0.9"/><text x="641.8" y="39.8" text-anchor="middle" style="font-size:10px;fill:#111">0.6</text><line x1="641.8" y1="43.8" x2="641.8" y2="52.5" stroke="#111" stroke-width="0.9"/><text x="674.0" y="39.8" text-anchor="middle" style="font-size:10px;fill:#111">0.8</text><line x1="674.0" y1="43.8" x2="674.0" y2="52.5" stroke="#111" stroke-width="0.9"/><text x="706.2" y="39.8" text-anchor="middle" style="font-size:10px;fill:#111">1</text><line x1="706.2" y1="43.8" x2="706.2" y2="52.5" stroke="#111" stroke-width="0.9"/><rect x="545.2" y="52.9" width="32.2" height="10.6" fill="#b4b6b5" stroke="#222" stroke-width="0.9"/><rect x="545.2" y="69.4" width="32.2" height="10.8" fill="#b4b6b5" stroke="#222" stroke-width="0.9"/><rect x="577.4" y="52.9" width="32.2" height="10.6" fill="#9896cf" stroke="#222" stroke-width="0.9"/><rect x="577.4" y="69.4" width="32.2" height="10.8" fill="#f7aaad" stroke="#222" stroke-width="0.9"/><rect x="609.6" y="52.9" width="32.2" height="10.6" fill="#5f66b0" stroke="#222" stroke-width="0.9"/><rect x="609.6" y="69.4" width="32.2" height="10.8" fill="#f48a8d" stroke="#222" stroke-width="0.9"/><rect x="641.8" y="52.9" width="32.2" height="10.6" fill="#4351a6" stroke="#222" stroke-width="0.9"/><rect x="641.8" y="69.4" width="32.2" height="10.8" fill="#f06266" stroke="#222" stroke-width="0.9"/><rect x="674.0" y="52.9" width="32.2" height="10.6" fill="#33489e" stroke="#222" stroke-width="0.9"/><rect x="674.0" y="69.4" width="32.2" height="10.8" fill="#ec3237" stroke="#222" stroke-width="0.9"/><text x="296.6" y="75.5" text-anchor="middle" class="an">rs33981001</text><text x="298" y="91.3" text-anchor="middle" class="an">(Signal 1)</text><line x1="340.8" y1="66.8" x2="389" y2="42.2" stroke="#222" stroke-width="1"/><text x="508.3" y="121.8" text-anchor="middle" class="an">rs62508166</text><text x="508.8" y="138.5" text-anchor="middle" class="an">(Signal 2)</text><line x1="420.8" y1="111.4" x2="474.5" y2="126.6" stroke="#666" stroke-width="1"/><text x="303" y="468.8" text-anchor="middle" class="an">rs33981001</text><text x="304" y="485.2" text-anchor="middle" class="an">(Signal 1)</text><line x1="344.1" y1="456.8" x2="386.3" y2="437.7" stroke="#222" stroke-width="1"/><text x="512.5" y="713.3" text-anchor="middle" class="an">rs62508166</text><text x="513" y="728.4" text-anchor="middle" class="an">(Signal 2)</text><line x1="421.1" y1="705.5" x2="469.2" y2="710" stroke="#222" stroke-width="1"/><text x="137" y="931.7" class="gn">SFRP1</text><path d="M134.2 927.8H123.3M127.8 925.5999999999999L123.3 927.8L127.8 930.0" fill="none" stroke="#333" stroke-width="1.2"/><line x1="133.3" y1="936.8" x2="164.2" y2="936.8" stroke="#1f2580" stroke-width="1"/><rect x="133.3" y="934.5999999999999" width="2.9" height="4.4" fill="#1f2580"/><rect x="161.9" y="934.5999999999999" width="1.2" height="4.4" fill="#1f2580"/><rect x="163.6" y="934.5999999999999" width="1.2" height="4.4" fill="#1f2580"/><text x="257.8" y="931.8" class="gn">GOLGA7</text><path d="M303.5 927.8H315.5M311.0 925.5999999999999L315.5 927.8L311.0 930.0" fill="none" stroke="#333" stroke-width="1.2"/><line x1="278.8" y1="936.9" x2="292.6" y2="936.9" stroke="#1f2580" stroke-width="1"/><rect x="278.2" y="934.6999999999999" width="1.2" height="4.4" fill="#1f2580"/><rect x="281.9" y="934.6999999999999" width="1.2" height="4.4" fill="#1f2580"/><rect x="285.5" y="934.6999999999999" width="2.5" height="4.4" fill="#1f2580"/><rect x="289.5" y="934.6999999999999" width="3.1" height="4.4" fill="#1f2580"/><text x="364.4" y="931.5" class="gn">NKX6−3</text><path d="M361.7 927.6H350.3M354.8 925.4L350.3 927.6L354.8 929.8000000000001" fill="none" stroke="#333" stroke-width="1.2"/><line x1="377.6" y1="936.8" x2="379.0" y2="936.8" stroke="#1f2580" stroke-width="1"/><rect x="377.6" y="934.5999999999999" width="1.4" height="4.4" fill="#1f2580"/><text x="287" y="957.5" class="gn">GINS4</text><path d="M320.5 953.5H332.8M328.3 951.3L332.8 953.5L328.3 955.7" fill="none" stroke="#333" stroke-width="1.2"/><line x1="303.3" y1="962.4" x2="314.4" y2="962.4" stroke="#1f2580" stroke-width="1"/><rect x="302.7" y="960.1999999999999" width="1.2" height="4.4" fill="#1f2580"/><rect x="307" y="960.1999999999999" width="2.0" height="4.4" fill="#1f2580"/><rect x="310.5" y="960.1999999999999" width="3.9" height="4.4" fill="#1f2580"/><text x="324.4" y="982.4" class="gn">AGPAT6</text><path d="M365.8 978.4H377.6M373.1 976.1999999999999L377.6 978.4L373.1 980.6" fill="none" stroke="#333" stroke-width="1.2"/><line x1="334.3" y1="987.5" x2="365.4" y2="987.5" stroke="#1f2580" stroke-width="1"/><rect x="333.7" y="985.3" width="1.2" height="4.4" fill="#1f2580"/><rect x="344.4" y="985.3" width="1.2" height="4.4" fill="#1f2580"/><rect x="351" y="985.3" width="4.0" height="4.4" fill="#1f2580"/><rect x="357" y="985.3" width="3.0" height="4.4" fill="#1f2580"/><rect x="361.5" y="985.3" width="3.9" height="4.4" fill="#1f2580"/><text x="452.5" y="956.9" class="gn">ANK1</text><path d="M449.3 952.9H438.2M442.7 950.6999999999999L438.2 952.9L442.7 955.1" fill="none" stroke="#333" stroke-width="1.2"/><line x1="382.2" y1="961.6" x2="537.8" y2="961.6" stroke="#1f2580" stroke-width="1"/><rect x="382.2" y="959.4" width="3.3" height="4.4" fill="#1f2580"/><rect x="387.5" y="959.4" width="3.5" height="4.4" fill="#1f2580"/><rect x="392.9" y="959.4" width="1.2" height="4.4" fill="#1f2580"/><rect x="402" y="959.4" width="2.0" height="4.4" fill="#1f2580"/><rect x="405" y="959.4" width="13.0" height="4.4" fill="#1f2580"/><rect x="421" y="959.4" width="6.0" height="4.4" fill="#1f2580"/><rect x="429" y="959.4" width="5.0" height="4.4" fill="#1f2580"/><rect x="435.5" y="959.4" width="2.0" height="4.4" fill="#1f2580"/><rect x="448.9" y="959.4" width="1.2" height="4.4" fill="#1f2580"/><rect x="473.9" y="959.4" width="1.2" height="4.4" fill="#1f2580"/><rect x="537.1999999999999" y="959.4" width="1.2" height="4.4" fill="#1f2580"/><text x="587.2" y="931.8" class="gn">KAT6A</text><path d="M584.7 927.8H572.7M577.2 925.5999999999999L572.7 927.8L577.2 930.0" fill="none" stroke="#333" stroke-width="1.2"/><line x1="557.6" y1="936.3" x2="636.2" y2="936.3" stroke="#1f2580" stroke-width="1"/><rect x="557.6" y="934.0999999999999" width="4.4" height="4.4" fill="#1f2580"/><rect x="563.5" y="934.0999999999999" width="4.5" height="4.4" fill="#1f2580"/><rect x="569.5" y="934.0999999999999" width="2.0" height="4.4" fill="#1f2580"/><rect x="573.9" y="934.0999999999999" width="1.2" height="4.4" fill="#1f2580"/><rect x="586" y="934.0999999999999" width="7.0" height="4.4" fill="#1f2580"/><rect x="594.9" y="934.0999999999999" width="1.2" height="4.4" fill="#1f2580"/><rect x="635.6" y="934.0999999999999" width="1.2" height="4.4" fill="#1f2580"/><text x="664.4" y="931.8" class="gn">AP3M2</text><path d="M701 927.8H713M708.5 925.5999999999999L713 927.8L708.5 930.0" fill="none" stroke="#333" stroke-width="1.2"/><line x1="700" y1="936.3" x2="712.6" y2="936.3" stroke="#1f2580" stroke-width="1"/><rect x="699.9" y="934.0999999999999" width="1.2" height="4.4" fill="#1f2580"/><rect x="703" y="934.0999999999999" width="2.0" height="4.4" fill="#1f2580"/><rect x="706.5" y="934.0999999999999" width="6.1" height="4.4" fill="#1f2580"/><text x="686.5" y="957" class="gn">PLAT</text><path d="M684.5 953H672.4M676.9 950.8L672.4 953L676.9 955.2" fill="none" stroke="#333" stroke-width="1.2"/><line x1="713.5" y1="962" x2="715" y2="962" stroke="#1f2580" stroke-width="1"/><rect x="713.5" y="959.8" width="1.5" height="4.4" fill="#1f2580"/></svg></body></html>
